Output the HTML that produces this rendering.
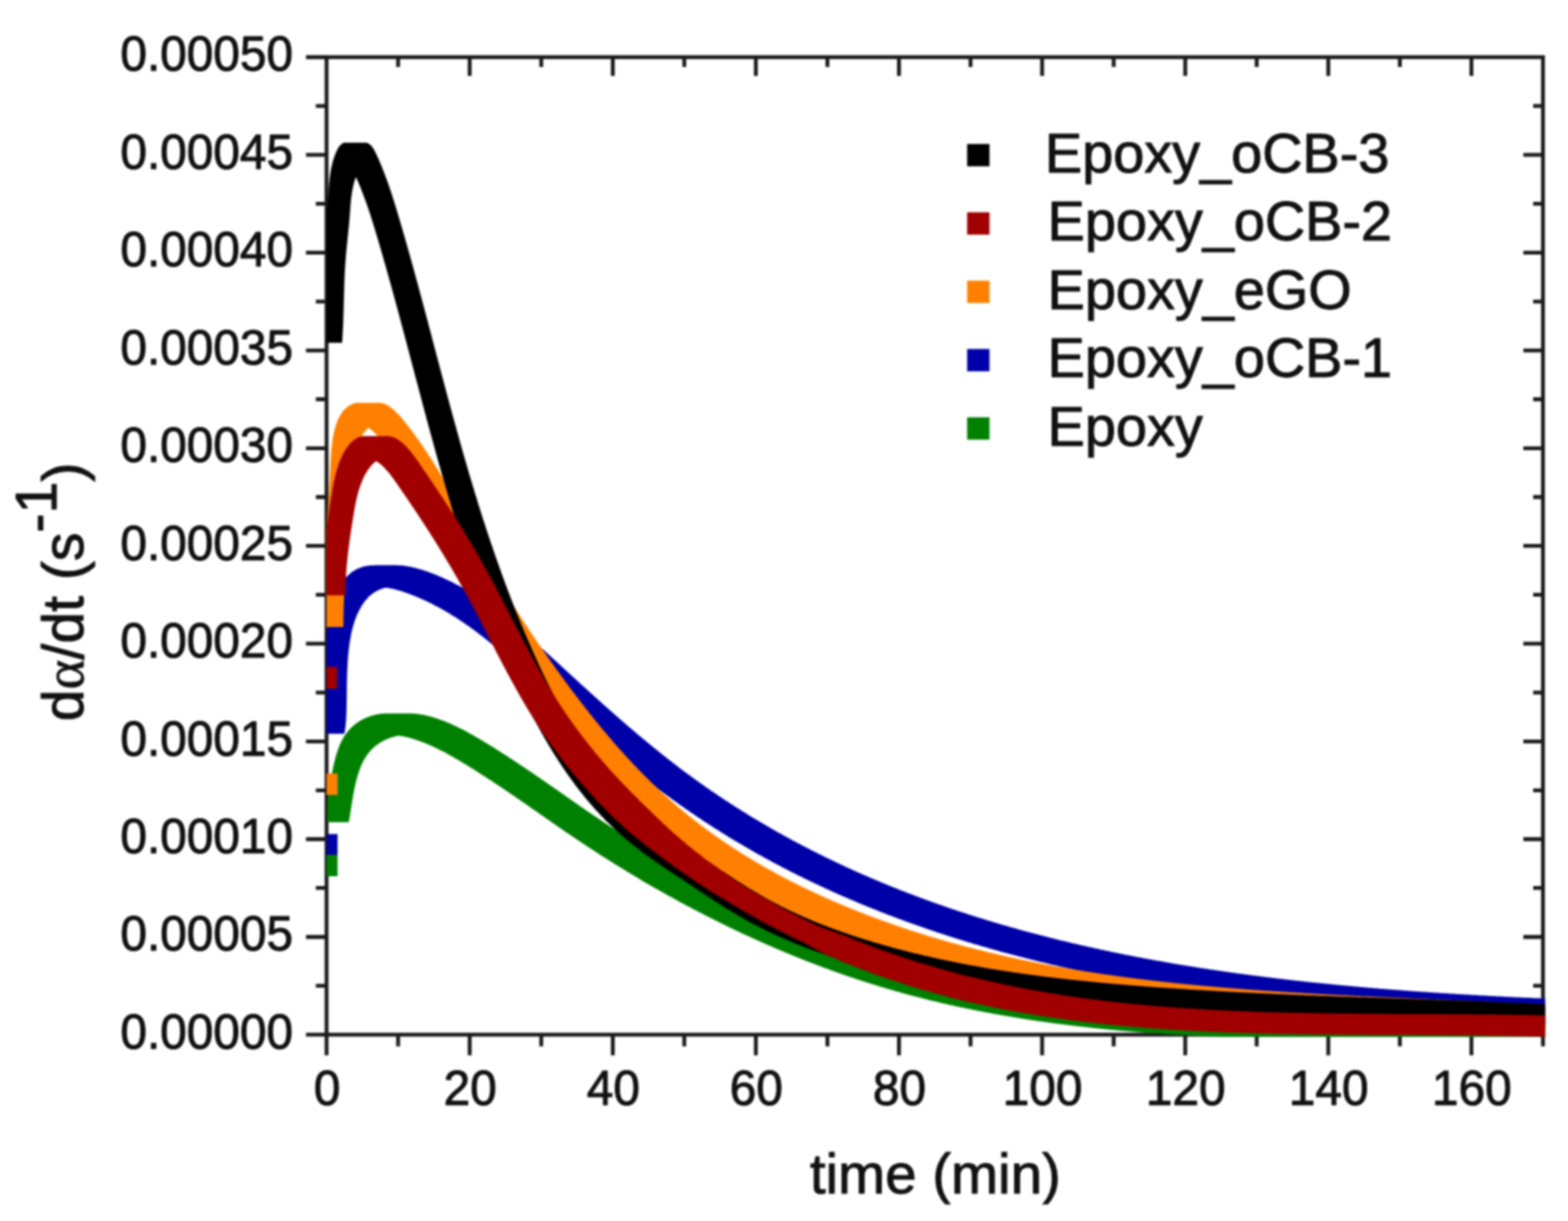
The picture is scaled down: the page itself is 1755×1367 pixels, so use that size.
<!DOCTYPE html>
<html><head><meta charset="utf-8"><style>
html,body{margin:0;padding:0;background:#fff;}
svg{display:block;}
text{font-family:"Liberation Sans",Arial,Helvetica,sans-serif;fill:#111;stroke:#111;stroke-width:1.1px;stroke-linejoin:round;paint-order:stroke fill;}
svg{filter:blur(1px);}
</style></head><body>
<svg width="1755" height="1367" viewBox="0 0 1755 1367">
<defs><clipPath id="pc"><rect x="365.5" y="64.0" width="1363.9" height="1096.8"/></clipPath></defs>
<rect width="1755" height="1367" fill="#fff"/>
<g stroke="#1a1a1a" stroke-width="4.3" fill="none">
<rect x="365.5" y="64.0" width="1361.5" height="1094.4"/>
<path d="M365.5 1158.4v23M445.6 1158.4v13M445.6 64.0v11M525.7 1158.4v23M525.7 64.0v21M605.8 1158.4v13M605.8 64.0v11M685.9 1158.4v23M685.9 64.0v21M765.9 1158.4v13M765.9 64.0v11M846.0 1158.4v23M846.0 64.0v21M926.1 1158.4v13M926.1 64.0v11M1006.2 1158.4v23M1006.2 64.0v21M1086.3 1158.4v13M1086.3 64.0v11M1166.4 1158.4v23M1166.4 64.0v21M1246.5 1158.4v13M1246.5 64.0v11M1326.6 1158.4v23M1326.6 64.0v21M1406.6 1158.4v13M1406.6 64.0v11M1486.7 1158.4v23M1486.7 64.0v21M1566.8 1158.4v13M1566.8 64.0v11M1646.9 1158.4v23M1646.9 64.0v21M1727.0 1158.4v13M365.5 1158.4h-23M365.5 1103.7h-12M1727.0 1103.7h-11M365.5 1049.0h-23M1727.0 1049.0h-22M365.5 994.2h-12M1727.0 994.2h-11M365.5 939.5h-23M1727.0 939.5h-22M365.5 884.8h-12M1727.0 884.8h-11M365.5 830.1h-23M1727.0 830.1h-22M365.5 775.4h-12M1727.0 775.4h-11M365.5 720.6h-23M1727.0 720.6h-22M365.5 665.9h-12M1727.0 665.9h-11M365.5 611.2h-23M1727.0 611.2h-22M365.5 556.5h-12M1727.0 556.5h-11M365.5 501.8h-23M1727.0 501.8h-22M365.5 447.0h-12M1727.0 447.0h-11M365.5 392.3h-23M1727.0 392.3h-22M365.5 337.6h-12M1727.0 337.6h-11M365.5 282.9h-23M1727.0 282.9h-22M365.5 228.2h-12M1727.0 228.2h-11M365.5 173.4h-23M1727.0 173.4h-22M365.5 118.7h-12M1727.0 118.7h-11M365.5 64.0h-23"/>
</g>
<g clip-path="url(#pc)" fill="none" stroke-width="24" stroke-linecap="square">
<path d="M365.8 945.7h0M373.4 809.4h0M373.6 808.8h0M373.7 808.1h0M373.8 807.4h0M374 806.8h0M374.1 806.1h0M374.2 805.4h0M374.3 804.6h0M374.4 803.9h0M374.5 803.2h0M374.6 802.4h0M374.7 801.7h0M374.8 800.9h0M374.9 800.1h0M375 799.3h0M375 798.5h0M375.1 797.7h0M375.2 796.9h0M375.2 796h0M375.3 795.2h0M375.4 794.3h0M375.4 793.5h0M375.5 792.6h0M375.5 791.7h0M375.6 790.8h0M375.6 789.9h0M375.6 789h0M375.7 788.1h0M375.7 787.2h0M375.8 786.3h0M375.8 785.3h0M375.8 784.4h0M375.8 783.4h0M375.9 782.5h0M375.9 781.5h0M375.9 780.5h0M375.9 779.5h0M376 778.5h0M376 777.5h0M376 776.5h0M376 775.5h0M376 774.5h0M376 773.5h0M376.1 772.5h0M376.1 771.4h0M376.1 770.4h0M376.1 769.3h0M376.1 768.3h0M376.1 767.2h0M376.1 766.2h0M376.1 765.1h0M376.1 764h0M376.2 763h0M376.2 761.9h0M376.2 760.8h0M376.2 759.7h0M376.2 758.6h0M376.2 757.5h0M376.2 756.4h0M376.3 755.3h0M376.3 754.2h0M376.3 753.1h0M376.3 752h0M376.3 750.9h0M376.4 749.8h0M376.4 748.7h0M376.4 747.5h0M376.4 746.4h0M376.5 745.3h0M376.5 744.2h0M376.5 743h0M376.6 741.9h0M376.6 740.8h0M376.7 739.7h0M376.7 738.5h0M376.8 737.4h0M376.8 736.3h0M376.9 735.1h0M376.9 734h0M377 732.8h0M377 731.7h0M377.1 730.6h0M377.2 729.4h0M377.3 728.3h0M377.3 727.2h0M377.4 726h0M377.5 724.9h0M377.6 723.8h0M377.7 722.6h0M377.8 721.5h0M377.9 720.4h0M378 719.3h0M378.1 718.1h0M378.2 717h0M378.4 715.9h0M378.5 714.8h0M378.6 713.7h0M378.8 712.5h0M378.9 711.4h0M379.1 710.3h0M379.2 709.2h0M379.4 708.1h0M379.5 707h0M379.7 705.9h0M379.9 704.8h0M380.1 703.8h0M380.3 702.7h0M380.5 701.6h0M380.7 700.5h0M380.9 699.4h0M381.1 698.4h0M381.3 697.3h0M381.6 696.3h0M381.8 695.2h0M382 694.2h0M382.3 693.1h0M382.6 692.1h0M382.8 691.1h0M383.1 690h0M383.4 689h0M383.7 688h0M384 687h0M384.3 686h0M384.6 685h0M384.9 684h0M385.2 683.1h0M385.6 682.1h0M385.9 681.1h0M386.3 680.2h0M386.7 679.2h0M387 678.3h0M387.4 677.4h0M387.8 676.4h0M388.2 675.5h0M388.6 674.6h0M389.1 673.7h0M389.5 672.8h0M389.9 672h0M390.4 671.1h0M390.8 670.2h0M391.3 669.4h0M391.8 668.5h0M392.3 667.7h0M392.7 666.9h0M393.2 666.1h0M393.8 665.3h0M394.3 664.5h0M394.8 663.7h0M395.3 663h0M395.9 662.2h0M396.4 661.5h0M397 660.8h0M397.6 660.1h0M398.2 659.4h0M398.8 658.7h0M399.3 658.1h0M400 657.4h0M400.6 656.8h0M401.8 655.6h0M402.5 655h0M403.1 654.4h0M403.8 653.8h0M404.5 653.3h0M405.1 652.8h0M405.8 652.3h0M406.5 651.8h0M407.2 651.3h0M407.9 650.9h0M408.7 650.4h0M409.4 650h0M410.1 649.6h0M410.9 649.2h0M411.6 648.9h0M412.4 648.5h0M413.2 648.2h0M413.9 647.9h0M414.7 647.6h0M415.5 647.3h0M416.3 647h0M417.1 646.8h0M417.9 646.6h0M418.7 646.3h0M419.6 646.1h0M420.4 645.9h0M421.2 645.8h0M422.1 645.6h0M422.9 645.5h0M423.8 645.4h0M424.7 645.2h0M425.5 645.1h0M426.4 645.1h0M427.3 645h0M428.2 644.9h0M429.1 644.9h0M430 644.9h0M430.9 644.8h0M431.8 644.8h0M432.7 644.8h0M433.6 644.9h0M434.5 644.9h0M435.4 644.9h0M436.4 645h0M437.3 645.1h0M438.2 645.1h0M439.2 645.2h0M440.1 645.3h0M441 645.5h0M442 645.6h0M442.9 645.7h0M443.9 645.9h0M444.9 646h0M445.8 646.2h0M446.8 646.4h0M447.7 646.6h0M448.7 646.8h0M449.7 647h0M450.6 647.2h0M451.6 647.4h0M452.6 647.6h0M453.6 647.9h0M454.5 648.1h0M455.5 648.4h0M456.5 648.7h0M457.5 648.9h0M458.4 649.2h0M459.4 649.5h0M460.4 649.8h0M461.4 650.1h0M462.4 650.4h0M463.3 650.7h0M464.3 651.1h0M465.3 651.4h0M466.3 651.7h0M467.3 652.1h0M468.2 652.4h0M469.2 652.8h0M470.2 653.2h0M471.2 653.5h0M472.2 653.9h0M473.1 654.3h0M474.1 654.7h0M475.1 655.1h0M476 655.5h0M477 655.8h0M478 656.3h0M478.9 656.7h0M479.9 657.1h0M480.9 657.5h0M481.8 657.9h0M482.8 658.3h0M483.7 658.7h0M484.7 659.2h0M485.6 659.6h0M486.5 660h0M487.5 660.5h0M488.4 660.9h0M489.3 661.3h0M490.3 661.8h0M491.2 662.2h0M492.1 662.7h0M493 663.1h0M494 663.6h0M494.9 664.1h0M495.8 664.5h0M496.7 665h0M497.6 665.4h0M498.5 665.9h0M499.4 666.4h0M500.3 666.9h0M501.2 667.3h0M502.1 667.8h0M503 668.3h0M503.9 668.8h0M504.8 669.3h0M505.7 669.8h0M506.6 670.3h0M507.4 670.8h0M508.3 671.3h0M509.2 671.8h0M510.1 672.3h0M510.9 672.8h0M511.8 673.3h0M512.7 673.8h0M513.5 674.3h0M514.4 674.8h0M515.3 675.3h0M516.1 675.9h0M517 676.4h0M517.8 676.9h0M518.7 677.4h0M519.5 678h0M520.4 678.5h0M521.2 679.1h0M522.1 679.6h0M522.9 680.1h0M523.7 680.7h0M524.6 681.2h0M525.4 681.8h0M526.2 682.3h0M527.1 682.9h0M527.9 683.4h0M528.7 684h0M529.5 684.5h0M530.4 685.1h0M531.2 685.7h0M532 686.2h0M532.8 686.8h0M533.6 687.4h0M534.5 687.9h0M535.3 688.5h0M536.1 689.1h0M536.9 689.6h0M537.7 690.2h0M538.5 690.8h0M539.3 691.4h0M540.1 692h0M540.9 692.6h0M541.7 693.1h0M542.5 693.7h0M543.3 694.3h0M544.1 694.9h0M544.9 695.5h0M545.7 696.1h0M546.5 696.7h0M547.2 697.3h0M548 697.9h0M548.8 698.5h0M549.6 699.1h0M550.4 699.7h0M551.2 700.3h0M551.9 700.9h0M552.7 701.5h0M553.5 702.2h0M554.3 702.8h0M555.1 703.4h0M555.8 704h0M556.6 704.6h0M557.4 705.2h0M558.1 705.9h0M558.9 706.5h0M559.7 707.1h0M560.4 707.7h0M561.2 708.4h0M562 709h0M562.7 709.6h0M563.5 710.3h0M564.3 710.9h0M565 711.5h0M565.8 712.2h0M566.5 712.8h0M567.3 713.4h0M568 714.1h0M568.8 714.7h0M569.5 715.4h0M570.3 716h0M571.1 716.6h0M571.8 717.3h0M572.6 717.9h0M573.3 718.6h0M574.1 719.2h0M574.8 719.9h0M575.6 720.5h0M576.3 721.2h0M577 721.8h0M577.8 722.5h0M578.5 723.1h0M579.3 723.8h0M580 724.4h0M580.8 725.1h0M581.5 725.8h0M582.2 726.4h0M583 727.1h0M583.7 727.7h0M584.5 728.4h0M585.2 729.1h0M586 729.7h0M586.7 730.4h0M587.4 731.1h0M588.2 731.7h0M588.9 732.4h0M589.6 733h0M590.4 733.7h0M591.1 734.4h0M591.9 735.1h0M592.6 735.7h0M593.3 736.4h0M594.1 737.1h0M594.8 737.7h0M595.5 738.4h0M596.3 739.1h0M597 739.7h0M597.7 740.4h0M598.5 741.1h0M599.2 741.8h0M599.9 742.4h0M600.7 743.1h0M601.4 743.8h0M602.1 744.5h0M602.9 745.1h0M603.6 745.8h0M604.3 746.5h0M605.1 747.2h0M605.8 747.8h0M606.5 748.5h0M607.3 749.2h0M608 749.9h0M608.8 750.5h0M609.5 751.2h0M610.2 751.9h0M611 752.6h0M611.7 753.3h0M612.4 753.9h0M613.2 754.6h0M613.9 755.3h0M614.6 756h0M615.4 756.6h0M616.1 757.3h0M616.8 758h0M617.6 758.7h0M618.3 759.4h0M619.1 760h0M619.8 760.7h0M620.5 761.4h0M621.3 762.1h0M622 762.8h0M622.8 763.4h0M623.5 764.1h0M624.2 764.8h0M625 765.5h0M625.7 766.2h0M626.5 766.8h0M627.2 767.5h0M627.9 768.2h0M628.7 768.9h0M629.4 769.5h0M630.2 770.2h0M630.9 770.9h0M631.6 771.6h0M632.4 772.3h0M633.1 772.9h0M633.9 773.6h0M634.6 774.3h0M635.3 775h0M636.1 775.7h0M636.8 776.3h0M637.6 777h0M638.3 777.7h0M639.1 778.4h0M639.8 779.1h0M640.6 779.7h0M641.3 780.4h0M642 781.1h0M642.8 781.8h0M643.5 782.5h0M644.3 783.1h0M645 783.8h0M645.8 784.5h0M646.5 785.2h0M647.3 785.8h0M648 786.5h0M648.8 787.2h0M649.5 787.9h0M650.3 788.5h0M651 789.2h0M651.8 789.9h0M652.5 790.6h0M653.3 791.3h0M654 791.9h0M654.8 792.6h0M655.5 793.3h0M656.3 794h0M657 794.6h0M657.8 795.3h0M658.5 796h0M659.3 796.7h0M660 797.3h0M660.8 798h0M661.5 798.7h0M662.3 799.4h0M663 800h0M663.8 800.7h0M664.5 801.4h0M665.3 802h0M666 802.7h0M666.8 803.4h0M667.5 804.1h0M668.3 804.7h0M669.1 805.4h0M669.8 806.1h0M670.6 806.7h0M671.3 807.4h0M672.1 808.1h0M672.8 808.8h0M673.6 809.4h0M674.4 810.1h0M675.1 810.8h0M675.9 811.4h0M676.6 812.1h0M677.4 812.8h0M678.1 813.4h0M678.9 814.1h0M679.7 814.8h0M680.4 815.4h0M681.2 816.1h0M682 816.8h0M682.7 817.4h0M683.5 818.1h0M684.2 818.7h0M685 819.4h0M685.8 820.1h0M686.5 820.7h0M687.3 821.4h0M688.1 822.1h0M688.8 822.7h0M689.6 823.4h0M690.3 824h0M691.1 824.7h0M691.9 825.4h0M692.6 826h0M693.4 826.7h0M694.2 827.3h0M694.9 828h0M695.7 828.6h0M696.5 829.3h0M697.3 830h0M698 830.6h0M698.8 831.3h0M699.6 831.9h0M700.3 832.6h0M701.1 833.2h0M701.9 833.9h0M702.6 834.5h0M703.4 835.2h0M704.2 835.8h0M705 836.5h0M705.7 837.1h0M706.5 837.8h0M707.3 838.4h0M708.1 839.1h0M708.8 839.7h0M709.6 840.3h0M710.4 841h0M711.2 841.6h0M711.9 842.3h0M712.7 842.9h0M713.5 843.6h0M714.3 844.2h0M715 844.8h0M715.8 845.5h0M716.6 846.1h0M717.4 846.8h0M718.2 847.4h0M718.9 848h0M719.7 848.7h0M720.5 849.3h0M721.3 849.9h0M722.1 850.6h0M722.9 851.2h0M723.6 851.8h0M724.4 852.5h0M725.2 853.1h0M726 853.7h0M726.8 854.4h0M727.6 855h0M728.3 855.6h0M729.1 856.3h0M729.9 856.9h0M730.7 857.5h0M731.5 858.1h0M732.3 858.8h0M733.1 859.4h0M733.9 860h0M734.6 860.6h0M735.4 861.2h0M736.2 861.9h0M737 862.5h0M737.8 863.1h0M738.6 863.7h0M739.4 864.3h0M740.2 865h0M741 865.6h0M741.8 866.2h0M742.6 866.8h0M743.4 867.4h0M744.2 868h0M745 868.6h0M745.8 869.2h0M746.5 869.8h0M747.3 870.5h0M748.1 871.1h0M748.9 871.7h0M749.7 872.3h0M750.5 872.9h0M751.3 873.5h0M752.1 874.1h0M752.9 874.7h0M753.7 875.3h0M754.5 875.9h0M755.3 876.5h0M756.1 877.1h0M757 877.7h0M757.8 878.3h0M758.6 878.9h0M759.4 879.4h0M760.2 880h0M761 880.6h0M761.8 881.2h0M762.6 881.8h0M763.4 882.4h0M764.2 883h0M765 883.6h0M765.8 884.2h0M766.6 884.7h0M767.4 885.3h0M768.3 885.9h0M769.1 886.5h0M769.9 887.1h0M770.7 887.7h0M771.5 888.2h0M772.3 888.8h0M773.1 889.4h0M773.9 890h0M774.8 890.5h0M775.6 891.1h0M776.4 891.7h0M777.2 892.3h0M778 892.8h0M778.8 893.4h0M779.6 894h0M780.5 894.5h0M781.3 895.1h0M782.1 895.7h0M782.9 896.2h0M783.7 896.8h0M784.6 897.4h0M785.4 897.9h0M786.2 898.5h0M787 899h0M787.8 899.6h0M788.7 900.2h0M789.5 900.7h0M790.3 901.3h0M791.1 901.8h0M792 902.4h0M792.8 902.9h0M793.6 903.5h0M794.4 904.1h0M795.3 904.6h0M796.1 905.2h0M796.9 905.7h0M797.7 906.3h0M798.6 906.8h0M799.4 907.4h0M800.2 907.9h0M801.1 908.4h0M801.9 909h0M802.7 909.5h0M803.6 910.1h0M804.4 910.6h0M805.2 911.2h0M806.1 911.7h0M806.9 912.2h0M807.7 912.8h0M808.6 913.3h0M809.4 913.8h0M810.2 914.4h0M811.1 914.9h0M811.9 915.4h0M812.7 916h0M813.6 916.5h0M814.4 917h0M815.2 917.6h0M816.1 918.1h0M816.9 918.6h0M817.8 919.2h0M818.6 919.7h0M819.4 920.2h0M820.3 920.7h0M821.1 921.3h0M822 921.8h0M822.8 922.3h0M823.6 922.8h0M824.5 923.3h0M825.3 923.9h0M826.2 924.4h0M827 924.9h0M827.9 925.4h0M828.7 925.9h0M829.5 926.4h0M830.4 927h0M831.2 927.5h0M832.1 928h0M832.9 928.5h0M833.8 929h0M834.6 929.5h0M835.5 930h0M836.3 930.5h0M837.2 931h0M838 931.5h0M838.9 932h0M839.7 932.5h0M840.6 933.1h0M841.4 933.6h0M842.3 934.1h0M843.1 934.6h0M844 935.1h0M844.8 935.6h0M845.7 936.1h0M846.5 936.5h0M847.4 937h0M848.3 937.5h0M849.1 938h0M850 938.5h0M850.8 939h0M851.7 939.5h0M852.5 940h0M853.4 940.5h0M854.3 941h0M855.1 941.5h0M856 942h0M856.8 942.4h0M857.7 942.9h0M858.5 943.4h0M859.4 943.9h0M860.3 944.4h0M861.1 944.9h0M862 945.3h0M862.9 945.8h0M863.7 946.3h0M864.6 946.8h0M865.4 947.3h0M866.3 947.7h0M867.2 948.2h0M868 948.7h0M868.9 949.2h0M869.8 949.6h0M870.6 950.1h0M871.5 950.6h0M872.4 951.1h0M873.2 951.5h0M874.1 952h0M875 952.5h0M875.8 952.9h0M876.7 953.4h0M877.6 953.9h0M878.4 954.3h0M879.3 954.8h0M880.2 955.3h0M881.1 955.7h0M881.9 956.2h0M882.8 956.6h0M883.7 957.1h0M884.5 957.6h0M885.4 958h0M886.3 958.5h0M887.2 958.9h0M888 959.4h0M888.9 959.8h0M889.8 960.3h0M890.7 960.8h0M891.5 961.2h0M892.4 961.7h0M893.3 962.1h0M894.2 962.6h0M895 963h0M895.9 963.5h0M896.8 963.9h0M897.7 964.4h0M898.6 964.8h0M899.4 965.2h0M900.3 965.7h0M901.2 966.1h0M902.1 966.6h0M903 967h0M903.8 967.5h0M904.7 967.9h0M905.6 968.3h0M906.5 968.8h0M907.4 969.2h0M908.3 969.6h0M909.1 970.1h0M910 970.5h0M910.9 971h0M911.8 971.4h0M912.7 971.8h0M913.6 972.3h0M914.4 972.7h0M915.3 973.1h0M916.2 973.5h0M917.1 974h0M918 974.4h0M918.9 974.8h0M919.8 975.3h0M920.7 975.7h0M921.5 976.1h0M922.4 976.5h0M923.3 977h0M924.2 977.4h0M925.1 977.8h0M926 978.2h0M926.9 978.6h0M927.8 979.1h0M928.7 979.5h0M929.6 979.9h0M930.5 980.3h0M931.4 980.7h0M932.2 981.1h0M933.1 981.6h0M934 982h0M934.9 982.4h0M935.8 982.8h0M936.7 983.2h0M937.6 983.6h0M938.5 984h0M939.4 984.4h0M940.3 984.8h0M941.2 985.3h0M942.1 985.7h0M943 986.1h0M943.9 986.5h0M944.8 986.9h0M945.7 987.3h0M946.6 987.7h0M947.5 988.1h0M948.4 988.5h0M949.3 988.9h0M950.2 989.3h0M951.1 989.7h0M952 990.1h0M952.9 990.5h0M953.8 990.9h0M954.7 991.3h0M955.6 991.7h0M956.5 992.1h0M957.4 992.5h0M958.3 992.8h0M959.2 993.2h0M960.1 993.6h0M961 994h0M961.9 994.4h0M962.8 994.8h0M963.8 995.2h0M964.7 995.6h0M965.6 996h0M966.5 996.3h0M967.4 996.7h0M968.3 997.1h0M969.2 997.5h0M970.1 997.9h0M971 998.3h0M971.9 998.6h0M972.8 999h0M973.7 999.4h0M974.7 999.8h0M975.6 1000.2h0M976.5 1000.5h0M977.4 1000.9h0M978.3 1001.3h0M979.2 1001.7h0M980.1 1002h0M981 1002.4h0M981.9 1002.8h0M982.9 1003.2h0M983.8 1003.5h0M984.7 1003.9h0M985.6 1004.3h0M986.5 1004.6h0M987.4 1005h0M988.3 1005.4h0M989.3 1005.8h0M990.2 1006.1h0M991.1 1006.5h0M992 1006.8h0M992.9 1007.2h0M993.8 1007.6h0M994.8 1007.9h0M995.7 1008.3h0M996.6 1008.7h0M997.5 1009h0M998.4 1009.4h0M999.4 1009.7h0M1000.3 1010.1h0M1001.2 1010.5h0M1002.1 1010.8h0M1003 1011.2h0M1004 1011.5h0M1004.9 1011.9h0M1005.8 1012.2h0M1006.7 1012.6h0M1007.6 1012.9h0M1008.6 1013.3h0M1009.5 1013.6h0M1010.4 1014h0M1011.3 1014.3h0M1012.3 1014.7h0M1013.2 1015h0M1014.1 1015.4h0M1015 1015.7h0M1016 1016.1h0M1016.9 1016.4h0M1017.8 1016.8h0M1018.7 1017.1h0M1019.7 1017.5h0M1020.6 1017.8h0M1021.5 1018.1h0M1022.4 1018.5h0M1023.4 1018.8h0M1024.3 1019.2h0M1025.2 1019.5h0M1026.2 1019.8h0M1027.1 1020.2h0M1028 1020.5h0M1028.9 1020.8h0M1029.9 1021.2h0M1030.8 1021.5h0M1031.7 1021.8h0M1032.7 1022.2h0M1033.6 1022.5h0M1034.5 1022.8h0M1035.5 1023.2h0M1036.4 1023.5h0M1037.3 1023.8h0M1038.3 1024.2h0M1039.2 1024.5h0M1040.1 1024.8h0M1041.1 1025.1h0M1042 1025.5h0M1042.9 1025.8h0M1043.9 1026.1h0M1044.8 1026.5h0M1045.7 1026.8h0M1046.7 1027.1h0M1047.6 1027.4h0M1048.5 1027.7h0M1049.5 1028.1h0M1050.4 1028.4h0M1051.3 1028.7h0M1052.3 1029h0M1053.2 1029.3h0M1054.1 1029.7h0M1055.1 1030h0M1056 1030.3h0M1057 1030.6h0M1057.9 1030.9h0M1058.8 1031.2h0M1059.8 1031.5h0M1060.7 1031.9h0M1061.7 1032.2h0M1062.6 1032.5h0M1063.5 1032.8h0M1064.5 1033.1h0M1065.4 1033.4h0M1066.4 1033.7h0M1067.3 1034h0M1068.2 1034.3h0M1069.2 1034.6h0M1070.1 1034.9h0M1071.1 1035.2h0M1072 1035.6h0M1073 1035.9h0M1073.9 1036.2h0M1074.8 1036.5h0M1075.8 1036.8h0M1076.7 1037.1h0M1077.7 1037.4h0M1078.6 1037.7h0M1079.6 1038h0M1080.5 1038.3h0M1081.5 1038.6h0M1082.4 1038.9h0M1083.3 1039.2h0M1084.3 1039.4h0M1085.2 1039.7h0M1086.2 1040h0M1087.1 1040.3h0M1088.1 1040.6h0M1089 1040.9h0M1090 1041.2h0M1090.9 1041.5h0M1091.9 1041.8h0M1092.8 1042.1h0M1093.8 1042.4h0M1094.7 1042.7h0M1095.7 1042.9h0M1096.6 1043.2h0M1097.6 1043.5h0M1098.5 1043.8h0M1099.5 1044.1h0M1100.4 1044.4h0M1101.4 1044.7h0M1102.3 1044.9h0M1103.3 1045.2h0M1104.2 1045.5h0M1105.2 1045.8h0M1106.1 1046.1h0M1107.1 1046.4h0M1108 1046.6h0M1109 1046.9h0M1109.9 1047.2h0M1110.9 1047.5h0M1111.8 1047.7h0M1112.8 1048h0M1113.7 1048.3h0M1114.7 1048.6h0M1115.7 1048.8h0M1116.6 1049.1h0M1117.6 1049.4h0M1118.5 1049.7h0M1119.5 1049.9h0M1120.4 1050.2h0M1121.4 1050.5h0M1122.3 1050.8h0M1123.3 1051h0M1124.3 1051.3h0M1125.2 1051.6h0M1126.2 1051.8h0M1127.1 1052.1h0M1128.1 1052.4h0M1129 1052.6h0M1130 1052.9h0M1131 1053.2h0M1131.9 1053.4h0M1132.9 1053.7h0M1133.8 1053.9h0M1134.8 1054.2h0M1135.8 1054.5h0M1136.7 1054.7h0M1137.7 1055h0M1138.6 1055.2h0M1139.6 1055.5h0M1140.6 1055.8h0M1141.5 1056h0M1142.5 1056.3h0M1143.4 1056.5h0M1144.4 1056.8h0M1145.4 1057h0M1146.3 1057.3h0M1147.3 1057.6h0M1148.2 1057.8h0M1149.2 1058.1h0M1150.2 1058.3h0M1151.1 1058.6h0M1152.1 1058.8h0M1153.1 1059.1h0M1154 1059.3h0M1155 1059.6h0M1156 1059.8h0M1156.9 1060.1h0M1157.9 1060.3h0M1158.9 1060.6h0M1159.8 1060.8h0M1160.8 1061.1h0M1161.7 1061.3h0M1162.7 1061.5h0M1163.7 1061.8h0M1164.6 1062h0M1165.6 1062.3h0M1166.6 1062.5h0M1167.5 1062.8h0M1168.5 1063h0M1169.5 1063.2h0M1170.4 1063.5h0M1171.4 1063.7h0M1172.4 1064h0M1173.3 1064.2h0M1174.3 1064.4h0M1175.3 1064.7h0M1176.3 1064.9h0M1177.2 1065.1h0M1178.2 1065.4h0M1179.2 1065.6h0M1180.1 1065.8h0M1181.1 1066.1h0M1182.1 1066.3h0M1183 1066.5h0M1184 1066.8h0M1185 1067h0M1185.9 1067.2h0M1186.9 1067.5h0M1187.9 1067.7h0M1188.9 1067.9h0M1189.8 1068.2h0M1190.8 1068.4h0M1191.8 1068.6h0M1192.7 1068.8h0M1193.7 1069.1h0M1194.7 1069.3h0M1195.7 1069.5h0M1196.6 1069.7h0M1197.6 1070h0M1198.6 1070.2h0M1199.6 1070.4h0M1200.5 1070.6h0M1201.5 1070.9h0M1202.5 1071.1h0M1203.5 1071.3h0M1204.4 1071.5h0M1205.4 1071.7h0M1206.4 1072h0M1207.4 1072.2h0M1208.3 1072.4h0M1209.3 1072.6h0M1210.3 1072.8h0M1211.3 1073h0M1212.2 1073.3h0M1213.2 1073.5h0M1214.2 1073.7h0M1215.2 1073.9h0M1216.1 1074.1h0M1217.1 1074.3h0M1218.1 1074.5h0M1219.1 1074.8h0M1220 1075h0M1221 1075.2h0M1222 1075.4h0M1223 1075.6h0M1223.9 1075.8h0M1224.9 1076h0M1225.9 1076.2h0M1226.9 1076.4h0M1227.9 1076.6h0M1228.8 1076.8h0M1229.8 1077h0M1230.8 1077.3h0M1231.8 1077.5h0M1232.8 1077.7h0M1233.7 1077.9h0M1234.7 1078.1h0M1235.7 1078.3h0M1236.7 1078.5h0M1237.7 1078.7h0M1238.6 1078.9h0M1239.6 1079.1h0M1240.6 1079.3h0M1241.6 1079.5h0M1242.6 1079.7h0M1243.5 1079.9h0M1244.5 1080.1h0M1245.5 1080.3h0M1246.5 1080.5h0M1247.5 1080.7h0M1248.4 1080.9h0M1249.4 1081.1h0M1250.4 1081.3h0M1251.4 1081.4h0M1252.4 1081.6h0M1253.4 1081.8h0M1254.3 1082h0M1255.3 1082.2h0M1256.3 1082.4h0M1257.3 1082.6h0M1258.3 1082.8h0M1259.3 1083h0M1260.2 1083.2h0M1261.2 1083.4h0M1262.2 1083.5h0M1263.2 1083.7h0M1264.2 1083.9h0M1265.2 1084.1h0M1266.1 1084.3h0M1267.1 1084.5h0M1268.1 1084.7h0M1269.1 1084.9h0M1270.1 1085h0M1271.1 1085.2h0M1272.1 1085.4h0M1273 1085.6h0M1274 1085.8h0M1275 1086h0M1276 1086.1h0M1277 1086.3h0M1278 1086.5h0M1279 1086.7h0M1279.9 1086.9h0M1280.9 1087h0M1281.9 1087.2h0M1282.9 1087.4h0M1283.9 1087.6h0M1284.9 1087.8h0M1285.9 1087.9h0M1286.9 1088.1h0M1287.8 1088.3h0M1288.8 1088.5h0M1289.8 1088.6h0M1290.8 1088.8h0M1291.8 1089h0M1292.8 1089.2h0M1293.8 1089.3h0M1294.8 1089.5h0M1295.7 1089.7h0M1296.7 1089.8h0M1297.7 1090h0M1298.7 1090.2h0M1299.7 1090.4h0M1300.7 1090.5h0M1301.7 1090.7h0M1302.7 1090.9h0M1303.7 1091h0M1304.7 1091.2h0M1305.6 1091.4h0M1306.6 1091.5h0M1307.6 1091.7h0M1308.6 1091.9h0M1309.6 1092h0M1310.6 1092.2h0M1311.6 1092.4h0M1312.6 1092.5h0M1313.6 1092.7h0M1314.6 1092.8h0M1315.5 1093h0M1316.5 1093.2h0M1317.5 1093.3h0M1318.5 1093.5h0M1319.5 1093.7h0M1320.5 1093.8h0M1321.5 1094h0M1322.5 1094.1h0M1323.5 1094.3h0M1324.5 1094.5h0M1325.5 1094.6h0M1326.5 1094.8h0M1327.4 1094.9h0M1328.4 1095.1h0M1329.4 1095.2h0M1330.4 1095.4h0M1331.4 1095.6h0M1332.4 1095.7h0M1333.4 1095.9h0M1334.4 1096h0M1335.4 1096.2h0M1336.4 1096.3h0M1337.4 1096.5h0M1338.4 1096.6h0M1339.4 1096.8h0M1340.4 1096.9h0M1341.3 1097.1h0M1342.3 1097.2h0M1343.3 1097.4h0M1344.3 1097.5h0M1345.3 1097.7h0M1346.3 1097.8h0M1347.3 1098h0M1348.3 1098.1h0M1349.3 1098.3h0M1350.3 1098.4h0M1351.3 1098.6h0M1352.3 1098.7h0M1353.3 1098.9h0M1354.3 1099h0M1355.3 1099.1h0M1356.3 1099.3h0M1357.3 1099.4h0M1358.3 1099.6h0M1359.2 1099.7h0M1360.2 1099.9h0M1361.2 1100h0M1362.2 1100.1h0M1363.2 1100.3h0M1364.2 1100.4h0M1365.2 1100.6h0M1366.2 1100.7h0M1367.2 1100.9h0M1368.2 1101h0M1369.2 1101.1h0M1370.2 1101.3h0M1371.2 1101.4h0M1372.2 1101.5h0M1373.2 1101.7h0M1374.2 1101.8h0M1375.2 1102h0M1376.2 1102.1h0M1377.2 1102.2h0M1378.2 1102.4h0M1379.2 1102.5h0M1380.2 1102.6h0M1381.2 1102.8h0M1382.2 1102.9h0M1383.2 1103h0M1384.2 1103.2h0M1385.2 1103.3h0M1386.1 1103.4h0M1387.1 1103.6h0M1388.1 1103.7h0M1389.1 1103.8h0M1390.1 1103.9h0M1391.1 1104.1h0M1392.1 1104.2h0M1393.1 1104.3h0M1394.1 1104.5h0M1395.1 1104.6h0M1396.1 1104.7h0M1397.1 1104.8h0M1398.1 1105h0M1399.1 1105.1h0M1400.1 1105.2h0M1401.1 1105.4h0M1402.1 1105.5h0M1403.1 1105.6h0M1404.1 1105.7h0M1405.1 1105.9h0M1406.1 1106h0M1407.1 1106.1h0M1408.1 1106.2h0M1409.1 1106.3h0M1410.1 1106.5h0M1411.1 1106.6h0M1412.1 1106.7h0M1413.1 1106.8h0M1414.1 1107h0M1415.1 1107.1h0M1416.1 1107.2h0M1417.1 1107.3h0M1418.1 1107.4h0M1419.1 1107.6h0M1420.1 1107.7h0M1421.1 1107.8h0M1422.1 1107.9h0M1423.1 1108h0M1424.1 1108.1h0M1425.1 1108.3h0M1426.1 1108.4h0M1427.1 1108.5h0M1428.1 1108.6h0M1429.1 1108.7h0M1430.1 1108.8h0M1431.1 1109h0M1432.1 1109.1h0M1433.1 1109.2h0M1434.1 1109.3h0M1435.1 1109.4h0M1436.1 1109.5h0M1437.1 1109.6h0M1438.1 1109.7h0M1439.1 1109.9h0M1440.1 1110h0M1441.1 1110.1h0M1442.1 1110.2h0M1443.1 1110.3h0M1444.1 1110.4h0M1445.1 1110.5h0M1446.1 1110.6h0M1447.1 1110.7h0M1448.1 1110.8h0M1449.1 1111h0M1450.1 1111.1h0M1451.1 1111.2h0M1452.1 1111.3h0M1453.1 1111.4h0M1454.1 1111.5h0M1455.1 1111.6h0M1456.1 1111.7h0M1457.1 1111.8h0M1458.1 1111.9h0M1459.1 1112h0M1460.1 1112.1h0M1461.1 1112.2h0M1462.1 1112.3h0M1463.1 1112.4h0M1464.1 1112.5h0M1465.1 1112.6h0M1466.1 1112.7h0M1467.1 1112.8h0M1468.1 1112.9h0M1469.1 1113h0M1470.1 1113.1h0M1471.1 1113.2h0M1472.1 1113.3h0M1473.1 1113.4h0M1474.1 1113.5h0M1475.1 1113.6h0M1476.1 1113.7h0M1477.1 1113.8h0M1478.1 1113.9h0M1479.1 1114h0M1480.1 1114.1h0M1481.1 1114.2h0M1482.1 1114.3h0M1483.1 1114.4h0M1484.1 1114.5h0M1485.1 1114.6h0M1486.1 1114.7h0M1487.1 1114.8h0M1488.1 1114.9h0M1489.1 1115h0M1490.1 1115.1h0M1491.1 1115.2h0M1492.1 1115.3h0M1493.1 1115.4h0M1494.1 1115.5h0M1495.1 1115.6h0M1496.1 1115.6h0M1497.1 1115.7h0M1498.1 1115.8h0M1499.1 1115.9h0M1500.1 1116h0M1501.1 1116.1h0M1502.1 1116.2h0M1503.1 1116.3h0M1504.1 1116.4h0M1505.1 1116.5h0M1506.1 1116.6h0M1507.1 1116.6h0M1508.1 1116.7h0M1509.1 1116.8h0M1510.1 1116.9h0M1511.1 1117h0M1512.1 1117.1h0M1513.1 1117.2h0M1514.1 1117.3h0M1515.1 1117.3h0M1516.1 1117.4h0M1517.1 1117.5h0M1518.1 1117.6h0M1519.1 1117.7h0M1520.1 1117.8h0M1521.1 1117.9h0M1522.1 1117.9h0M1523.1 1118h0M1524.1 1118.1h0M1525.1 1118.2h0M1526.1 1118.3h0M1527.1 1118.4h0M1528.1 1118.4h0M1529.1 1118.5h0M1530.1 1118.6h0M1531.1 1118.7h0M1532.1 1118.8h0M1533.1 1118.9h0M1534.1 1118.9h0M1535.1 1119h0M1536.1 1119.1h0M1537.1 1119.2h0M1538.1 1119.3h0M1539.1 1119.3h0M1540.1 1119.4h0M1541.1 1119.5h0M1542.1 1119.6h0M1543.1 1119.7h0M1544.1 1119.7h0M1545.1 1119.8h0M1546.1 1119.9h0M1547.1 1120h0M1548.1 1120h0M1549.1 1120.1h0M1550.1 1120.2h0M1551.1 1120.3h0M1552.1 1120.3h0M1553.1 1120.4h0M1554.1 1120.5h0M1555.1 1120.6h0M1556.1 1120.6h0M1557.1 1120.7h0M1558.1 1120.8h0M1559.1 1120.9h0M1560.1 1120.9h0M1561.1 1121h0M1562.1 1121.1h0M1563.1 1121.2h0M1564.1 1121.2h0M1565.1 1121.3h0M1566.1 1121.4h0M1567.1 1121.5h0M1568.1 1121.5h0M1569.1 1121.6h0M1570.1 1121.7h0M1571.1 1121.7h0M1572.1 1121.8h0M1573.1 1121.9h0M1574.1 1122h0M1575.1 1122h0M1576.1 1122.1h0M1577.1 1122.2h0M1578.1 1122.2h0M1579.1 1122.3h0M1580.1 1122.4h0M1581.1 1122.4h0M1582.1 1122.5h0M1583.1 1122.6h0M1584.1 1122.6h0M1585.1 1122.7h0M1586.1 1122.8h0M1587.1 1122.8h0M1588.1 1122.9h0M1589.1 1123h0M1590 1123h0M1591 1123.1h0M1592 1123.2h0M1593 1123.2h0M1594 1123.3h0M1595 1123.4h0M1596 1123.4h0M1597 1123.5h0M1598 1123.6h0M1599 1123.6h0M1600 1123.7h0M1601 1123.8h0M1602 1123.8h0M1603 1123.9h0M1604 1124h0M1605 1124h0M1606 1124.1h0M1607 1124.1h0M1608 1124.2h0M1609 1124.3h0M1610 1124.3h0M1611 1124.4h0M1612 1124.4h0M1613 1124.5h0M1614 1124.6h0M1615 1124.6h0M1616 1124.7h0M1616.9 1124.8h0M1617.9 1124.8h0M1618.9 1124.9h0M1619.9 1124.9h0M1620.9 1125h0M1621.9 1125.1h0M1622.9 1125.1h0M1623.9 1125.2h0M1624.9 1125.2h0M1625.9 1125.3h0M1626.9 1125.3h0M1627.9 1125.4h0M1628.9 1125.5h0M1629.9 1125.5h0M1630.9 1125.6h0M1631.9 1125.6h0M1632.9 1125.7h0M1633.9 1125.7h0M1634.8 1125.8h0M1635.8 1125.9h0M1636.8 1125.9h0M1637.8 1126h0M1638.8 1126h0M1639.8 1126.1h0M1640.8 1126.1h0M1641.8 1126.2h0M1642.8 1126.3h0M1643.8 1126.3h0M1644.8 1126.4h0M1645.8 1126.4h0M1646.8 1126.5h0M1647.8 1126.5h0M1648.7 1126.6h0M1649.7 1126.6h0M1650.7 1126.7h0M1651.7 1126.7h0M1652.7 1126.8h0M1653.7 1126.8h0M1654.7 1126.9h0M1655.7 1126.9h0M1656.7 1127h0M1657.7 1127.1h0M1658.7 1127.1h0M1659.7 1127.2h0M1660.6 1127.2h0M1661.6 1127.3h0M1662.6 1127.3h0M1663.6 1127.4h0M1664.6 1127.4h0M1665.6 1127.5h0M1666.6 1127.5h0M1667.6 1127.6h0M1668.6 1127.6h0M1669.6 1127.7h0M1670.6 1127.7h0M1671.5 1127.8h0M1672.5 1127.8h0M1673.5 1127.9h0M1674.5 1127.9h0M1675.5 1128h0M1676.5 1128h0M1677.5 1128.1h0M1678.5 1128.1h0M1679.5 1128.2h0M1680.4 1128.2h0M1681.4 1128.3h0M1682.4 1128.3h0M1683.4 1128.4h0M1684.4 1128.4h0M1685.4 1128.4h0M1686.4 1128.5h0M1687.4 1128.5h0M1688.3 1128.6h0M1689.3 1128.6h0M1690.3 1128.7h0M1691.3 1128.7h0M1692.3 1128.8h0M1693.3 1128.8h0M1694.3 1128.9h0M1695.3 1128.9h0M1696.2 1129h0M1697.2 1129h0M1698.2 1129.1h0M1699.2 1129.1h0M1700.2 1129.1h0M1701.2 1129.2h0M1702.2 1129.2h0M1703.1 1129.3h0M1704.1 1129.3h0M1705.1 1129.4h0M1706.1 1129.4h0M1707.1 1129.5h0M1708.1 1129.5h0M1709.1 1129.5h0M1710 1129.6h0M1711 1129.6h0M1712 1129.7h0M1713 1129.7h0M1714 1129.8h0M1715 1129.8h0M1715.9 1129.8h0M1716.9 1129.9h0M1717.9 1129.9h0M1718.9 1130h0M1719.9 1130h0M1720.9 1130.1h0M1721.8 1130.1h0M1722.8 1130.1h0M1723.8 1130.2h0M1724.8 1130.2h0M1725.8 1130.3h0M1726.8 1130.3h0M1727.7 1130.4h0M1728.7 1130.4h0M1729.7 1130.4h0M1730.7 1130.5h0M1731.7 1130.5h0M1732.6 1130.6h0M1733.6 1130.6h0M1734.6 1130.6h0M1735.6 1130.7h0M1736.6 1130.7h0M1737.6 1130.8h0M1738.5 1130.8h0M1739.5 1130.8h0M1740.5 1130.9h0M1741.5 1130.9h0M1742.5 1131h0M1743.4 1131h0M1744.4 1131h0" stroke="#0000a8"/>
<path d="M365.8 968.9h0M378.4 908.6h0M378.6 907.7h0M378.7 906.9h0M378.9 906h0M379 905.1h0M379.2 904.2h0M379.4 903.3h0M379.5 902.4h0M379.7 901.5h0M379.8 900.6h0M380 899.6h0M380.1 898.7h0M380.3 897.7h0M380.4 896.8h0M380.6 895.8h0M380.7 894.8h0M380.9 893.8h0M381.1 892.8h0M381.2 891.8h0M381.4 890.8h0M381.5 889.8h0M381.7 888.8h0M381.8 887.8h0M382 886.7h0M382.2 885.7h0M382.3 884.7h0M382.5 883.6h0M382.7 882.6h0M382.9 881.5h0M383 880.5h0M383.2 879.5h0M383.4 878.4h0M383.6 877.3h0M383.8 876.3h0M384 875.2h0M384.2 874.2h0M384.4 873.1h0M384.6 872.1h0M384.8 871h0M385 869.9h0M385.3 868.9h0M385.5 867.8h0M385.7 866.8h0M386 865.7h0M386.2 864.7h0M386.5 863.6h0M386.7 862.6h0M387 861.5h0M387.3 860.5h0M387.6 859.5h0M387.8 858.4h0M388.1 857.4h0M388.4 856.4h0M388.7 855.4h0M389.1 854.4h0M389.4 853.4h0M389.7 852.4h0M390.1 851.4h0M390.4 850.4h0M390.8 849.4h0M391.1 848.4h0M391.5 847.5h0M391.9 846.5h0M392.3 845.6h0M392.7 844.7h0M393.1 843.7h0M393.6 842.8h0M394 841.9h0M394.4 841h0M394.9 840.1h0M395.4 839.2h0M395.9 838.4h0M396.3 837.5h0M396.8 836.7h0M397.4 835.9h0M397.9 835h0M398.4 834.2h0M399 833.4h0M399.5 832.7h0M400.1 831.9h0M400.7 831.2h0M401.3 830.4h0M401.9 829.7h0M402.6 829h0M403.2 828.3h0M403.8 827.6h0M404.5 827h0M405.2 826.3h0M405.8 825.7h0M406.5 825h0M407.2 824.4h0M407.9 823.8h0M408.6 823.2h0M409.4 822.7h0M410.1 822.1h0M410.8 821.6h0M411.6 821h0M412.3 820.5h0M413.1 820h0M413.9 819.5h0M414.7 819h0M415.4 818.6h0M416.2 818.1h0M417 817.7h0M417.8 817.3h0M418.7 816.8h0M419.5 816.4h0M420.3 816.1h0M421.1 815.7h0M422 815.3h0M422.8 815h0M423.6 814.7h0M424.5 814.4h0M425.3 814.1h0M426.2 813.8h0M427 813.5h0M427.9 813.2h0M428.8 813h0M429.6 812.7h0M430.5 812.5h0M431.4 812.3h0M432.2 812.1h0M433.1 811.9h0M434 811.8h0M434.9 811.6h0M435.8 811.5h0M436.6 811.3h0M437.5 811.2h0M438.4 811.1h0M439.3 811h0M440.2 810.9h0M441.1 810.9h0M442 810.8h0M442.9 810.8h0M443.8 810.7h0M444.7 810.7h0M445.6 810.7h0M446.5 810.7h0M447.4 810.7h0M448.3 810.7h0M449.3 810.8h0M450.2 810.8h0M451.1 810.9h0M452 810.9h0M452.9 811h0M453.9 811.1h0M454.8 811.2h0M455.7 811.3h0M456.6 811.4h0M457.6 811.6h0M458.5 811.7h0M459.4 811.8h0M460.3 812h0M461.3 812.2h0M462.2 812.3h0M463.1 812.5h0M464.1 812.7h0M465 812.9h0M466 813.1h0M466.9 813.4h0M467.8 813.6h0M468.8 813.8h0M469.7 814.1h0M470.7 814.3h0M471.6 814.6h0M472.6 814.9h0M473.5 815.1h0M474.5 815.4h0M475.4 815.7h0M476.4 816h0M477.3 816.3h0M478.2 816.7h0M479.2 817h0M480.1 817.3h0M481.1 817.7h0M482.1 818h0M483 818.4h0M484 818.7h0M484.9 819.1h0M485.9 819.5h0M486.8 819.8h0M487.8 820.2h0M488.7 820.6h0M489.7 821h0M490.6 821.4h0M491.6 821.8h0M492.5 822.3h0M493.5 822.7h0M494.4 823.1h0M495.4 823.5h0M496.3 824h0M497.3 824.4h0M498.3 824.9h0M499.2 825.3h0M500.2 825.8h0M501.1 826.3h0M502.1 826.7h0M503 827.2h0M504 827.7h0M504.9 828.2h0M505.9 828.6h0M506.8 829.1h0M507.8 829.6h0M508.7 830.1h0M509.7 830.6h0M510.6 831.1h0M511.6 831.6h0M512.5 832.2h0M513.4 832.7h0M514.4 833.2h0M515.3 833.7h0M516.3 834.2h0M517.2 834.8h0M518.1 835.3h0M519.1 835.8h0M520 836.4h0M521 836.9h0M521.9 837.4h0M522.8 838h0M523.8 838.5h0M524.7 839.1h0M525.6 839.6h0M526.5 840.2h0M527.5 840.7h0M528.4 841.3h0M529.3 841.8h0M530.2 842.4h0M531.2 843h0M532.1 843.5h0M533 844.1h0M533.9 844.6h0M534.8 845.2h0M535.7 845.8h0M536.7 846.3h0M537.6 846.9h0M538.5 847.5h0M539.4 848h0M540.3 848.6h0M541.2 849.1h0M542.1 849.7h0M543 850.3h0M543.9 850.8h0M544.8 851.4h0M545.7 852h0M546.6 852.5h0M547.4 853.1h0M548.3 853.7h0M549.2 854.2h0M550.1 854.8h0M551 855.4h0M551.9 855.9h0M552.7 856.5h0M553.6 857h0M554.5 857.6h0M555.4 858.2h0M556.2 858.7h0M557.1 859.3h0M558 859.9h0M558.8 860.4h0M559.7 861h0M560.6 861.6h0M561.4 862.1h0M562.3 862.7h0M563.2 863.3h0M564 863.8h0M564.9 864.4h0M565.7 865h0M566.6 865.5h0M567.4 866.1h0M568.3 866.7h0M569.1 867.2h0M570 867.8h0M570.8 868.4h0M571.7 868.9h0M572.5 869.5h0M573.4 870.1h0M574.2 870.6h0M575.1 871.2h0M575.9 871.8h0M576.7 872.3h0M577.6 872.9h0M578.4 873.5h0M579.2 874h0M580.1 874.6h0M580.9 875.2h0M581.8 875.7h0M582.6 876.3h0M583.4 876.8h0M584.2 877.4h0M585.1 878h0M585.9 878.5h0M586.7 879.1h0M587.6 879.7h0M588.4 880.2h0M589.2 880.8h0M590 881.4h0M590.8 881.9h0M591.7 882.5h0M592.5 883.1h0M593.3 883.6h0M594.1 884.2h0M594.9 884.8h0M595.8 885.3h0M596.6 885.9h0M597.4 886.5h0M598.2 887h0M599 887.6h0M599.8 888.1h0M600.6 888.7h0M601.5 889.3h0M602.3 889.8h0M603.1 890.4h0M603.9 891h0M604.7 891.5h0M605.5 892.1h0M606.3 892.7h0M607.1 893.2h0M607.9 893.8h0M608.7 894.3h0M609.5 894.9h0M610.4 895.5h0M611.2 896h0M612 896.6h0M612.8 897.1h0M613.6 897.7h0M614.4 898.3h0M615.2 898.8h0M616 899.4h0M616.8 900h0M617.6 900.5h0M618.4 901.1h0M619.2 901.6h0M620 902.2h0M620.8 902.8h0M621.6 903.3h0M622.4 903.9h0M623.2 904.4h0M624 905h0M624.8 905.5h0M625.6 906.1h0M626.4 906.7h0M627.2 907.2h0M628 907.8h0M628.8 908.3h0M629.6 908.9h0M630.4 909.4h0M631.2 910h0M632 910.6h0M632.8 911.1h0M633.6 911.7h0M634.4 912.2h0M635.2 912.8h0M636 913.3h0M636.8 913.9h0M637.6 914.4h0M638.4 915h0M639.2 915.5h0M640 916.1h0M640.8 916.7h0M641.6 917.2h0M642.4 917.8h0M643.2 918.3h0M644 918.9h0M644.8 919.4h0M645.6 920h0M646.4 920.5h0M647.2 921.1h0M648 921.6h0M648.9 922.2h0M649.7 922.7h0M650.5 923.3h0M651.3 923.8h0M652.1 924.3h0M652.9 924.9h0M653.7 925.4h0M654.5 926h0M655.3 926.5h0M656.1 927.1h0M656.9 927.6h0M657.7 928.2h0M658.5 928.7h0M659.4 929.3h0M660.2 929.8h0M661 930.3h0M661.8 930.9h0M662.6 931.4h0M663.4 932h0M664.2 932.5h0M665 933.1h0M665.9 933.6h0M666.7 934.1h0M667.5 934.7h0M668.3 935.2h0M669.1 935.8h0M670 936.3h0M670.8 936.8h0M671.6 937.4h0M672.4 937.9h0M673.2 938.4h0M674.1 939h0M674.9 939.5h0M675.7 940.1h0M676.5 940.6h0M677.3 941.1h0M678.2 941.7h0M679 942.2h0M679.8 942.7h0M680.6 943.3h0M681.5 943.8h0M682.3 944.3h0M683.1 944.9h0M683.9 945.4h0M684.8 945.9h0M685.6 946.4h0M686.4 947h0M687.3 947.5h0M688.1 948h0M688.9 948.6h0M689.8 949.1h0M690.6 949.6h0M691.4 950.1h0M692.3 950.7h0M693.1 951.2h0M693.9 951.7h0M694.8 952.2h0M695.6 952.8h0M696.4 953.3h0M697.3 953.8h0M698.1 954.3h0M698.9 954.9h0M699.8 955.4h0M700.6 955.9h0M701.5 956.4h0M702.3 957h0M703.1 957.5h0M704 958h0M704.8 958.5h0M705.7 959h0M706.5 959.6h0M707.3 960.1h0M708.2 960.6h0M709 961.1h0M709.9 961.6h0M710.7 962.1h0M711.6 962.7h0M712.4 963.2h0M713.3 963.7h0M714.1 964.2h0M714.9 964.7h0M715.8 965.2h0M716.6 965.7h0M717.5 966.2h0M718.3 966.8h0M719.2 967.3h0M720 967.8h0M720.9 968.3h0M721.7 968.8h0M722.6 969.3h0M723.4 969.8h0M724.3 970.3h0M725.1 970.8h0M726 971.3h0M726.9 971.8h0M727.7 972.4h0M728.6 972.9h0M729.4 973.4h0M730.3 973.9h0M731.1 974.4h0M732 974.9h0M732.8 975.4h0M733.7 975.9h0M734.6 976.4h0M735.4 976.9h0M736.3 977.4h0M737.1 977.9h0M738 978.4h0M738.9 978.9h0M739.7 979.4h0M740.6 979.9h0M741.4 980.4h0M742.3 980.9h0M743.2 981.4h0M744 981.9h0M744.9 982.4h0M745.8 982.9h0M746.6 983.3h0M747.5 983.8h0M748.4 984.3h0M749.2 984.8h0M750.1 985.3h0M751 985.8h0M751.8 986.3h0M752.7 986.8h0M753.6 987.3h0M754.4 987.8h0M755.3 988.3h0M756.2 988.7h0M757.1 989.2h0M757.9 989.7h0M758.8 990.2h0M759.7 990.7h0M760.5 991.2h0M761.4 991.7h0M762.3 992.1h0M763.2 992.6h0M764 993.1h0M764.9 993.6h0M765.8 994.1h0M766.7 994.6h0M767.5 995h0M768.4 995.5h0M769.3 996h0M770.2 996.5h0M771 997h0M771.9 997.4h0M772.8 997.9h0M773.7 998.4h0M774.6 998.9h0M775.4 999.3h0M776.3 999.8h0M777.2 1000.3h0M778.1 1000.8h0M779 1001.2h0M779.8 1001.7h0M780.7 1002.2h0M781.6 1002.6h0M782.5 1003.1h0M783.4 1003.6h0M784.3 1004.1h0M785.1 1004.5h0M786 1005h0M786.9 1005.5h0M787.8 1005.9h0M788.7 1006.4h0M789.6 1006.9h0M790.5 1007.3h0M791.4 1007.8h0M792.2 1008.2h0M793.1 1008.7h0M794 1009.2h0M794.9 1009.6h0M795.8 1010.1h0M796.7 1010.6h0M797.6 1011h0M798.5 1011.5h0M799.4 1011.9h0M800.3 1012.4h0M801.1 1012.8h0M802 1013.3h0M802.9 1013.8h0M803.8 1014.2h0M804.7 1014.7h0M805.6 1015.1h0M806.5 1015.6h0M807.4 1016h0M808.3 1016.5h0M809.2 1016.9h0M810.1 1017.4h0M811 1017.8h0M811.9 1018.3h0M812.8 1018.7h0M813.7 1019.2h0M814.6 1019.6h0M815.5 1020.1h0M816.4 1020.5h0M817.3 1021h0M818.2 1021.4h0M819.1 1021.8h0M820 1022.3h0M820.9 1022.7h0M821.8 1023.2h0M822.7 1023.6h0M823.6 1024.1h0M824.5 1024.5h0M825.4 1024.9h0M826.3 1025.4h0M827.2 1025.8h0M828.1 1026.3h0M829 1026.7h0M829.9 1027.1h0M830.8 1027.6h0M831.7 1028h0M832.6 1028.4h0M833.5 1028.9h0M834.4 1029.3h0M835.3 1029.7h0M836.3 1030.2h0M837.2 1030.6h0M838.1 1031h0M839 1031.4h0M839.9 1031.9h0M840.8 1032.3h0M841.7 1032.7h0M842.6 1033.2h0M843.5 1033.6h0M844.4 1034h0M845.3 1034.4h0M846.3 1034.8h0M847.2 1035.3h0M848.1 1035.7h0M849 1036.1h0M849.9 1036.5h0M850.8 1037h0M851.7 1037.4h0M852.7 1037.8h0M853.6 1038.2h0M854.5 1038.6h0M855.4 1039h0M856.3 1039.5h0M857.2 1039.9h0M858.1 1040.3h0M859.1 1040.7h0M860 1041.1h0M860.9 1041.5h0M861.8 1041.9h0M862.7 1042.3h0M863.6 1042.8h0M864.6 1043.2h0M865.5 1043.6h0M866.4 1044h0M867.3 1044.4h0M868.2 1044.8h0M869.2 1045.2h0M870.1 1045.6h0M871 1046h0M871.9 1046.4h0M872.8 1046.8h0M873.8 1047.2h0M874.7 1047.6h0M875.6 1048h0M876.5 1048.4h0M877.5 1048.8h0M878.4 1049.2h0M879.3 1049.6h0M880.2 1050h0M881.2 1050.4h0M882.1 1050.8h0M883 1051.2h0M883.9 1051.6h0M884.9 1052h0M885.8 1052.4h0M886.7 1052.7h0M887.6 1053.1h0M888.6 1053.5h0M889.5 1053.9h0M890.4 1054.3h0M891.3 1054.7h0M892.3 1055.1h0M893.2 1055.5h0M894.1 1055.8h0M895.1 1056.2h0M896 1056.6h0M896.9 1057h0M897.8 1057.4h0M898.8 1057.7h0M899.7 1058.1h0M900.6 1058.5h0M901.6 1058.9h0M902.5 1059.3h0M903.4 1059.6h0M904.4 1060h0M905.3 1060.4h0M906.2 1060.8h0M907.2 1061.1h0M908.1 1061.5h0M909 1061.9h0M910 1062.2h0M910.9 1062.6h0M911.8 1063h0M912.8 1063.4h0M913.7 1063.7h0M914.6 1064.1h0M915.6 1064.5h0M916.5 1064.8h0M917.4 1065.2h0M918.4 1065.5h0M919.3 1065.9h0M920.3 1066.3h0M921.2 1066.6h0M922.1 1067h0M923.1 1067.3h0M924 1067.7h0M924.9 1068.1h0M925.9 1068.4h0M926.8 1068.8h0M927.8 1069.1h0M928.7 1069.5h0M929.6 1069.8h0M930.6 1070.2h0M931.5 1070.5h0M932.5 1070.9h0M933.4 1071.2h0M934.3 1071.6h0M935.3 1071.9h0M936.2 1072.3h0M937.2 1072.6h0M938.1 1073h0M939.1 1073.3h0M940 1073.7h0M940.9 1074h0M941.9 1074.4h0M942.8 1074.7h0M943.8 1075h0M944.7 1075.4h0M945.7 1075.7h0M946.6 1076.1h0M947.5 1076.4h0M948.5 1076.7h0M949.4 1077.1h0M950.4 1077.4h0M951.3 1077.7h0M952.3 1078.1h0M953.2 1078.4h0M954.2 1078.7h0M955.1 1079.1h0M956.1 1079.4h0M957 1079.7h0M958 1080h0M958.9 1080.4h0M959.8 1080.7h0M960.8 1081h0M961.7 1081.3h0M962.7 1081.7h0M963.6 1082h0M964.6 1082.3h0M965.5 1082.6h0M966.5 1082.9h0M967.4 1083.3h0M968.4 1083.6h0M969.3 1083.9h0M970.3 1084.2h0M971.2 1084.5h0M972.2 1084.8h0M973.1 1085.2h0M974.1 1085.5h0M975 1085.8h0M976 1086.1h0M977 1086.4h0M977.9 1086.7h0M978.9 1087h0M979.8 1087.3h0M980.8 1087.6h0M981.7 1087.9h0M982.7 1088.2h0M983.6 1088.5h0M984.6 1088.8h0M985.5 1089.1h0M986.5 1089.4h0M987.4 1089.7h0M988.4 1090h0M989.3 1090.3h0M990.3 1090.6h0M991.3 1090.9h0M992.2 1091.2h0M993.2 1091.5h0M994.1 1091.8h0M995.1 1092.1h0M996 1092.4h0M997 1092.7h0M997.9 1093h0M998.9 1093.3h0M999.9 1093.5h0M1000.8 1093.8h0M1001.8 1094.1h0M1002.7 1094.4h0M1003.7 1094.7h0M1004.7 1095h0M1005.6 1095.3h0M1006.6 1095.5h0M1007.5 1095.8h0M1008.5 1096.1h0M1009.4 1096.4h0M1010.4 1096.6h0M1011.4 1096.9h0M1012.3 1097.2h0M1013.3 1097.5h0M1014.2 1097.7h0M1015.2 1098h0M1016.2 1098.3h0M1017.1 1098.6h0M1018.1 1098.8h0M1019 1099.1h0M1020 1099.4h0M1021 1099.6h0M1021.9 1099.9h0M1022.9 1100.2h0M1023.9 1100.4h0M1024.8 1100.7h0M1025.8 1100.9h0M1026.7 1101.2h0M1027.7 1101.5h0M1028.7 1101.7h0M1029.6 1102h0M1030.6 1102.2h0M1031.6 1102.5h0M1032.5 1102.8h0M1033.5 1103h0M1034.4 1103.3h0M1035.4 1103.5h0M1036.4 1103.8h0M1037.3 1104h0M1038.3 1104.3h0M1039.3 1104.5h0M1040.2 1104.8h0M1041.2 1105h0M1042.2 1105.3h0M1043.1 1105.5h0M1044.1 1105.8h0M1045.1 1106h0M1046 1106.2h0M1047 1106.5h0M1048 1106.7h0M1048.9 1107h0M1049.9 1107.2h0M1050.9 1107.5h0M1051.8 1107.7h0M1052.8 1107.9h0M1053.8 1108.2h0M1054.7 1108.4h0M1055.7 1108.6h0M1056.7 1108.9h0M1057.6 1109.1h0M1058.6 1109.3h0M1059.6 1109.6h0M1060.5 1109.8h0M1061.5 1110h0M1062.5 1110.3h0M1063.4 1110.5h0M1064.4 1110.7h0M1065.4 1110.9h0M1066.4 1111.2h0M1067.3 1111.4h0M1068.3 1111.6h0M1069.3 1111.8h0M1070.2 1112.1h0M1071.2 1112.3h0M1072.2 1112.5h0M1073.1 1112.7h0M1074.1 1112.9h0M1075.1 1113.2h0M1076.1 1113.4h0M1077 1113.6h0M1078 1113.8h0M1079 1114h0M1079.9 1114.2h0M1080.9 1114.4h0M1081.9 1114.7h0M1082.9 1114.9h0M1083.8 1115.1h0M1084.8 1115.3h0M1085.8 1115.5h0M1086.8 1115.7h0M1087.7 1115.9h0M1088.7 1116.1h0M1089.7 1116.3h0M1090.6 1116.5h0M1091.6 1116.7h0M1092.6 1116.9h0M1093.6 1117.1h0M1094.5 1117.3h0M1095.5 1117.5h0M1096.5 1117.7h0M1097.5 1117.9h0M1098.4 1118.1h0M1099.4 1118.3h0M1100.4 1118.5h0M1101.4 1118.7h0M1102.3 1118.9h0M1103.3 1119.1h0M1104.3 1119.3h0M1105.3 1119.5h0M1106.3 1119.7h0M1107.2 1119.9h0M1108.2 1120.1h0M1109.2 1120.3h0M1110.2 1120.5h0M1111.1 1120.7h0M1112.1 1120.8h0M1113.1 1121h0M1114.1 1121.2h0M1115 1121.4h0M1116 1121.6h0M1117 1121.8h0M1118 1122h0M1119 1122.1h0M1119.9 1122.3h0M1120.9 1122.5h0M1121.9 1122.7h0M1122.9 1122.9h0M1123.8 1123h0M1124.8 1123.2h0M1125.8 1123.4h0M1126.8 1123.6h0M1127.8 1123.8h0M1128.7 1123.9h0M1129.7 1124.1h0M1130.7 1124.3h0M1131.7 1124.4h0M1132.7 1124.6h0M1133.6 1124.8h0M1134.6 1125h0M1135.6 1125.1h0M1136.6 1125.3h0M1137.6 1125.5h0M1138.5 1125.6h0M1139.5 1125.8h0M1140.5 1126h0M1141.5 1126.1h0M1142.5 1126.3h0M1143.5 1126.5h0M1144.4 1126.6h0M1145.4 1126.8h0M1146.4 1127h0M1147.4 1127.1h0M1148.4 1127.3h0M1149.3 1127.4h0M1150.3 1127.6h0M1151.3 1127.8h0M1152.3 1127.9h0M1153.3 1128.1h0M1154.3 1128.2h0M1155.2 1128.4h0M1156.2 1128.5h0M1157.2 1128.7h0M1158.2 1128.8h0M1159.2 1129h0M1160.2 1129.2h0M1161.1 1129.3h0M1162.1 1129.5h0M1163.1 1129.6h0M1164.1 1129.8h0M1165.1 1129.9h0M1166.1 1130.1h0M1167.1 1130.2h0M1168 1130.4h0M1169 1130.5h0M1170 1130.6h0M1171 1130.8h0M1172 1130.9h0M1173 1131.1h0M1174 1131.2h0M1174.9 1131.4h0M1175.9 1131.5h0M1176.9 1131.6h0M1177.9 1131.8h0M1178.9 1131.9h0M1179.9 1132.1h0M1180.9 1132.2h0M1181.8 1132.3h0M1182.8 1132.5h0M1183.8 1132.6h0M1184.8 1132.7h0M1185.8 1132.9h0M1186.8 1133h0M1187.8 1133.2h0M1188.8 1133.3h0M1189.7 1133.4h0M1190.7 1133.6h0M1191.7 1133.7h0M1192.7 1133.8h0M1193.7 1133.9h0M1194.7 1134.1h0M1195.7 1134.2h0M1196.7 1134.3h0M1197.6 1134.5h0M1198.6 1134.6h0M1199.6 1134.7h0M1200.6 1134.8h0M1201.6 1135h0M1202.6 1135.1h0M1203.6 1135.2h0M1204.6 1135.3h0M1205.6 1135.5h0M1206.5 1135.6h0M1207.5 1135.7h0M1208.5 1135.8h0M1209.5 1135.9h0M1210.5 1136.1h0M1211.5 1136.2h0M1212.5 1136.3h0M1213.5 1136.4h0M1214.5 1136.5h0M1215.5 1136.7h0M1216.4 1136.8h0M1217.4 1136.9h0M1218.4 1137h0M1219.4 1137.1h0M1220.4 1137.2h0M1221.4 1137.3h0M1222.4 1137.5h0M1223.4 1137.6h0M1224.4 1137.7h0M1225.4 1137.8h0M1226.4 1137.9h0M1227.4 1138h0M1228.3 1138.1h0M1229.3 1138.2h0M1230.3 1138.3h0M1231.3 1138.4h0M1232.3 1138.5h0M1233.3 1138.7h0M1234.3 1138.8h0M1235.3 1138.9h0M1236.3 1139h0M1237.3 1139.1h0M1238.3 1139.2h0M1239.3 1139.3h0M1240.3 1139.4h0M1241.2 1139.5h0M1242.2 1139.6h0M1243.2 1139.7h0M1244.2 1139.8h0M1245.2 1139.9h0M1246.2 1140h0M1247.2 1140.1h0M1248.2 1140.2h0M1249.2 1140.3h0M1250.2 1140.4h0M1251.2 1140.5h0M1252.2 1140.6h0M1253.2 1140.7h0M1254.2 1140.8h0M1255.2 1140.9h0M1256.2 1140.9h0M1257.1 1141h0M1258.1 1141.1h0M1259.1 1141.2h0M1260.1 1141.3h0M1261.1 1141.4h0M1262.1 1141.5h0M1263.1 1141.6h0M1264.1 1141.7h0M1265.1 1141.8h0M1266.1 1141.9h0M1267.1 1141.9h0M1268.1 1142h0M1269.1 1142.1h0M1270.1 1142.2h0M1271.1 1142.3h0M1272.1 1142.4h0M1273.1 1142.5h0M1274.1 1142.5h0M1275.1 1142.6h0M1276.1 1142.7h0M1277.1 1142.8h0M1278 1142.9h0M1279 1143h0M1280 1143h0M1281 1143.1h0M1282 1143.2h0M1283 1143.3h0M1284 1143.4h0M1285 1143.4h0M1286 1143.5h0M1287 1143.6h0M1288 1143.7h0M1289 1143.8h0M1290 1143.8h0M1291 1143.9h0M1292 1144h0M1293 1144.1h0M1294 1144.1h0M1295 1144.2h0M1296 1144.3h0M1297 1144.4h0M1298 1144.4h0M1299 1144.5h0M1300 1144.6h0M1301 1144.6h0M1302 1144.7h0M1303 1144.8h0M1304 1144.9h0M1305 1144.9h0M1306 1145h0M1307 1145.1h0M1308 1145.1h0M1309 1145.2h0M1310 1145.3h0M1311 1145.3h0M1312 1145.4h0M1313 1145.5h0M1314 1145.5h0M1315 1145.6h0M1316 1145.7h0M1317 1145.7h0M1318 1145.8h0M1319 1145.9h0M1320 1145.9h0M1321 1146h0M1322 1146h0M1323 1146.1h0M1324 1146.2h0M1325 1146.2h0M1326 1146.3h0M1327 1146.3h0M1328 1146.4h0M1329 1146.5h0M1330 1146.5h0M1331 1146.6h0M1332 1146.6h0M1333 1146.7h0M1334 1146.8h0M1335 1146.8h0M1336 1146.9h0M1337 1146.9h0M1338 1147h0M1339 1147h0M1340 1147.1h0M1341 1147.1h0M1342 1147.2h0M1343 1147.3h0M1344 1147.3h0M1345 1147.4h0M1346 1147.4h0M1347 1147.5h0M1348 1147.5h0M1349 1147.6h0M1350 1147.6h0M1351 1147.7h0M1352 1147.7h0M1353 1147.8h0M1354 1147.8h0M1355 1147.9h0M1356 1147.9h0M1357 1148h0M1358 1148h0M1359 1148.1h0M1360 1148.1h0M1361 1148.2h0M1362 1148.2h0M1363 1148.2h0M1364 1148.3h0M1365 1148.3h0M1366 1148.4h0M1367 1148.4h0M1368 1148.5h0M1369 1148.5h0M1370 1148.6h0M1371 1148.6h0M1372 1148.6h0M1373 1148.7h0M1374 1148.7h0M1375 1148.8h0M1376 1148.8h0M1377 1148.9h0M1378 1148.9h0M1379 1148.9h0M1380 1149h0M1381 1149h0M1382 1149.1h0M1383 1149.1h0M1384 1149.1h0M1385 1149.2h0M1386 1149.2h0M1387 1149.3h0M1388 1149.3h0M1389 1149.3h0M1390 1149.4h0M1391 1149.4h0M1392 1149.4h0M1393 1149.5h0M1394 1149.5h0M1395 1149.5h0M1396 1149.6h0M1397 1149.6h0M1398 1149.7h0M1399.1 1149.7h0M1400.1 1149.7h0M1401.1 1149.8h0M1402.1 1149.8h0M1403.1 1149.8h0M1404.1 1149.9h0M1405.1 1149.9h0M1406.1 1149.9h0M1407.1 1150h0M1408.1 1150h0M1409.1 1150h0M1410.1 1150h0M1411.1 1150.1h0M1412.1 1150.1h0M1413.1 1150.1h0M1414.1 1150.2h0M1415.1 1150.2h0M1416.1 1150.2h0M1417.1 1150.3h0M1418.1 1150.3h0M1419.1 1150.3h0M1420.1 1150.3h0M1421.1 1150.4h0M1422.1 1150.4h0M1423.1 1150.4h0M1424.1 1150.5h0M1425.1 1150.5h0M1426.1 1150.5h0M1427.1 1150.5h0M1428.1 1150.6h0M1429.1 1150.6h0M1430.1 1150.6h0M1431.2 1150.6h0M1432.2 1150.7h0M1433.2 1150.7h0M1434.2 1150.7h0M1435.2 1150.7h0M1436.2 1150.8h0M1437.2 1150.8h0M1438.2 1150.8h0M1439.2 1150.8h0M1440.2 1150.9h0M1441.2 1150.9h0M1442.2 1150.9h0M1443.2 1150.9h0M1444.2 1151h0M1445.2 1151h0M1446.2 1151h0M1447.2 1151h0M1448.2 1151h0M1449.2 1151.1h0M1450.2 1151.1h0M1451.2 1151.1h0M1452.2 1151.1h0M1453.2 1151.1h0M1454.2 1151.2h0M1455.2 1151.2h0M1456.2 1151.2h0M1457.2 1151.2h0M1458.2 1151.2h0M1459.3 1151.3h0M1460.3 1151.3h0M1461.3 1151.3h0M1462.3 1151.3h0M1463.3 1151.3h0M1464.3 1151.4h0M1465.3 1151.4h0M1466.3 1151.4h0M1467.3 1151.4h0M1468.3 1151.4h0M1469.3 1151.4h0M1470.3 1151.5h0M1471.3 1151.5h0M1472.3 1151.5h0M1473.3 1151.5h0M1474.3 1151.5h0M1475.3 1151.6h0M1476.3 1151.6h0M1477.3 1151.6h0M1478.3 1151.6h0M1479.3 1151.6h0M1480.3 1151.6h0M1481.3 1151.6h0M1482.3 1151.7h0M1483.3 1151.7h0M1484.3 1151.7h0M1485.3 1151.7h0M1486.4 1151.7h0M1487.4 1151.7h0M1488.4 1151.7h0M1489.4 1151.8h0M1490.4 1151.8h0M1491.4 1151.8h0M1492.4 1151.8h0M1493.4 1151.8h0M1494.4 1151.8h0M1495.4 1151.8h0M1496.4 1151.9h0M1497.4 1151.9h0M1498.4 1151.9h0M1499.4 1151.9h0M1500.4 1151.9h0M1501.4 1151.9h0M1502.4 1151.9h0M1503.4 1151.9h0M1504.4 1152h0M1505.4 1152h0M1506.4 1152h0M1507.4 1152h0M1508.4 1152h0M1509.4 1152h0M1510.4 1152h0M1511.4 1152h0M1512.4 1152h0M1513.4 1152.1h0M1514.4 1152.1h0M1515.5 1152.1h0M1516.5 1152.1h0M1517.5 1152.1h0M1518.5 1152.1h0M1519.5 1152.1h0M1520.5 1152.1h0M1521.5 1152.1h0M1522.5 1152.1h0M1523.5 1152.2h0M1524.5 1152.2h0M1525.5 1152.2h0M1526.5 1152.2h0M1527.5 1152.2h0M1528.5 1152.2h0M1529.5 1152.2h0M1530.5 1152.2h0M1531.5 1152.2h0M1532.5 1152.2h0M1533.5 1152.2h0M1534.5 1152.3h0M1535.5 1152.3h0M1536.5 1152.3h0M1537.5 1152.3h0M1538.5 1152.3h0M1539.5 1152.3h0M1540.5 1152.3h0M1541.5 1152.3h0M1542.5 1152.3h0M1543.5 1152.3h0M1544.5 1152.3h0M1545.5 1152.3h0M1546.5 1152.3h0M1547.5 1152.4h0M1548.5 1152.4h0M1549.5 1152.4h0M1550.5 1152.4h0M1551.6 1152.4h0M1552.6 1152.4h0M1553.6 1152.4h0M1554.6 1152.4h0M1555.6 1152.4h0M1556.6 1152.4h0M1557.6 1152.4h0M1558.6 1152.4h0M1559.6 1152.4h0M1560.6 1152.5h0M1561.6 1152.5h0M1562.6 1152.5h0M1563.6 1152.5h0M1564.6 1152.5h0M1565.6 1152.5h0M1566.6 1152.5h0M1567.6 1152.5h0M1568.6 1152.5h0M1569.6 1152.5h0M1570.6 1152.5h0M1571.6 1152.5h0M1572.6 1152.5h0M1573.6 1152.5h0M1574.6 1152.5h0M1575.6 1152.6h0M1576.6 1152.6h0M1577.6 1152.6h0M1578.6 1152.6h0M1579.6 1152.6h0M1580.6 1152.6h0M1581.6 1152.6h0M1582.6 1152.6h0M1583.6 1152.6h0M1584.6 1152.6h0M1585.6 1152.6h0M1586.6 1152.6h0M1587.6 1152.6h0M1588.6 1152.6h0M1589.6 1152.6h0M1590.6 1152.6h0M1591.6 1152.7h0M1592.6 1152.7h0M1593.6 1152.7h0M1594.6 1152.7h0M1595.6 1152.7h0M1596.6 1152.7h0M1597.6 1152.7h0M1598.6 1152.7h0M1599.6 1152.7h0M1600.6 1152.7h0M1601.6 1152.7h0M1602.6 1152.7h0M1603.6 1152.7h0M1604.6 1152.7h0M1605.6 1152.7h0M1606.6 1152.8h0M1607.6 1152.8h0M1608.6 1152.8h0M1609.6 1152.8h0M1610.6 1152.8h0M1611.6 1152.8h0M1612.6 1152.8h0M1613.6 1152.8h0M1614.6 1152.8h0M1615.6 1152.8h0M1616.6 1152.8h0M1617.6 1152.8h0M1618.6 1152.8h0M1619.6 1152.8h0M1620.6 1152.8h0M1621.6 1152.9h0M1622.6 1152.9h0M1623.6 1152.9h0M1624.6 1152.9h0M1625.6 1152.9h0M1626.6 1152.9h0M1627.6 1152.9h0M1628.6 1152.9h0M1629.6 1152.9h0M1630.6 1152.9h0M1631.6 1152.9h0M1632.6 1152.9h0M1633.6 1152.9h0M1634.6 1153h0M1635.6 1153h0M1636.6 1153h0M1637.6 1153h0M1638.6 1153h0M1639.6 1153h0M1640.6 1153h0M1641.6 1153h0M1642.6 1153h0M1643.6 1153h0M1644.5 1153h0M1645.5 1153.1h0M1646.5 1153.1h0M1647.5 1153.1h0M1648.5 1153.1h0M1649.5 1153.1h0M1650.5 1153.1h0M1651.5 1153.1h0M1652.5 1153.1h0M1653.5 1153.1h0M1654.5 1153.1h0M1655.5 1153.1h0M1656.5 1153.2h0M1657.5 1153.2h0M1658.5 1153.2h0M1659.5 1153.2h0M1660.5 1153.2h0M1661.5 1153.2h0M1662.5 1153.2h0M1663.5 1153.2h0M1664.5 1153.2h0M1665.5 1153.3h0M1666.5 1153.3h0M1667.5 1153.3h0M1668.5 1153.3h0M1669.5 1153.3h0M1670.4 1153.3h0M1671.4 1153.3h0M1672.4 1153.3h0M1673.4 1153.4h0M1674.4 1153.4h0M1675.4 1153.4h0M1676.4 1153.4h0M1677.4 1153.4h0M1678.4 1153.4h0M1679.4 1153.4h0M1680.4 1153.4h0M1681.4 1153.5h0M1682.4 1153.5h0M1683.4 1153.5h0M1684.4 1153.5h0M1685.4 1153.5h0M1686.4 1153.5h0M1687.4 1153.5h0M1688.3 1153.6h0M1689.3 1153.6h0M1690.3 1153.6h0M1691.3 1153.6h0M1692.3 1153.6h0M1693.3 1153.6h0M1694.3 1153.6h0M1695.3 1153.7h0M1696.3 1153.7h0M1697.3 1153.7h0M1698.3 1153.7h0M1699.3 1153.7h0M1700.3 1153.7h0M1701.3 1153.8h0M1702.2 1153.8h0M1703.2 1153.8h0M1704.2 1153.8h0M1705.2 1153.8h0M1706.2 1153.8h0M1707.2 1153.9h0M1708.2 1153.9h0M1709.2 1153.9h0M1710.2 1153.9h0M1711.2 1153.9h0M1712.2 1154h0M1713.2 1154h0M1714.1 1154h0M1715.1 1154h0M1716.1 1154h0M1717.1 1154.1h0M1718.1 1154.1h0M1719.1 1154.1h0M1720.1 1154.1h0M1721.1 1154.1h0M1722.1 1154.2h0M1723.1 1154.2h0M1724 1154.2h0M1725 1154.2h0M1726 1154.2h0M1727 1154.3h0M1728 1154.3h0M1729 1154.3h0M1730 1154.3h0M1731 1154.4h0M1732 1154.4h0M1733 1154.4h0M1733.9 1154.4h0M1734.9 1154.5h0M1735.9 1154.5h0M1736.9 1154.5h0M1737.9 1154.5h0M1738.9 1154.6h0M1739.9 1154.6h0M1740.9 1154.6h0M1741.8 1154.6h0M1742.8 1154.7h0M1743.8 1154.7h0M1744.8 1154.7h0" stroke="#008000"/>
<path d="M365.8 878h0M372.3 690h0M372.3 688.9h0M372.3 687.7h0M372.3 686.5h0M372.4 685.4h0M372.4 684.3h0M372.4 683.1h0M372.4 682h0M372.4 680.9h0M372.4 679.7h0M372.4 678.6h0M372.5 677.5h0M372.5 676.4h0M372.5 675.3h0M372.5 674.2h0M372.6 673.1h0M372.6 672.1h0M372.6 671h0M372.6 669.9h0M372.7 668.8h0M372.7 667.8h0M372.7 666.7h0M372.8 665.7h0M372.8 664.6h0M372.9 663.6h0M372.9 662.5h0M372.9 661.5h0M373 660.5h0M373 659.5h0M373.1 658.4h0M373.1 657.4h0M373.2 656.4h0M373.2 655.4h0M373.3 654.4h0M373.3 653.4h0M373.4 652.4h0M373.4 651.4h0M373.5 650.4h0M373.5 649.4h0M373.6 648.4h0M373.6 647.5h0M373.7 646.5h0M373.8 645.5h0M373.8 644.5h0M373.9 643.6h0M373.9 642.6h0M374 641.6h0M374.1 640.7h0M374.1 639.7h0M374.2 638.8h0M374.3 637.8h0M374.3 636.9h0M374.4 635.9h0M374.5 635h0M374.5 634h0M374.6 633.1h0M374.7 632.1h0M374.7 631.2h0M374.8 630.3h0M374.9 629.3h0M375 628.4h0M375 627.5h0M375.1 626.5h0M375.2 625.6h0M375.3 624.7h0M375.3 623.7h0M375.4 622.8h0M375.5 621.9h0M375.6 621h0M375.6 620h0M375.7 619.1h0M375.8 618.2h0M375.9 617.3h0M376 616.4h0M376 615.4h0M376.1 614.5h0M376.2 613.6h0M376.3 612.7h0M376.4 611.8h0M376.4 610.8h0M376.5 609.9h0M376.6 609h0M376.7 608.1h0M376.8 607.1h0M376.8 606.2h0M376.9 605.3h0M377 604.4h0M377.1 603.5h0M377.2 602.5h0M377.3 601.6h0M377.3 600.7h0M377.4 599.8h0M377.5 598.8h0M377.6 597.9h0M377.7 597h0M377.7 596h0M377.8 595.1h0M377.9 594.2h0M378 593.2h0M378.1 592.3h0M378.1 591.3h0M378.2 590.4h0M378.3 589.5h0M378.4 588.5h0M378.5 587.6h0M378.5 586.6h0M378.6 585.7h0M378.7 584.7h0M378.8 583.7h0M378.9 582.8h0M378.9 581.8h0M379 580.8h0M379.1 579.9h0M379.2 578.9h0M379.2 577.9h0M379.3 576.9h0M379.4 576h0M379.5 575h0M379.5 574h0M379.6 573h0M379.7 572h0M379.8 571h0M379.8 570h0M379.9 569h0M380 568h0M380 567h0M380.1 565.9h0M380.2 564.9h0M380.2 563.9h0M380.3 562.9h0M380.4 561.8h0M380.4 560.8h0M380.5 559.7h0M380.6 558.7h0M380.6 557.6h0M380.7 556.6h0M380.7 555.5h0M380.8 554.5h0M380.8 553.4h0M380.9 552.3h0M381 551.2h0M381 550.1h0M381.1 549h0M381.1 547.9h0M381.2 546.8h0M381.2 545.7h0M381.3 544.6h0M381.3 543.5h0M381.4 542.3h0M381.4 541.2h0M381.5 540.1h0M381.5 538.9h0M381.6 537.8h0M381.6 536.6h0M381.6 535.5h0M381.7 534.3h0M381.8 533.2h0M381.8 532h0M381.9 530.9h0M381.9 529.7h0M382 528.6h0M382 527.4h0M382.1 526.2h0M382.2 525.1h0M382.2 523.9h0M382.3 522.8h0M382.4 521.6h0M382.5 520.4h0M382.5 519.3h0M382.6 518.1h0M382.7 517h0M382.8 515.8h0M382.9 514.7h0M383 513.6h0M383.1 512.4h0M383.3 511.3h0M383.4 510.2h0M383.5 509h0M383.7 507.9h0M383.8 506.8h0M384 505.7h0M384.1 504.6h0M384.3 503.5h0M384.4 502.4h0M384.6 501.3h0M384.8 500.2h0M385 499.2h0M385.2 498.1h0M385.4 497.1h0M385.6 496h0M385.9 495h0M386.1 494h0M386.4 492.9h0M386.6 491.9h0M386.9 490.9h0M387.2 490h0M387.5 489h0M387.8 488h0M388.1 487.1h0M388.4 486.1h0M388.7 485.2h0M389.1 484.3h0M389.4 483.4h0M389.8 482.5h0M390.2 481.6h0M390.6 480.8h0M391 479.9h0M391.4 479.1h0M391.8 478.3h0M392.3 477.5h0M392.7 476.7h0M393.2 475.9h0M393.7 475.2h0M394.2 474.4h0M394.7 473.7h0M395.2 473h0M395.7 472.3h0M396.3 471.6h0M396.8 471h0M397.4 470.4h0M398 469.8h0M398.6 469.2h0M399.8 468.1h0M401 467.1h0M401.6 466.6h0M402.3 466.2h0M403.6 465.4h0M404.9 464.7h0M405.6 464.4h0M406.3 464.1h0M407.6 463.6h0M408.3 463.4h0M409 463.2h0M409.7 463.1h0M410.4 463h0M411.1 462.9h0M411.9 462.9h0M412.6 462.9h0M413.3 462.9h0M414 462.9h0M414.7 463h0M415.5 463.2h0M416.2 463.3h0M416.9 463.5h0M417.6 463.7h0M418.4 464h0M419.1 464.3h0M419.8 464.6h0M420.6 465h0M421.3 465.3h0M422 465.8h0M422.8 466.2h0M423.5 466.6h0M424.2 467.1h0M424.9 467.6h0M425.7 468.2h0M426.4 468.7h0M427.1 469.3h0M427.9 469.9h0M428.6 470.5h0M429.3 471.2h0M430 471.8h0M430.8 472.5h0M431.5 473.2h0M432.2 473.9h0M432.9 474.7h0M433.7 475.4h0M434.4 476.2h0M435.1 477h0M435.8 477.7h0M436.5 478.5h0M437.2 479.3h0M438 480.2h0M438.7 481h0M439.4 481.8h0M440.1 482.7h0M440.8 483.5h0M441.5 484.4h0M442.2 485.3h0M442.9 486.1h0M443.5 487h0M444.2 487.9h0M444.9 488.8h0M445.6 489.6h0M446.3 490.5h0M446.9 491.4h0M447.6 492.3h0M448.3 493.2h0M448.9 494h0M449.6 494.9h0M450.3 495.8h0M450.9 496.7h0M451.6 497.6h0M452.2 498.5h0M452.9 499.3h0M453.5 500.2h0M454.1 501.1h0M454.8 502h0M455.4 502.9h0M456 503.7h0M456.7 504.6h0M457.3 505.5h0M457.9 506.4h0M458.5 507.3h0M459.1 508.1h0M459.7 509h0M460.3 509.9h0M460.9 510.8h0M461.5 511.7h0M462.1 512.6h0M462.7 513.4h0M463.3 514.3h0M463.9 515.2h0M464.5 516.1h0M465.1 517h0M465.7 517.8h0M466.3 518.7h0M466.8 519.6h0M467.4 520.5h0M468 521.4h0M468.5 522.2h0M469.1 523.1h0M469.7 524h0M470.2 524.9h0M470.8 525.8h0M471.4 526.6h0M471.9 527.5h0M472.5 528.4h0M473 529.3h0M473.6 530.2h0M474.1 531h0M474.6 531.9h0M475.2 532.8h0M475.7 533.7h0M476.3 534.5h0M476.8 535.4h0M477.3 536.3h0M477.9 537.2h0M478.4 538.1h0M478.9 538.9h0M479.4 539.8h0M480 540.7h0M480.5 541.6h0M481 542.5h0M481.5 543.3h0M482 544.2h0M482.5 545.1h0M483 546h0M483.6 546.8h0M484.1 547.7h0M484.6 548.6h0M485.1 549.5h0M485.6 550.3h0M486.1 551.2h0M486.6 552.1h0M487.1 553h0M487.6 553.9h0M488.1 554.7h0M488.6 555.6h0M489 556.5h0M489.5 557.4h0M490 558.2h0M490.5 559.1h0M491 560h0M491.5 560.9h0M492 561.7h0M492.4 562.6h0M492.9 563.5h0M493.4 564.4h0M493.9 565.2h0M494.4 566.1h0M494.8 567h0M495.3 567.9h0M495.8 568.7h0M496.3 569.6h0M496.7 570.5h0M497.2 571.4h0M497.7 572.2h0M498.1 573.1h0M498.6 574h0M499.1 574.9h0M499.5 575.7h0M500 576.6h0M500.5 577.5h0M500.9 578.4h0M501.4 579.2h0M501.9 580.1h0M502.3 581h0M502.8 581.9h0M503.2 582.7h0M503.7 583.6h0M504.1 584.5h0M504.6 585.3h0M505.1 586.2h0M505.5 587.1h0M506 588h0M506.4 588.8h0M506.9 589.7h0M507.3 590.6h0M507.8 591.4h0M508.2 592.3h0M508.7 593.2h0M509.2 594.1h0M509.6 594.9h0M510.1 595.8h0M510.5 596.7h0M511 597.5h0M511.4 598.4h0M511.9 599.3h0M512.3 600.1h0M512.8 601h0M513.2 601.9h0M513.7 602.8h0M514.1 603.6h0M514.6 604.5h0M515 605.4h0M515.5 606.2h0M515.9 607.1h0M516.4 608h0M516.8 608.8h0M517.3 609.7h0M517.7 610.6h0M518.2 611.4h0M518.6 612.3h0M519.1 613.2h0M519.5 614h0M520 614.9h0M520.4 615.8h0M520.9 616.6h0M521.4 617.5h0M521.8 618.4h0M522.3 619.2h0M522.7 620.1h0M523.2 621h0M523.6 621.8h0M524.1 622.7h0M524.6 623.6h0M525 624.4h0M525.5 625.3h0M525.9 626.2h0M526.4 627h0M526.9 627.9h0M527.3 628.7h0M527.8 629.6h0M528.2 630.5h0M528.7 631.3h0M529.2 632.2h0M529.6 633.1h0M530.1 633.9h0M530.6 634.8h0M531 635.6h0M531.5 636.5h0M532 637.4h0M532.5 638.2h0M532.9 639.1h0M533.4 640h0M533.9 640.8h0M534.3 641.7h0M534.8 642.5h0M535.3 643.4h0M535.8 644.3h0M536.3 645.1h0M536.7 646h0M537.2 646.8h0M537.7 647.7h0M538.2 648.6h0M538.7 649.4h0M539.2 650.3h0M539.7 651.1h0M540.1 652h0M540.6 652.8h0M541.1 653.7h0M541.6 654.6h0M542.1 655.4h0M542.6 656.3h0M543.1 657.1h0M543.6 658h0M544.1 658.8h0M544.6 659.7h0M545.1 660.6h0M545.6 661.4h0M546.1 662.3h0M546.6 663.1h0M547.1 664h0M547.6 664.8h0M548.1 665.7h0M548.6 666.5h0M549.1 667.4h0M549.6 668.2h0M550.1 669.1h0M550.7 669.9h0M551.2 670.8h0M551.7 671.7h0M552.2 672.5h0M552.7 673.4h0M553.2 674.2h0M553.7 675.1h0M554.2 675.9h0M554.8 676.8h0M555.3 677.6h0M555.8 678.5h0M556.3 679.3h0M556.8 680.2h0M557.4 681h0M557.9 681.9h0M558.4 682.7h0M558.9 683.6h0M559.5 684.4h0M560 685.3h0M560.5 686.1h0M561 686.9h0M561.6 687.8h0M562.1 688.6h0M562.6 689.5h0M563.2 690.3h0M563.7 691.2h0M564.2 692h0M564.8 692.9h0M565.3 693.7h0M565.8 694.6h0M566.4 695.4h0M566.9 696.2h0M567.4 697.1h0M568 697.9h0M568.5 698.8h0M569.1 699.6h0M569.6 700.5h0M570.1 701.3h0M570.7 702.1h0M571.2 703h0M571.8 703.8h0M572.3 704.7h0M572.9 705.5h0M573.4 706.4h0M574 707.2h0M574.5 708h0M575 708.9h0M575.6 709.7h0M576.1 710.6h0M576.7 711.4h0M577.3 712.2h0M577.8 713.1h0M578.4 713.9h0M578.9 714.7h0M579.5 715.6h0M580 716.4h0M580.6 717.2h0M581.1 718.1h0M581.7 718.9h0M582.2 719.8h0M582.8 720.6h0M583.4 721.4h0M583.9 722.3h0M584.5 723.1h0M585 723.9h0M585.6 724.8h0M586.2 725.6h0M586.7 726.4h0M587.3 727.3h0M587.9 728.1h0M588.4 728.9h0M589 729.7h0M589.6 730.6h0M590.1 731.4h0M590.7 732.2h0M591.3 733.1h0M591.8 733.9h0M592.4 734.7h0M593 735.6h0M593.5 736.4h0M594.1 737.2h0M594.7 738h0M595.3 738.9h0M595.8 739.7h0M596.4 740.5h0M597 741.3h0M597.5 742.2h0M598.1 743h0M598.7 743.8h0M599.3 744.6h0M599.8 745.5h0M600.4 746.3h0M601 747.1h0M601.6 747.9h0M602.2 748.8h0M602.7 749.6h0M603.3 750.4h0M603.9 751.2h0M604.5 752h0M605.1 752.9h0M605.6 753.7h0M606.2 754.5h0M606.8 755.3h0M607.4 756.1h0M608 757h0M608.6 757.8h0M609.1 758.6h0M609.7 759.4h0M610.3 760.2h0M610.9 761h0M611.5 761.9h0M612.1 762.7h0M612.7 763.5h0M613.3 764.3h0M613.8 765.1h0M614.4 765.9h0M615 766.7h0M615.6 767.6h0M616.2 768.4h0M616.8 769.2h0M617.4 770h0M618 770.8h0M618.6 771.6h0M619.2 772.4h0M619.8 773.2h0M620.3 774h0M620.9 774.9h0M621.5 775.7h0M622.1 776.5h0M622.7 777.3h0M623.3 778.1h0M623.9 778.9h0M624.5 779.7h0M625.1 780.5h0M625.7 781.3h0M626.3 782.1h0M626.9 782.9h0M627.5 783.7h0M628.1 784.5h0M628.7 785.3h0M629.3 786.1h0M629.9 786.9h0M630.5 787.7h0M631.1 788.5h0M631.7 789.3h0M632.3 790.1h0M632.9 790.9h0M633.5 791.7h0M634.1 792.5h0M634.8 793.3h0M635.4 794.1h0M636 794.9h0M636.6 795.7h0M637.2 796.5h0M637.8 797.3h0M638.4 798.1h0M639 798.9h0M639.6 799.7h0M640.2 800.4h0M640.9 801.2h0M641.5 802h0M642.1 802.8h0M642.7 803.6h0M643.3 804.4h0M643.9 805.2h0M644.6 806h0M645.2 806.8h0M645.8 807.5h0M646.4 808.3h0M647 809.1h0M647.6 809.9h0M648.3 810.7h0M648.9 811.5h0M649.5 812.2h0M650.1 813h0M650.8 813.8h0M651.4 814.6h0M652 815.4h0M652.6 816.1h0M653.3 816.9h0M653.9 817.7h0M654.5 818.5h0M655.1 819.2h0M655.8 820h0M656.4 820.8h0M657 821.6h0M657.7 822.3h0M658.3 823.1h0M658.9 823.9h0M659.6 824.7h0M660.2 825.4h0M660.8 826.2h0M661.5 827h0M662.1 827.7h0M662.7 828.5h0M663.4 829.3h0M664 830h0M664.6 830.8h0M665.3 831.5h0M665.9 832.3h0M666.6 833.1h0M667.2 833.8h0M667.9 834.6h0M668.5 835.4h0M669.1 836.1h0M669.8 836.9h0M670.4 837.6h0M671.1 838.4h0M671.7 839.1h0M672.4 839.9h0M673 840.6h0M673.7 841.4h0M674.3 842.2h0M675 842.9h0M675.6 843.7h0M676.3 844.4h0M676.9 845.2h0M677.6 845.9h0M678.2 846.7h0M678.9 847.4h0M679.6 848.1h0M680.2 848.9h0M680.9 849.6h0M681.5 850.4h0M682.2 851.1h0M682.9 851.9h0M683.5 852.6h0M684.2 853.3h0M684.8 854.1h0M685.5 854.8h0M686.2 855.6h0M686.8 856.3h0M687.5 857h0M688.2 857.8h0M688.9 858.5h0M689.5 859.2h0M690.2 860h0M690.9 860.7h0M691.5 861.4h0M692.2 862.1h0M692.9 862.9h0M693.6 863.6h0M694.2 864.3h0M694.9 865h0M695.6 865.8h0M696.3 866.5h0M697 867.2h0M697.6 867.9h0M698.3 868.7h0M699 869.4h0M699.7 870.1h0M700.4 870.8h0M701.1 871.5h0M701.7 872.2h0M702.4 873h0M703.1 873.7h0M703.8 874.4h0M704.5 875.1h0M705.2 875.8h0M705.9 876.5h0M706.6 877.2h0M707.3 877.9h0M708 878.6h0M708.7 879.3h0M709.4 880h0M710.1 880.7h0M710.7 881.4h0M711.4 882.1h0M712.2 882.8h0M712.9 883.5h0M713.6 884.2h0M714.3 884.9h0M715 885.6h0M715.7 886.3h0M716.4 887h0M717.1 887.7h0M717.8 888.4h0M718.5 889.1h0M719.2 889.8h0M719.9 890.5h0M720.6 891.1h0M721.4 891.8h0M722.1 892.5h0M722.8 893.2h0M723.5 893.9h0M724.2 894.6h0M724.9 895.2h0M725.7 895.9h0M726.4 896.6h0M727.1 897.3h0M727.8 898h0M728.6 898.6h0M729.3 899.3h0M730 900h0M730.7 900.6h0M731.5 901.3h0M732.2 902h0M732.9 902.6h0M733.7 903.3h0M734.4 904h0M735.1 904.6h0M735.9 905.3h0M736.6 906h0M737.3 906.6h0M738.1 907.3h0M738.8 907.9h0M739.6 908.6h0M740.3 909.3h0M741 909.9h0M741.8 910.6h0M742.5 911.2h0M743.3 911.9h0M744 912.5h0M744.8 913.2h0M745.5 913.8h0M746.3 914.5h0M747 915.1h0M747.8 915.7h0M748.5 916.4h0M749.3 917h0M750.1 917.7h0M750.8 918.3h0M751.6 918.9h0M752.3 919.6h0M753.1 920.2h0M753.9 920.8h0M754.6 921.5h0M755.4 922.1h0M756.2 922.7h0M756.9 923.4h0M757.7 924h0M758.5 924.6h0M759.2 925.2h0M760 925.9h0M760.8 926.5h0M761.6 927.1h0M762.3 927.7h0M763.1 928.3h0M763.9 928.9h0M764.7 929.6h0M765.4 930.2h0M766.2 930.8h0M767 931.4h0M767.8 932h0M768.6 932.6h0M769.4 933.2h0M770.2 933.8h0M770.9 934.4h0M771.7 935h0M772.5 935.6h0M773.3 936.2h0M774.1 936.8h0M774.9 937.4h0M775.7 938h0M776.5 938.6h0M777.3 939.2h0M778.1 939.8h0M778.9 940.4h0M779.7 941h0M780.5 941.6h0M781.3 942.2h0M782.1 942.8h0M782.9 943.3h0M783.7 943.9h0M784.5 944.5h0M785.3 945.1h0M786.1 945.7h0M787 946.2h0M787.8 946.8h0M788.6 947.4h0M789.4 948h0M790.2 948.6h0M791 949.1h0M791.8 949.7h0M792.7 950.3h0M793.5 950.8h0M794.3 951.4h0M795.1 952h0M795.9 952.5h0M796.8 953.1h0M797.6 953.7h0M798.4 954.2h0M799.2 954.8h0M800.1 955.3h0M800.9 955.9h0M801.7 956.5h0M802.6 957h0M803.4 957.6h0M804.2 958.1h0M805 958.7h0M805.9 959.2h0M806.7 959.8h0M807.6 960.3h0M808.4 960.9h0M809.2 961.4h0M810.1 961.9h0M810.9 962.5h0M811.7 963h0M812.6 963.6h0M813.4 964.1h0M814.3 964.6h0M815.1 965.2h0M816 965.7h0M816.8 966.3h0M817.7 966.8h0M818.5 967.3h0M819.4 967.9h0M820.2 968.4h0M821.1 968.9h0M821.9 969.4h0M822.8 970h0M823.6 970.5h0M824.5 971h0M825.3 971.5h0M826.2 972.1h0M827 972.6h0M827.9 973.1h0M828.7 973.6h0M829.6 974.1h0M830.5 974.6h0M831.3 975.2h0M832.2 975.7h0M833 976.2h0M833.9 976.7h0M834.8 977.2h0M835.6 977.7h0M836.5 978.2h0M837.4 978.7h0M838.2 979.2h0M839.1 979.7h0M840 980.2h0M840.8 980.7h0M841.7 981.2h0M842.6 981.7h0M843.5 982.2h0M844.3 982.7h0M845.2 983.2h0M846.1 983.7h0M847 984.2h0M847.8 984.7h0M848.7 985.2h0M849.6 985.7h0M850.5 986.2h0M851.3 986.6h0M852.2 987.1h0M853.1 987.6h0M854 988.1h0M854.9 988.6h0M855.7 989.1h0M856.6 989.5h0M857.5 990h0M858.4 990.5h0M859.3 991h0M860.2 991.4h0M861 991.9h0M861.9 992.4h0M862.8 992.9h0M863.7 993.3h0M864.6 993.8h0M865.5 994.3h0M866.4 994.7h0M867.3 995.2h0M868.2 995.7h0M869.1 996.1h0M869.9 996.6h0M870.8 997.1h0M871.7 997.5h0M872.6 998h0M873.5 998.4h0M874.4 998.9h0M875.3 999.4h0M876.2 999.8h0M877.1 1000.3h0M878 1000.7h0M878.9 1001.2h0M879.8 1001.6h0M880.7 1002.1h0M881.6 1002.5h0M882.5 1003h0M883.4 1003.4h0M884.3 1003.9h0M885.2 1004.3h0M886.1 1004.7h0M887 1005.2h0M887.9 1005.6h0M888.8 1006.1h0M889.7 1006.5h0M890.7 1006.9h0M891.6 1007.4h0M892.5 1007.8h0M893.4 1008.2h0M894.3 1008.7h0M895.2 1009.1h0M896.1 1009.5h0M897 1010h0M897.9 1010.4h0M898.8 1010.8h0M899.8 1011.2h0M900.7 1011.7h0M901.6 1012.1h0M902.5 1012.5h0M903.4 1012.9h0M904.3 1013.4h0M905.2 1013.8h0M906.1 1014.2h0M907.1 1014.6h0M908 1015h0M908.9 1015.4h0M909.8 1015.9h0M910.7 1016.3h0M911.7 1016.7h0M912.6 1017.1h0M913.5 1017.5h0M914.4 1017.9h0M915.3 1018.3h0M916.2 1018.7h0M917.2 1019.1h0M918.1 1019.5h0M919 1019.9h0M919.9 1020.4h0M920.9 1020.8h0M921.8 1021.2h0M922.7 1021.6h0M923.6 1021.9h0M924.5 1022.3h0M925.5 1022.7h0M926.4 1023.1h0M927.3 1023.5h0M928.2 1023.9h0M929.2 1024.3h0M930.1 1024.7h0M931 1025.1h0M932 1025.5h0M932.9 1025.9h0M933.8 1026.3h0M934.7 1026.6h0M935.7 1027h0M936.6 1027.4h0M937.5 1027.8h0M938.5 1028.2h0M939.4 1028.6h0M940.3 1028.9h0M941.2 1029.3h0M942.2 1029.7h0M943.1 1030.1h0M944 1030.4h0M945 1030.8h0M945.9 1031.2h0M946.8 1031.6h0M947.8 1031.9h0M948.7 1032.3h0M949.6 1032.7h0M950.6 1033h0M951.5 1033.4h0M952.4 1033.8h0M953.4 1034.1h0M954.3 1034.5h0M955.2 1034.9h0M956.2 1035.2h0M957.1 1035.6h0M958 1036h0M959 1036.3h0M959.9 1036.7h0M960.8 1037h0M961.8 1037.4h0M962.7 1037.7h0M963.7 1038.1h0M964.6 1038.5h0M965.5 1038.8h0M966.5 1039.2h0M967.4 1039.5h0M968.3 1039.9h0M969.3 1040.2h0M970.2 1040.6h0M971.2 1040.9h0M972.1 1041.2h0M973 1041.6h0M974 1041.9h0M974.9 1042.3h0M975.9 1042.6h0M976.8 1043h0M977.7 1043.3h0M978.7 1043.6h0M979.6 1044h0M980.6 1044.3h0M981.5 1044.6h0M982.4 1045h0M983.4 1045.3h0M984.3 1045.6h0M985.3 1046h0M986.2 1046.3h0M987.2 1046.6h0M988.1 1047h0M989 1047.3h0M990 1047.6h0M990.9 1048h0M991.9 1048.3h0M992.8 1048.6h0M993.8 1048.9h0M994.7 1049.2h0M995.7 1049.6h0M996.6 1049.9h0M997.5 1050.2h0M998.5 1050.5h0M999.4 1050.8h0M1000.4 1051.2h0M1001.3 1051.5h0M1002.3 1051.8h0M1003.2 1052.1h0M1004.2 1052.4h0M1005.1 1052.7h0M1006.1 1053h0M1007 1053.4h0M1008 1053.7h0M1008.9 1054h0M1009.9 1054.3h0M1010.8 1054.6h0M1011.8 1054.9h0M1012.7 1055.2h0M1013.7 1055.5h0M1014.6 1055.8h0M1015.6 1056.1h0M1016.5 1056.4h0M1017.5 1056.7h0M1018.4 1057h0M1019.4 1057.3h0M1020.3 1057.6h0M1021.3 1057.9h0M1022.2 1058.2h0M1023.2 1058.5h0M1024.1 1058.8h0M1025.1 1059.1h0M1026 1059.4h0M1027 1059.7h0M1027.9 1060h0M1028.9 1060.2h0M1029.8 1060.5h0M1030.8 1060.8h0M1031.7 1061.1h0M1032.7 1061.4h0M1033.7 1061.7h0M1034.6 1062h0M1035.6 1062.2h0M1036.5 1062.5h0M1037.5 1062.8h0M1038.4 1063.1h0M1039.4 1063.4h0M1040.3 1063.7h0M1041.3 1063.9h0M1042.3 1064.2h0M1043.2 1064.5h0M1044.2 1064.8h0M1045.1 1065h0M1046.1 1065.3h0M1047 1065.6h0M1048 1065.9h0M1049 1066.1h0M1049.9 1066.4h0M1050.9 1066.7h0M1051.8 1066.9h0M1052.8 1067.2h0M1053.7 1067.5h0M1054.7 1067.7h0M1055.7 1068h0M1056.6 1068.3h0M1057.6 1068.5h0M1058.5 1068.8h0M1059.5 1069.1h0M1060.5 1069.3h0M1061.4 1069.6h0M1062.4 1069.8h0M1063.3 1070.1h0M1064.3 1070.4h0M1065.3 1070.6h0M1066.2 1070.9h0M1067.2 1071.1h0M1068.2 1071.4h0M1069.1 1071.6h0M1070.1 1071.9h0M1071 1072.1h0M1072 1072.4h0M1073 1072.6h0M1073.9 1072.9h0M1074.9 1073.1h0M1075.9 1073.4h0M1076.8 1073.6h0M1077.8 1073.9h0M1078.7 1074.1h0M1079.7 1074.4h0M1080.7 1074.6h0M1081.6 1074.9h0M1082.6 1075.1h0M1083.6 1075.3h0M1084.5 1075.6h0M1085.5 1075.8h0M1086.5 1076.1h0M1087.4 1076.3h0M1088.4 1076.5h0M1089.4 1076.8h0M1090.3 1077h0M1091.3 1077.3h0M1092.3 1077.5h0M1093.2 1077.7h0M1094.2 1078h0M1095.2 1078.2h0M1096.1 1078.4h0M1097.1 1078.7h0M1098.1 1078.9h0M1099 1079.1h0M1100 1079.3h0M1101 1079.6h0M1101.9 1079.8h0M1102.9 1080h0M1103.9 1080.2h0M1104.8 1080.5h0M1105.8 1080.7h0M1106.8 1080.9h0M1107.8 1081.1h0M1108.7 1081.4h0M1109.7 1081.6h0M1110.7 1081.8h0M1111.6 1082h0M1112.6 1082.2h0M1113.6 1082.5h0M1114.6 1082.7h0M1115.5 1082.9h0M1116.5 1083.1h0M1117.5 1083.3h0M1118.4 1083.5h0M1119.4 1083.8h0M1120.4 1084h0M1121.4 1084.2h0M1122.3 1084.4h0M1123.3 1084.6h0M1124.3 1084.8h0M1125.2 1085h0M1126.2 1085.2h0M1127.2 1085.4h0M1128.2 1085.6h0M1129.1 1085.9h0M1130.1 1086.1h0M1131.1 1086.3h0M1132.1 1086.5h0M1133 1086.7h0M1134 1086.9h0M1135 1087.1h0M1136 1087.3h0M1136.9 1087.5h0M1137.9 1087.7h0M1138.9 1087.9h0M1139.9 1088.1h0M1140.8 1088.3h0M1141.8 1088.5h0M1142.8 1088.7h0M1143.8 1088.9h0M1144.7 1089.1h0M1145.7 1089.3h0M1146.7 1089.4h0M1147.7 1089.6h0M1148.6 1089.8h0M1149.6 1090h0M1150.6 1090.2h0M1151.6 1090.4h0M1152.5 1090.6h0M1153.5 1090.8h0M1154.5 1091h0M1155.5 1091.2h0M1156.5 1091.3h0M1157.4 1091.5h0M1158.4 1091.7h0M1159.4 1091.9h0M1160.4 1092.1h0M1161.4 1092.3h0M1162.3 1092.5h0M1163.3 1092.6h0M1164.3 1092.8h0M1165.3 1093h0M1166.2 1093.2h0M1167.2 1093.4h0M1168.2 1093.5h0M1169.2 1093.7h0M1170.2 1093.9h0M1171.1 1094.1h0M1172.1 1094.2h0M1173.1 1094.4h0M1174.1 1094.6h0M1175.1 1094.8h0M1176.1 1094.9h0M1177 1095.1h0M1178 1095.3h0M1179 1095.5h0M1180 1095.6h0M1181 1095.8h0M1181.9 1096h0M1182.9 1096.1h0M1183.9 1096.3h0M1184.9 1096.5h0M1185.9 1096.7h0M1186.9 1096.8h0M1187.8 1097h0M1188.8 1097.2h0M1189.8 1097.3h0M1190.8 1097.5h0M1191.8 1097.6h0M1192.8 1097.8h0M1193.7 1098h0M1194.7 1098.1h0M1195.7 1098.3h0M1196.7 1098.5h0M1197.7 1098.6h0M1198.7 1098.8h0M1199.6 1098.9h0M1200.6 1099.1h0M1201.6 1099.2h0M1202.6 1099.4h0M1203.6 1099.6h0M1204.6 1099.7h0M1205.5 1099.9h0M1206.5 1100h0M1207.5 1100.2h0M1208.5 1100.3h0M1209.5 1100.5h0M1210.5 1100.6h0M1211.5 1100.8h0M1212.4 1100.9h0M1213.4 1101.1h0M1214.4 1101.2h0M1215.4 1101.4h0M1216.4 1101.5h0M1217.4 1101.7h0M1218.4 1101.8h0M1219.4 1102h0M1220.3 1102.1h0M1221.3 1102.3h0M1222.3 1102.4h0M1223.3 1102.6h0M1224.3 1102.7h0M1225.3 1102.9h0M1226.3 1103h0M1227.3 1103.1h0M1228.2 1103.3h0M1229.2 1103.4h0M1230.2 1103.6h0M1231.2 1103.7h0M1232.2 1103.8h0M1233.2 1104h0M1234.2 1104.1h0M1235.2 1104.3h0M1236.2 1104.4h0M1237.1 1104.5h0M1238.1 1104.7h0M1239.1 1104.8h0M1240.1 1104.9h0M1241.1 1105.1h0M1242.1 1105.2h0M1243.1 1105.4h0M1244.1 1105.5h0M1245.1 1105.6h0M1246 1105.8h0M1247 1105.9h0M1248 1106h0M1249 1106.1h0M1250 1106.3h0M1251 1106.4h0M1252 1106.5h0M1253 1106.7h0M1254 1106.8h0M1255 1106.9h0M1256 1107h0M1256.9 1107.2h0M1257.9 1107.3h0M1258.9 1107.4h0M1259.9 1107.5h0M1260.9 1107.7h0M1261.9 1107.8h0M1262.9 1107.9h0M1263.9 1108h0M1264.9 1108.2h0M1265.9 1108.3h0M1266.9 1108.4h0M1267.9 1108.5h0M1268.8 1108.7h0M1269.8 1108.8h0M1270.8 1108.9h0M1271.8 1109h0M1272.8 1109.1h0M1273.8 1109.2h0M1274.8 1109.4h0M1275.8 1109.5h0M1276.8 1109.6h0M1277.8 1109.7h0M1278.8 1109.8h0M1279.8 1109.9h0M1280.8 1110.1h0M1281.8 1110.2h0M1282.8 1110.3h0M1283.7 1110.4h0M1284.7 1110.5h0M1285.7 1110.6h0M1286.7 1110.7h0M1287.7 1110.9h0M1288.7 1111h0M1289.7 1111.1h0M1290.7 1111.2h0M1291.7 1111.3h0M1292.7 1111.4h0M1293.7 1111.5h0M1294.7 1111.6h0M1295.7 1111.7h0M1296.7 1111.8h0M1297.7 1111.9h0M1298.7 1112.1h0M1299.7 1112.2h0M1300.7 1112.3h0M1301.7 1112.4h0M1302.7 1112.5h0M1303.6 1112.6h0M1304.6 1112.7h0M1305.6 1112.8h0M1306.6 1112.9h0M1307.6 1113h0M1308.6 1113.1h0M1309.6 1113.2h0M1310.6 1113.3h0M1311.6 1113.4h0M1312.6 1113.5h0M1313.6 1113.6h0M1314.6 1113.7h0M1315.6 1113.8h0M1316.6 1113.9h0M1317.6 1114h0M1318.6 1114.1h0M1319.6 1114.2h0M1320.6 1114.3h0M1321.6 1114.4h0M1322.6 1114.5h0M1323.6 1114.6h0M1324.6 1114.7h0M1325.6 1114.8h0M1326.6 1114.9h0M1327.6 1115h0M1328.6 1115h0M1329.6 1115.1h0M1330.6 1115.2h0M1331.6 1115.3h0M1332.6 1115.4h0M1333.6 1115.5h0M1334.6 1115.6h0M1335.5 1115.7h0M1336.5 1115.8h0M1337.5 1115.9h0M1338.5 1116h0M1339.5 1116.1h0M1340.5 1116.1h0M1341.5 1116.2h0M1342.5 1116.3h0M1343.5 1116.4h0M1344.5 1116.5h0M1345.5 1116.6h0M1346.5 1116.7h0M1347.5 1116.8h0M1348.5 1116.8h0M1349.5 1116.9h0M1350.5 1117h0M1351.5 1117.1h0M1352.5 1117.2h0M1353.5 1117.3h0M1354.5 1117.4h0M1355.5 1117.4h0M1356.5 1117.5h0M1357.5 1117.6h0M1358.5 1117.7h0M1359.5 1117.8h0M1360.5 1117.9h0M1361.5 1117.9h0M1362.5 1118h0M1363.5 1118.1h0M1364.5 1118.2h0M1365.5 1118.3h0M1366.5 1118.3h0M1367.5 1118.4h0M1368.5 1118.5h0M1369.5 1118.6h0M1370.5 1118.7h0M1371.5 1118.7h0M1372.5 1118.8h0M1373.5 1118.9h0M1374.5 1119h0M1375.5 1119h0M1376.5 1119.1h0M1377.5 1119.2h0M1378.5 1119.3h0M1379.5 1119.4h0M1380.5 1119.4h0M1381.5 1119.5h0M1382.5 1119.6h0M1383.5 1119.7h0M1384.5 1119.7h0M1385.5 1119.8h0M1386.5 1119.9h0M1387.5 1119.9h0M1388.5 1120h0M1389.5 1120.1h0M1390.5 1120.2h0M1391.5 1120.2h0M1392.5 1120.3h0M1393.5 1120.4h0M1394.5 1120.5h0M1395.5 1120.5h0M1396.5 1120.6h0M1397.5 1120.7h0M1398.5 1120.7h0M1399.5 1120.8h0M1400.5 1120.9h0M1401.5 1120.9h0M1402.5 1121h0M1403.5 1121.1h0M1404.5 1121.2h0M1405.5 1121.2h0M1406.5 1121.3h0M1407.5 1121.4h0M1408.6 1121.4h0M1409.6 1121.5h0M1410.6 1121.6h0M1411.6 1121.6h0M1412.6 1121.7h0M1413.6 1121.8h0M1414.6 1121.8h0M1415.6 1121.9h0M1416.6 1122h0M1417.6 1122h0M1418.6 1122.1h0M1419.6 1122.1h0M1420.6 1122.2h0M1421.6 1122.3h0M1422.6 1122.3h0M1423.6 1122.4h0M1424.6 1122.5h0M1425.6 1122.5h0M1426.6 1122.6h0M1427.6 1122.7h0M1428.6 1122.7h0M1429.6 1122.8h0M1430.6 1122.8h0M1431.6 1122.9h0M1432.6 1123h0M1433.6 1123h0M1434.6 1123.1h0M1435.6 1123.1h0M1436.6 1123.2h0M1437.6 1123.3h0M1438.6 1123.3h0M1439.6 1123.4h0M1440.6 1123.4h0M1441.6 1123.5h0M1442.6 1123.6h0M1443.6 1123.6h0M1444.6 1123.7h0M1445.6 1123.7h0M1446.6 1123.8h0M1447.6 1123.9h0M1448.6 1123.9h0M1449.6 1124h0M1450.6 1124h0M1451.6 1124.1h0M1452.6 1124.1h0M1453.6 1124.2h0M1454.6 1124.3h0M1455.6 1124.3h0M1456.7 1124.4h0M1457.7 1124.4h0M1458.7 1124.5h0M1459.7 1124.5h0M1460.7 1124.6h0M1461.7 1124.6h0M1462.7 1124.7h0M1463.7 1124.8h0M1464.7 1124.8h0M1465.7 1124.9h0M1466.7 1124.9h0M1467.7 1125h0M1468.7 1125h0M1469.7 1125.1h0M1470.7 1125.1h0M1471.7 1125.2h0M1472.7 1125.2h0M1473.7 1125.3h0M1474.7 1125.4h0M1475.7 1125.4h0M1476.7 1125.5h0M1477.7 1125.5h0M1478.7 1125.6h0M1479.7 1125.6h0M1480.7 1125.7h0M1481.7 1125.7h0M1482.7 1125.8h0M1483.7 1125.8h0M1484.7 1125.9h0M1485.7 1125.9h0M1486.7 1126h0M1487.7 1126h0M1488.7 1126.1h0M1489.7 1126.1h0M1490.7 1126.2h0M1491.7 1126.2h0M1492.7 1126.3h0M1493.7 1126.3h0M1494.7 1126.4h0M1495.7 1126.4h0M1496.7 1126.5h0M1497.7 1126.5h0M1498.8 1126.6h0M1499.8 1126.6h0M1500.8 1126.7h0M1501.8 1126.7h0M1502.8 1126.8h0M1503.8 1126.8h0M1504.8 1126.9h0M1505.8 1126.9h0M1506.8 1127h0M1507.8 1127h0M1508.8 1127.1h0M1509.8 1127.1h0M1510.8 1127.2h0M1511.8 1127.2h0M1512.8 1127.3h0M1513.8 1127.3h0M1514.8 1127.4h0M1515.8 1127.4h0M1516.8 1127.5h0M1517.8 1127.5h0M1518.8 1127.5h0M1519.8 1127.6h0M1520.8 1127.6h0M1521.8 1127.7h0M1522.8 1127.7h0M1523.8 1127.8h0M1524.8 1127.8h0M1525.8 1127.9h0M1526.8 1127.9h0M1527.8 1128h0M1528.8 1128h0M1529.8 1128.1h0M1530.8 1128.1h0M1531.8 1128.2h0M1532.8 1128.2h0M1533.8 1128.2h0M1534.8 1128.3h0M1535.8 1128.3h0M1536.8 1128.4h0M1537.8 1128.4h0M1538.8 1128.5h0M1539.8 1128.5h0M1540.8 1128.6h0M1541.8 1128.6h0M1542.8 1128.7h0M1543.8 1128.7h0M1544.8 1128.7h0M1545.8 1128.8h0M1546.8 1128.8h0M1547.8 1128.9h0M1548.8 1128.9h0M1549.8 1129h0M1550.8 1129h0M1551.8 1129.1h0M1552.8 1129.1h0M1553.8 1129.2h0M1554.8 1129.2h0M1555.8 1129.2h0M1556.8 1129.3h0M1557.8 1129.3h0M1558.8 1129.4h0M1559.8 1129.4h0M1560.8 1129.5h0M1561.8 1129.5h0M1562.8 1129.6h0M1563.8 1129.6h0M1564.8 1129.6h0M1565.8 1129.7h0M1566.8 1129.7h0M1567.8 1129.8h0M1568.8 1129.8h0M1569.8 1129.9h0M1570.8 1129.9h0M1571.8 1130h0M1572.8 1130h0M1573.8 1130.1h0M1574.8 1130.1h0M1575.8 1130.1h0M1576.8 1130.2h0M1577.8 1130.2h0M1578.8 1130.3h0M1579.8 1130.3h0M1580.8 1130.4h0M1581.8 1130.4h0M1582.8 1130.5h0M1583.8 1130.5h0M1584.8 1130.5h0M1585.8 1130.6h0M1586.8 1130.6h0M1587.8 1130.7h0M1588.8 1130.7h0M1589.8 1130.8h0M1590.8 1130.8h0M1591.8 1130.9h0M1592.8 1130.9h0M1593.8 1130.9h0M1594.8 1131h0M1595.8 1131h0M1596.8 1131.1h0M1597.8 1131.1h0M1598.8 1131.2h0M1599.8 1131.2h0M1600.8 1131.3h0M1601.8 1131.3h0M1602.8 1131.3h0M1603.8 1131.4h0M1604.8 1131.4h0M1605.8 1131.5h0M1606.8 1131.5h0M1607.8 1131.6h0M1608.8 1131.6h0M1609.8 1131.7h0M1610.8 1131.7h0M1611.8 1131.8h0M1612.8 1131.8h0M1613.8 1131.8h0M1614.8 1131.9h0M1615.8 1131.9h0M1616.8 1132h0M1617.8 1132h0M1618.8 1132.1h0M1619.8 1132.1h0M1620.8 1132.2h0M1621.8 1132.2h0M1622.8 1132.3h0M1623.8 1132.3h0M1624.8 1132.4h0M1625.7 1132.4h0M1626.7 1132.4h0M1627.7 1132.5h0M1628.7 1132.5h0M1629.7 1132.6h0M1630.7 1132.6h0M1631.7 1132.7h0M1632.7 1132.7h0M1633.7 1132.8h0M1634.7 1132.8h0M1635.7 1132.9h0M1636.7 1132.9h0M1637.7 1133h0M1638.7 1133h0M1639.7 1133.1h0M1640.7 1133.1h0M1641.7 1133.2h0M1642.7 1133.2h0M1643.7 1133.2h0M1644.7 1133.3h0M1645.7 1133.3h0M1646.7 1133.4h0M1647.7 1133.4h0M1648.6 1133.5h0M1649.6 1133.5h0M1650.6 1133.6h0M1651.6 1133.6h0M1652.6 1133.7h0M1653.6 1133.7h0M1654.6 1133.8h0M1655.6 1133.8h0M1656.6 1133.9h0M1657.6 1133.9h0M1658.6 1134h0M1659.6 1134h0M1660.6 1134.1h0M1661.6 1134.1h0M1662.6 1134.2h0M1663.6 1134.2h0M1664.5 1134.3h0M1665.5 1134.3h0M1666.5 1134.4h0M1667.5 1134.4h0M1668.5 1134.5h0M1669.5 1134.5h0M1670.5 1134.6h0M1671.5 1134.6h0M1672.5 1134.7h0M1673.5 1134.7h0M1674.5 1134.8h0M1675.5 1134.8h0M1676.5 1134.9h0M1677.4 1135h0M1678.4 1135h0M1679.4 1135.1h0M1680.4 1135.1h0M1681.4 1135.2h0M1682.4 1135.2h0M1683.4 1135.3h0M1684.4 1135.3h0M1685.4 1135.4h0M1686.4 1135.4h0M1687.4 1135.5h0M1688.3 1135.5h0M1689.3 1135.6h0M1690.3 1135.6h0M1691.3 1135.7h0M1692.3 1135.8h0M1693.3 1135.8h0M1694.3 1135.9h0M1695.3 1135.9h0M1696.3 1136h0M1697.3 1136h0M1698.2 1136.1h0M1699.2 1136.1h0M1700.2 1136.2h0M1701.2 1136.3h0M1702.2 1136.3h0M1703.2 1136.4h0M1704.2 1136.4h0M1705.2 1136.5h0M1706.2 1136.5h0M1707.1 1136.6h0M1708.1 1136.7h0M1709.1 1136.7h0M1710.1 1136.8h0M1711.1 1136.8h0M1712.1 1136.9h0M1713.1 1137h0M1714.1 1137h0M1715.1 1137.1h0M1716 1137.1h0M1717 1137.2h0M1718 1137.3h0M1719 1137.3h0M1720 1137.4h0M1721 1137.4h0M1722 1137.5h0M1722.9 1137.6h0M1723.9 1137.6h0M1724.9 1137.7h0M1725.9 1137.7h0M1726.9 1137.8h0M1727.9 1137.9h0M1728.9 1137.9h0M1729.9 1138h0M1730.8 1138.1h0M1731.8 1138.1h0M1732.8 1138.2h0M1733.8 1138.3h0M1734.8 1138.3h0M1735.8 1138.4h0M1736.7 1138.4h0M1737.7 1138.5h0M1738.7 1138.6h0M1739.7 1138.6h0M1740.7 1138.7h0M1741.7 1138.8h0M1742.7 1138.8h0M1743.6 1138.9h0M1744.6 1139h0" stroke="#ff8000"/>
<path d="M370.9 371.7h0M371 370.7h0M371.1 369.7h0M371.1 368.7h0M371.2 367.7h0M371.3 366.7h0M371.3 365.8h0M371.4 364.8h0M371.4 363.8h0M371.5 362.8h0M371.6 361.8h0M371.6 360.8h0M371.7 359.8h0M371.7 358.8h0M371.8 357.8h0M371.8 356.8h0M371.9 355.8h0M371.9 354.8h0M372 353.9h0M372 352.9h0M372 351.9h0M372.1 350.9h0M372.1 349.9h0M372.2 348.9h0M372.2 347.9h0M372.2 346.9h0M372.3 345.9h0M372.3 344.9h0M372.3 343.9h0M372.4 342.9h0M372.4 341.9h0M372.4 340.8h0M372.5 339.8h0M372.5 338.8h0M372.5 337.8h0M372.6 336.8h0M372.6 335.8h0M372.6 334.8h0M372.6 333.8h0M372.7 332.8h0M372.7 331.8h0M372.7 330.8h0M372.7 329.8h0M372.8 328.8h0M372.8 327.8h0M372.8 326.8h0M372.9 325.8h0M372.9 324.8h0M372.9 323.7h0M372.9 322.7h0M373 321.7h0M373 320.7h0M373 319.7h0M373 318.7h0M373.1 317.7h0M373.1 316.7h0M373.1 315.7h0M373.2 314.7h0M373.2 313.7h0M373.2 312.7h0M373.2 311.7h0M373.3 310.7h0M373.3 309.7h0M373.3 308.6h0M373.4 307.6h0M373.4 306.6h0M373.4 305.6h0M373.5 304.6h0M373.5 303.6h0M373.5 302.6h0M373.6 301.6h0M373.6 300.6h0M373.7 299.6h0M373.7 298.6h0M373.8 297.6h0M373.8 296.6h0M373.8 295.6h0M373.9 294.6h0M373.9 293.6h0M374 292.6h0M374 291.6h0M374.1 290.6h0M374.2 289.6h0M374.2 288.6h0M374.3 287.6h0M374.3 286.6h0M374.4 285.6h0M374.5 284.6h0M374.5 283.6h0M374.6 282.6h0M374.7 281.7h0M374.7 280.7h0M374.8 279.7h0M374.9 278.7h0M375 277.7h0M375 276.7h0M375.1 275.7h0M375.2 274.7h0M375.3 273.7h0M375.4 272.8h0M375.5 271.8h0M375.5 270.8h0M375.6 269.8h0M375.7 268.8h0M375.8 267.8h0M375.9 266.9h0M376 265.9h0M376.1 264.9h0M376.2 263.9h0M376.3 262.9h0M376.4 261.9h0M376.5 261h0M376.6 260h0M376.7 259h0M376.8 258h0M376.9 257h0M377 256.1h0M377.1 255.1h0M377.2 254.1h0M377.3 253.1h0M377.4 252.1h0M377.5 251.1h0M377.6 250.2h0M377.7 249.2h0M377.8 248.2h0M377.9 247.2h0M378 246.2h0M378.1 245.2h0M378.2 244.3h0M378.3 243.3h0M378.4 242.3h0M378.5 241.3h0M378.6 240.3h0M378.7 239.3h0M378.8 238.3h0M378.9 237.3h0M379 236.3h0M379 235.3h0M379.1 234.3h0M379.2 233.3h0M379.3 232.4h0M379.4 231.4h0M379.4 230.4h0M379.5 229.4h0M379.6 228.4h0M379.7 227.4h0M379.7 226.3h0M379.8 225.3h0M379.9 224.3h0M380 223.3h0M380 222.3h0M380.1 221.3h0M380.2 220.3h0M380.3 219.3h0M380.3 218.3h0M380.4 217.3h0M380.5 216.2h0M380.6 215.2h0M380.7 214.2h0M380.8 213.2h0M380.9 212.2h0M381 211.2h0M381.1 210.1h0M381.3 209.1h0M381.4 208.1h0M381.5 207.1h0M381.7 206h0M381.8 205h0M382 204h0M382.2 203h0M382.3 201.9h0M382.5 200.9h0M382.7 199.9h0M382.9 198.8h0M383.2 197.8h0M383.4 196.8h0M383.6 195.7h0M383.9 194.7h0M384.1 193.7h0M384.4 192.6h0M384.7 191.6h0M385 190.5h0M385.4 189.5h0M385.7 188.5h0M386 187.4h0M386.4 186.4h0M386.8 185.3h0M387.2 184.3h0M387.6 183.3h0M388 182.2h0M388.5 181.2h0M388.9 180.2h0M389.4 179.3h0M389.9 178.3h0M390.4 177.5h0M391 176.6h0M391.5 175.8h0M392 175.1h0M392.6 174.4h0M393.8 173.2h0M395 172.4h0M395.7 172.1h0M396.3 171.9h0M397 171.7h0M397.7 171.7h0M398.4 171.8h0M399 171.9h0M399.7 172.1h0M400.4 172.4h0M401.1 172.8h0M402.4 173.7h0M403 174.3h0M403.6 174.9h0M404.2 175.6h0M404.8 176.4h0M405.4 177.2h0M405.9 178h0M406.5 178.9h0M407 179.8h0M407.5 180.7h0M408 181.7h0M408.5 182.7h0M409 183.7h0M409.5 184.8h0M410 185.8h0M410.5 186.9h0M411 187.9h0M411.4 189h0M411.9 190h0M412.3 191.1h0M412.8 192.1h0M413.2 193.2h0M413.7 194.2h0M414.1 195.2h0M414.5 196.3h0M415 197.3h0M415.4 198.3h0M415.8 199.3h0M416.2 200.4h0M416.6 201.4h0M417 202.4h0M417.4 203.4h0M417.8 204.4h0M418.2 205.4h0M418.6 206.4h0M418.9 207.4h0M419.3 208.4h0M419.7 209.4h0M420 210.4h0M420.4 211.4h0M420.8 212.3h0M421.1 213.3h0M421.5 214.3h0M421.8 215.3h0M422.2 216.2h0M422.5 217.2h0M422.9 218.2h0M423.2 219.2h0M423.5 220.1h0M423.9 221.1h0M424.2 222h0M424.5 223h0M424.8 224h0M425.2 224.9h0M425.5 225.9h0M425.8 226.8h0M426.1 227.8h0M426.4 228.7h0M426.7 229.7h0M427 230.6h0M427.3 231.6h0M427.6 232.5h0M427.9 233.4h0M428.2 234.4h0M428.5 235.3h0M428.8 236.3h0M429.1 237.2h0M429.4 238.2h0M429.7 239.1h0M430 240h0M430.3 241h0M430.6 241.9h0M430.8 242.8h0M431.1 243.8h0M431.4 244.7h0M431.7 245.7h0M432 246.6h0M432.3 247.5h0M432.5 248.5h0M432.8 249.4h0M433.1 250.3h0M433.4 251.3h0M433.7 252.2h0M433.9 253.2h0M434.2 254.1h0M434.5 255h0M434.8 256h0M435.1 256.9h0M435.3 257.9h0M435.6 258.8h0M435.9 259.7h0M436.2 260.7h0M436.4 261.6h0M436.7 262.6h0M437 263.5h0M437.3 264.4h0M437.5 265.4h0M437.8 266.3h0M438.1 267.3h0M438.4 268.2h0M438.6 269.2h0M438.9 270.1h0M439.2 271.1h0M439.5 272h0M439.7 272.9h0M440 273.9h0M440.3 274.8h0M440.6 275.8h0M440.8 276.7h0M441.1 277.7h0M441.4 278.6h0M441.6 279.6h0M441.9 280.5h0M442.2 281.5h0M442.4 282.4h0M442.7 283.4h0M443 284.3h0M443.3 285.3h0M443.5 286.2h0M443.8 287.2h0M444.1 288.1h0M444.3 289.1h0M444.6 290h0M444.9 291h0M445.1 291.9h0M445.4 292.9h0M445.7 293.8h0M445.9 294.8h0M446.2 295.7h0M446.5 296.7h0M446.7 297.6h0M447 298.6h0M447.3 299.5h0M447.5 300.5h0M447.8 301.4h0M448.1 302.4h0M448.3 303.3h0M448.6 304.3h0M448.9 305.3h0M449.1 306.2h0M449.4 307.2h0M449.7 308.1h0M449.9 309.1h0M450.2 310h0M450.4 311h0M450.7 311.9h0M451 312.9h0M451.2 313.9h0M451.5 314.8h0M451.8 315.8h0M452 316.7h0M452.3 317.7h0M452.5 318.6h0M452.8 319.6h0M453.1 320.6h0M453.3 321.5h0M453.6 322.5h0M453.9 323.4h0M454.1 324.4h0M454.4 325.4h0M454.6 326.3h0M454.9 327.3h0M455.2 328.2h0M455.4 329.2h0M455.7 330.2h0M455.9 331.1h0M456.2 332.1h0M456.5 333h0M456.7 334h0M457 335h0M457.2 335.9h0M457.5 336.9h0M457.8 337.8h0M458 338.8h0M458.3 339.8h0M458.5 340.7h0M458.8 341.7h0M459.1 342.7h0M459.3 343.6h0M459.6 344.6h0M459.8 345.5h0M460.1 346.5h0M460.3 347.5h0M460.6 348.4h0M460.9 349.4h0M461.1 350.4h0M461.4 351.3h0M461.6 352.3h0M461.9 353.3h0M462.1 354.2h0M462.4 355.2h0M462.7 356.2h0M462.9 357.1h0M463.2 358.1h0M463.4 359h0M463.7 360h0M463.9 361h0M464.2 361.9h0M464.5 362.9h0M464.7 363.9h0M465 364.8h0M465.2 365.8h0M465.5 366.8h0M465.7 367.7h0M466 368.7h0M466.3 369.7h0M466.5 370.6h0M466.8 371.6h0M467 372.6h0M467.3 373.5h0M467.5 374.5h0M467.8 375.5h0M468 376.4h0M468.3 377.4h0M468.6 378.4h0M468.8 379.4h0M469.1 380.3h0M469.3 381.3h0M469.6 382.3h0M469.8 383.2h0M470.1 384.2h0M470.3 385.2h0M470.6 386.1h0M470.9 387.1h0M471.1 388.1h0M471.4 389h0M471.6 390h0M471.9 391h0M472.1 391.9h0M472.4 392.9h0M472.6 393.9h0M472.9 394.9h0M473.2 395.8h0M473.4 396.8h0M473.7 397.8h0M473.9 398.7h0M474.2 399.7h0M474.4 400.7h0M474.7 401.6h0M474.9 402.6h0M475.2 403.6h0M475.5 404.5h0M475.7 405.5h0M476 406.5h0M476.2 407.5h0M476.5 408.4h0M476.7 409.4h0M477 410.4h0M477.2 411.3h0M477.5 412.3h0M477.8 413.3h0M478 414.2h0M478.3 415.2h0M478.5 416.2h0M478.8 417.2h0M479 418.1h0M479.3 419.1h0M479.6 420.1h0M479.8 421h0M480.1 422h0M480.3 423h0M480.6 424h0M480.8 424.9h0M481.1 425.9h0M481.4 426.9h0M481.6 427.8h0M481.9 428.8h0M482.1 429.8h0M482.4 430.7h0M482.6 431.7h0M482.9 432.7h0M483.2 433.7h0M483.4 434.6h0M483.7 435.6h0M483.9 436.6h0M484.2 437.5h0M484.4 438.5h0M484.7 439.5h0M485 440.5h0M485.2 441.4h0M485.5 442.4h0M485.7 443.4h0M486 444.3h0M486.3 445.3h0M486.5 446.3h0M486.8 447.2h0M487 448.2h0M487.3 449.2h0M487.5 450.2h0M487.8 451.1h0M488.1 452.1h0M488.3 453.1h0M488.6 454h0M488.8 455h0M489.1 456h0M489.4 456.9h0M489.6 457.9h0M489.9 458.9h0M490.2 459.9h0M490.4 460.8h0M490.7 461.8h0M490.9 462.8h0M491.2 463.7h0M491.5 464.7h0M491.7 465.7h0M492 466.6h0M492.2 467.6h0M492.5 468.6h0M492.8 469.5h0M493 470.5h0M493.3 471.5h0M493.6 472.5h0M493.8 473.4h0M494.1 474.4h0M494.3 475.4h0M494.6 476.3h0M494.9 477.3h0M495.1 478.3h0M495.4 479.2h0M495.7 480.2h0M495.9 481.2h0M496.2 482.1h0M496.5 483.1h0M496.7 484.1h0M497 485h0M497.3 486h0M497.5 487h0M497.8 487.9h0M498.1 488.9h0M498.3 489.9h0M498.6 490.8h0M498.9 491.8h0M499.1 492.8h0M499.4 493.7h0M499.7 494.7h0M499.9 495.7h0M500.2 496.6h0M500.5 497.6h0M500.7 498.6h0M501 499.5h0M501.3 500.5h0M501.5 501.5h0M501.8 502.4h0M502.1 503.4h0M502.4 504.4h0M502.6 505.3h0M502.9 506.3h0M503.2 507.3h0M503.4 508.2h0M503.7 509.2h0M504 510.2h0M504.3 511.1h0M504.5 512.1h0M504.8 513.1h0M505.1 514h0M505.4 515h0M505.6 515.9h0M505.9 516.9h0M506.2 517.9h0M506.4 518.8h0M506.7 519.8h0M507 520.8h0M507.3 521.7h0M507.5 522.7h0M507.8 523.6h0M508.1 524.6h0M508.4 525.6h0M508.7 526.5h0M508.9 527.5h0M509.2 528.5h0M509.5 529.4h0M509.8 530.4h0M510 531.3h0M510.3 532.3h0M510.6 533.3h0M510.9 534.2h0M511.2 535.2h0M511.4 536.1h0M511.7 537.1h0M512 538.1h0M512.3 539h0M512.6 540h0M512.8 540.9h0M513.1 541.9h0M513.4 542.8h0M513.7 543.8h0M514 544.8h0M514.3 545.7h0M514.5 546.7h0M514.8 547.6h0M515.1 548.6h0M515.4 549.5h0M515.7 550.5h0M516 551.5h0M516.3 552.4h0M516.5 553.4h0M516.8 554.3h0M517.1 555.3h0M517.4 556.2h0M517.7 557.2h0M518 558.1h0M518.3 559.1h0M518.6 560.1h0M518.8 561h0M519.1 562h0M519.4 562.9h0M519.7 563.9h0M520 564.8h0M520.3 565.8h0M520.6 566.7h0M520.9 567.7h0M521.2 568.6h0M521.5 569.6h0M521.8 570.5h0M522.1 571.5h0M522.4 572.5h0M522.6 573.4h0M522.9 574.4h0M523.2 575.3h0M523.5 576.3h0M523.8 577.2h0M524.1 578.2h0M524.4 579.1h0M524.7 580.1h0M525 581h0M525.3 582h0M525.6 582.9h0M525.9 583.9h0M526.2 584.8h0M526.5 585.8h0M526.8 586.7h0M527.1 587.7h0M527.4 588.6h0M527.7 589.6h0M528 590.5h0M528.3 591.5h0M528.6 592.4h0M528.9 593.4h0M529.2 594.3h0M529.5 595.2h0M529.9 596.2h0M530.2 597.1h0M530.5 598.1h0M530.8 599h0M531.1 600h0M531.4 600.9h0M531.7 601.9h0M532 602.8h0M532.3 603.8h0M532.6 604.7h0M532.9 605.7h0M533.2 606.6h0M533.6 607.5h0M533.9 608.5h0M534.2 609.4h0M534.5 610.4h0M534.8 611.3h0M535.1 612.3h0M535.4 613.2h0M535.8 614.2h0M536.1 615.1h0M536.4 616h0M536.7 617h0M537 617.9h0M537.3 618.9h0M537.7 619.8h0M538 620.8h0M538.3 621.7h0M538.6 622.6h0M538.9 623.6h0M539.3 624.5h0M539.6 625.5h0M539.9 626.4h0M540.2 627.4h0M540.5 628.3h0M540.9 629.2h0M541.2 630.2h0M541.5 631.1h0M541.8 632.1h0M542.2 633h0M542.5 633.9h0M542.8 634.9h0M543.1 635.8h0M543.5 636.8h0M543.8 637.7h0M544.1 638.6h0M544.5 639.6h0M544.8 640.5h0M545.1 641.5h0M545.5 642.4h0M545.8 643.3h0M546.1 644.3h0M546.5 645.2h0M546.8 646.1h0M547.1 647.1h0M547.5 648h0M547.8 649h0M548.1 649.9h0M548.5 650.8h0M548.8 651.8h0M549.1 652.7h0M549.5 653.6h0M549.8 654.6h0M550.2 655.5h0M550.5 656.4h0M550.8 657.4h0M551.2 658.3h0M551.5 659.2h0M551.9 660.2h0M552.2 661.1h0M552.6 662.1h0M552.9 663h0M553.2 663.9h0M553.6 664.9h0M553.9 665.8h0M554.3 666.7h0M554.6 667.7h0M555 668.6h0M555.3 669.5h0M555.7 670.5h0M556 671.4h0M556.4 672.3h0M556.7 673.2h0M557.1 674.2h0M557.4 675.1h0M557.8 676h0M558.2 677h0M558.5 677.9h0M558.9 678.8h0M559.2 679.8h0M559.6 680.7h0M559.9 681.6h0M560.3 682.6h0M560.7 683.5h0M561 684.4h0M561.4 685.4h0M561.7 686.3h0M562.1 687.2h0M562.5 688.1h0M562.8 689.1h0M563.2 690h0M563.6 690.9h0M563.9 691.9h0M564.3 692.8h0M564.7 693.7h0M565 694.6h0M565.4 695.6h0M565.8 696.5h0M566.1 697.4h0M566.5 698.4h0M566.9 699.3h0M567.3 700.2h0M567.6 701.1h0M568 702.1h0M568.4 703h0M568.7 703.9h0M569.1 704.8h0M569.5 705.8h0M569.9 706.7h0M570.3 707.6h0M570.6 708.5h0M571 709.5h0M571.4 710.4h0M571.8 711.3h0M572.2 712.2h0M572.5 713.2h0M572.9 714.1h0M573.3 715h0M573.7 715.9h0M574.1 716.9h0M574.5 717.8h0M574.9 718.7h0M575.2 719.6h0M575.6 720.6h0M576 721.5h0M576.4 722.4h0M576.8 723.3h0M577.2 724.2h0M577.6 725.2h0M578 726.1h0M578.4 727h0M578.8 727.9h0M579.2 728.9h0M579.6 729.8h0M580 730.7h0M580.4 731.6h0M580.8 732.5h0M581.2 733.5h0M581.6 734.4h0M582 735.3h0M582.4 736.2h0M582.8 737.1h0M583.2 738.1h0M583.6 739h0M584 739.9h0M584.4 740.8h0M584.8 741.7h0M585.2 742.6h0M585.6 743.6h0M586 744.5h0M586.4 745.4h0M586.9 746.3h0M587.3 747.2h0M587.7 748.1h0M588.1 749.1h0M588.5 750h0M588.9 750.9h0M589.3 751.8h0M589.8 752.7h0M590.2 753.6h0M590.6 754.6h0M591 755.5h0M591.4 756.4h0M591.9 757.3h0M592.3 758.2h0M592.7 759.1h0M593.1 760h0M593.6 760.9h0M594 761.8h0M594.4 762.8h0M594.9 763.7h0M595.3 764.6h0M595.7 765.5h0M596.2 766.4h0M596.6 767.3h0M597 768.2h0M597.5 769.1h0M597.9 770h0M598.3 770.9h0M598.8 771.8h0M599.2 772.7h0M599.7 773.6h0M600.1 774.5h0M600.6 775.4h0M601 776.3h0M601.4 777.2h0M601.9 778.1h0M602.3 779h0M602.8 779.9h0M603.2 780.8h0M603.7 781.7h0M604.2 782.6h0M604.6 783.5h0M605.1 784.4h0M605.5 785.3h0M606 786.2h0M606.4 787.1h0M606.9 788h0M607.4 788.9h0M607.8 789.8h0M608.3 790.7h0M608.7 791.6h0M609.2 792.4h0M609.7 793.3h0M610.2 794.2h0M610.6 795.1h0M611.1 796h0M611.6 796.9h0M612 797.8h0M612.5 798.7h0M613 799.5h0M613.5 800.4h0M613.9 801.3h0M614.4 802.2h0M614.9 803.1h0M615.4 803.9h0M615.9 804.8h0M616.4 805.7h0M616.8 806.6h0M617.3 807.4h0M617.8 808.3h0M618.3 809.2h0M618.8 810.1h0M619.3 810.9h0M619.8 811.8h0M620.3 812.7h0M620.8 813.6h0M621.3 814.4h0M621.8 815.3h0M622.3 816.2h0M622.8 817h0M623.3 817.9h0M623.8 818.8h0M624.3 819.6h0M624.8 820.5h0M625.3 821.3h0M625.8 822.2h0M626.3 823.1h0M626.8 823.9h0M627.4 824.8h0M627.9 825.6h0M628.4 826.5h0M628.9 827.3h0M629.4 828.2h0M630 829h0M630.5 829.9h0M631 830.7h0M631.5 831.6h0M632.1 832.4h0M632.6 833.3h0M633.1 834.1h0M633.6 835h0M634.2 835.8h0M634.7 836.6h0M635.3 837.5h0M635.8 838.3h0M636.3 839.2h0M636.9 840h0M637.4 840.8h0M638 841.7h0M638.5 842.5h0M639.1 843.3h0M639.6 844.2h0M640.2 845h0M640.7 845.8h0M641.3 846.7h0M641.8 847.5h0M642.4 848.3h0M642.9 849.1h0M643.5 849.9h0M644 850.8h0M644.6 851.6h0M645.2 852.4h0M645.7 853.2h0M646.3 854h0M646.9 854.9h0M647.5 855.7h0M648 856.5h0M648.6 857.3h0M649.2 858.1h0M649.8 858.9h0M650.3 859.7h0M650.9 860.5h0M651.5 861.3h0M652.1 862.1h0M652.7 862.9h0M653.3 863.7h0M653.8 864.5h0M654.4 865.3h0M655 866.1h0M655.6 866.9h0M656.2 867.7h0M656.8 868.5h0M657.4 869.3h0M658 870.1h0M658.6 870.8h0M659.2 871.6h0M659.8 872.4h0M660.4 873.2h0M661.1 874h0M661.7 874.7h0M662.3 875.5h0M662.9 876.3h0M663.5 877.1h0M664.1 877.8h0M664.8 878.6h0M665.4 879.4h0M666 880.2h0M666.6 880.9h0M667.3 881.7h0M667.9 882.4h0M668.5 883.2h0M669.1 884h0M669.8 884.7h0M670.4 885.5h0M671.1 886.2h0M671.7 887h0M672.3 887.7h0M673 888.5h0M673.6 889.2h0M674.3 890h0M674.9 890.7h0M675.6 891.5h0M676.2 892.2h0M676.9 892.9h0M677.6 893.7h0M678.2 894.4h0M678.9 895.2h0M679.5 895.9h0M680.2 896.6h0M680.9 897.3h0M681.5 898.1h0M682.2 898.8h0M682.9 899.5h0M683.6 900.2h0M684.2 901h0M684.9 901.7h0M685.6 902.4h0M686.3 903.1h0M687 903.8h0M687.7 904.5h0M688.4 905.2h0M689 905.9h0M689.7 906.7h0M690.4 907.4h0M691.1 908.1h0M691.8 908.8h0M692.5 909.5h0M693.2 910.1h0M693.9 910.8h0M694.7 911.5h0M695.4 912.2h0M696.1 912.9h0M696.8 913.6h0M697.5 914.3h0M698.2 915h0M698.9 915.6h0M699.7 916.3h0M700.4 917h0M701.1 917.7h0M701.8 918.3h0M702.6 919h0M703.3 919.7h0M704 920.3h0M704.8 921h0M705.5 921.7h0M706.3 922.3h0M707 923h0M707.8 923.6h0M708.5 924.3h0M709.3 924.9h0M710 925.6h0M710.8 926.2h0M711.5 926.9h0M712.3 927.5h0M713 928.2h0M713.8 928.8h0M714.6 929.4h0M715.3 930.1h0M716.1 930.7h0M716.9 931.3h0M717.6 932h0M718.4 932.6h0M719.2 933.2h0M720 933.8h0M720.8 934.5h0M721.5 935.1h0M722.3 935.7h0M723.1 936.3h0M723.9 936.9h0M724.7 937.5h0M725.5 938.2h0M726.3 938.8h0M727.1 939.4h0M727.9 940h0M728.7 940.6h0M729.5 941.2h0M730.3 941.8h0M731.1 942.4h0M731.9 943h0M732.7 943.6h0M733.5 944.2h0M734.3 944.8h0M735.1 945.4h0M735.9 945.9h0M736.7 946.5h0M737.6 947.1h0M738.4 947.7h0M739.2 948.3h0M740 948.9h0M740.8 949.5h0M741.6 950h0M742.5 950.6h0M743.3 951.2h0M744.1 951.8h0M744.9 952.4h0M745.8 952.9h0M746.6 953.5h0M747.4 954.1h0M748.2 954.7h0M749.1 955.2h0M749.9 955.8h0M750.7 956.4h0M751.6 956.9h0M752.4 957.5h0M753.2 958.1h0M754.1 958.6h0M754.9 959.2h0M755.7 959.8h0M756.6 960.3h0M757.4 960.9h0M758.2 961.5h0M759.1 962h0M759.9 962.6h0M760.7 963.1h0M761.6 963.7h0M762.4 964.3h0M763.2 964.8h0M764.1 965.4h0M764.9 965.9h0M765.8 966.5h0M766.6 967.1h0M767.4 967.6h0M768.3 968.2h0M769.1 968.7h0M770 969.3h0M770.8 969.8h0M771.6 970.4h0M772.5 971h0M773.3 971.5h0M774.2 972.1h0M775 972.6h0M775.8 973.2h0M776.7 973.7h0M777.5 974.3h0M778.3 974.8h0M779.2 975.4h0M780 976h0M780.9 976.5h0M781.7 977.1h0M782.5 977.6h0M783.4 978.2h0M784.2 978.7h0M785 979.3h0M785.9 979.8h0M786.7 980.4h0M787.5 981h0M788.4 981.5h0M789.2 982.1h0M790 982.6h0M790.9 983.2h0M791.7 983.7h0M792.5 984.3h0M793.4 984.8h0M794.2 985.4h0M795 985.9h0M795.9 986.5h0M796.7 987h0M797.5 987.6h0M798.4 988.1h0M799.2 988.7h0M800 989.2h0M800.9 989.8h0M801.7 990.3h0M802.5 990.9h0M803.4 991.4h0M804.2 992h0M805 992.5h0M805.9 993.1h0M806.7 993.6h0M807.5 994.2h0M808.4 994.7h0M809.2 995.3h0M810 995.8h0M810.9 996.3h0M811.7 996.9h0M812.5 997.4h0M813.4 998h0M814.2 998.5h0M815.1 999h0M815.9 999.6h0M816.7 1000.1h0M817.6 1000.6h0M818.4 1001.2h0M819.3 1001.7h0M820.1 1002.2h0M820.9 1002.8h0M821.8 1003.3h0M822.6 1003.8h0M823.5 1004.4h0M824.3 1004.9h0M825.1 1005.4h0M826 1005.9h0M826.8 1006.4h0M827.7 1007h0M828.5 1007.5h0M829.4 1008h0M830.2 1008.5h0M831.1 1009h0M831.9 1009.5h0M832.8 1010.1h0M833.6 1010.6h0M834.5 1011.1h0M835.3 1011.6h0M836.2 1012.1h0M837 1012.6h0M837.9 1013.1h0M838.7 1013.6h0M839.6 1014.1h0M840.5 1014.6h0M841.3 1015.1h0M842.2 1015.6h0M843 1016.1h0M843.9 1016.6h0M844.8 1017h0M845.6 1017.5h0M846.5 1018h0M847.4 1018.5h0M848.2 1019h0M849.1 1019.5h0M850 1019.9h0M850.9 1020.4h0M851.7 1020.9h0M852.6 1021.4h0M853.5 1021.8h0M854.4 1022.3h0M855.2 1022.8h0M856.1 1023.2h0M857 1023.7h0M857.9 1024.1h0M858.8 1024.6h0M859.6 1025.1h0M860.5 1025.5h0M861.4 1026h0M862.3 1026.4h0M863.2 1026.9h0M864.1 1027.3h0M865 1027.8h0M865.8 1028.2h0M866.7 1028.6h0M867.6 1029.1h0M868.5 1029.5h0M869.4 1030h0M870.3 1030.4h0M871.2 1030.8h0M872.1 1031.3h0M873 1031.7h0M873.9 1032.1h0M874.8 1032.5h0M875.7 1033h0M876.6 1033.4h0M877.5 1033.8h0M878.4 1034.2h0M879.3 1034.6h0M880.2 1035.1h0M881.1 1035.5h0M882 1035.9h0M883 1036.3h0M883.9 1036.7h0M884.8 1037.1h0M885.7 1037.5h0M886.6 1037.9h0M887.5 1038.3h0M888.4 1038.7h0M889.3 1039.1h0M890.3 1039.5h0M891.2 1039.9h0M892.1 1040.3h0M893 1040.7h0M893.9 1041.1h0M894.9 1041.5h0M895.8 1041.9h0M896.7 1042.2h0M897.6 1042.6h0M898.5 1043h0M899.5 1043.4h0M900.4 1043.8h0M901.3 1044.2h0M902.2 1044.5h0M903.2 1044.9h0M904.1 1045.3h0M905 1045.7h0M906 1046h0M906.9 1046.4h0M907.8 1046.8h0M908.7 1047.1h0M909.7 1047.5h0M910.6 1047.9h0M911.5 1048.2h0M912.5 1048.6h0M913.4 1048.9h0M914.3 1049.3h0M915.3 1049.6h0M916.2 1050h0M917.2 1050.4h0M918.1 1050.7h0M919 1051.1h0M920 1051.4h0M920.9 1051.8h0M921.8 1052.1h0M922.8 1052.4h0M923.7 1052.8h0M924.7 1053.1h0M925.6 1053.5h0M926.6 1053.8h0M927.5 1054.1h0M928.4 1054.5h0M929.4 1054.8h0M930.3 1055.1h0M931.3 1055.5h0M932.2 1055.8h0M933.2 1056.1h0M934.1 1056.5h0M935.1 1056.8h0M936 1057.1h0M937 1057.4h0M937.9 1057.8h0M938.9 1058.1h0M939.8 1058.4h0M940.8 1058.7h0M941.7 1059h0M942.7 1059.4h0M943.6 1059.7h0M944.6 1060h0M945.5 1060.3h0M946.5 1060.6h0M947.4 1060.9h0M948.4 1061.2h0M949.4 1061.5h0M950.3 1061.8h0M951.3 1062.2h0M952.2 1062.5h0M953.2 1062.8h0M954.1 1063.1h0M955.1 1063.4h0M956 1063.7h0M957 1064h0M958 1064.3h0M958.9 1064.6h0M959.9 1064.8h0M960.8 1065.1h0M961.8 1065.4h0M962.8 1065.7h0M963.7 1066h0M964.7 1066.3h0M965.6 1066.6h0M966.6 1066.9h0M967.6 1067.2h0M968.5 1067.4h0M969.5 1067.7h0M970.5 1068h0M971.4 1068.3h0M972.4 1068.6h0M973.3 1068.8h0M974.3 1069.1h0M975.3 1069.4h0M976.2 1069.7h0M977.2 1070h0M978.2 1070.2h0M979.1 1070.5h0M980.1 1070.8h0M981 1071h0M982 1071.3h0M983 1071.6h0M983.9 1071.8h0M984.9 1072.1h0M985.9 1072.4h0M986.8 1072.6h0M987.8 1072.9h0M988.8 1073.2h0M989.7 1073.4h0M990.7 1073.7h0M991.7 1073.9h0M992.6 1074.2h0M993.6 1074.5h0M994.6 1074.7h0M995.5 1075h0M996.5 1075.2h0M997.5 1075.5h0M998.4 1075.7h0M999.4 1076h0M1000.4 1076.2h0M1001.4 1076.5h0M1002.3 1076.7h0M1003.3 1077h0M1004.3 1077.2h0M1005.2 1077.5h0M1006.2 1077.7h0M1007.2 1078h0M1008.1 1078.2h0M1009.1 1078.4h0M1010.1 1078.7h0M1011 1078.9h0M1012 1079.2h0M1013 1079.4h0M1014 1079.6h0M1014.9 1079.9h0M1015.9 1080.1h0M1016.9 1080.3h0M1017.8 1080.6h0M1018.8 1080.8h0M1019.8 1081h0M1020.8 1081.3h0M1021.7 1081.5h0M1022.7 1081.7h0M1023.7 1081.9h0M1024.7 1082.2h0M1025.6 1082.4h0M1026.6 1082.6h0M1027.6 1082.8h0M1028.6 1083.1h0M1029.5 1083.3h0M1030.5 1083.5h0M1031.5 1083.7h0M1032.4 1083.9h0M1033.4 1084.2h0M1034.4 1084.4h0M1035.4 1084.6h0M1036.3 1084.8h0M1037.3 1085h0M1038.3 1085.2h0M1039.3 1085.5h0M1040.2 1085.7h0M1041.2 1085.9h0M1042.2 1086.1h0M1043.2 1086.3h0M1044.2 1086.5h0M1045.1 1086.7h0M1046.1 1086.9h0M1047.1 1087.1h0M1048.1 1087.3h0M1049 1087.5h0M1050 1087.7h0M1051 1087.9h0M1052 1088.1h0M1053 1088.3h0M1053.9 1088.5h0M1054.9 1088.7h0M1055.9 1088.9h0M1056.9 1089.1h0M1057.8 1089.3h0M1058.8 1089.5h0M1059.8 1089.7h0M1060.8 1089.9h0M1061.8 1090.1h0M1062.7 1090.3h0M1063.7 1090.5h0M1064.7 1090.7h0M1065.7 1090.9h0M1066.7 1091.1h0M1067.6 1091.2h0M1068.6 1091.4h0M1069.6 1091.6h0M1070.6 1091.8h0M1071.6 1092h0M1072.5 1092.2h0M1073.5 1092.4h0M1074.5 1092.5h0M1075.5 1092.7h0M1076.5 1092.9h0M1077.4 1093.1h0M1078.4 1093.3h0M1079.4 1093.4h0M1080.4 1093.6h0M1081.4 1093.8h0M1082.4 1094h0M1083.3 1094.1h0M1084.3 1094.3h0M1085.3 1094.5h0M1086.3 1094.7h0M1087.3 1094.8h0M1088.3 1095h0M1089.2 1095.2h0M1090.2 1095.4h0M1091.2 1095.5h0M1092.2 1095.7h0M1093.2 1095.9h0M1094.2 1096h0M1095.1 1096.2h0M1096.1 1096.4h0M1097.1 1096.5h0M1098.1 1096.7h0M1099.1 1096.9h0M1100.1 1097h0M1101 1097.2h0M1102 1097.3h0M1103 1097.5h0M1104 1097.7h0M1105 1097.8h0M1106 1098h0M1107 1098.1h0M1107.9 1098.3h0M1108.9 1098.4h0M1109.9 1098.6h0M1110.9 1098.8h0M1111.9 1098.9h0M1112.9 1099.1h0M1113.9 1099.2h0M1114.8 1099.4h0M1115.8 1099.5h0M1116.8 1099.7h0M1117.8 1099.8h0M1118.8 1100h0M1119.8 1100.1h0M1120.8 1100.3h0M1121.8 1100.4h0M1122.7 1100.6h0M1123.7 1100.7h0M1124.7 1100.9h0M1125.7 1101h0M1126.7 1101.1h0M1127.7 1101.3h0M1128.7 1101.4h0M1129.7 1101.6h0M1130.6 1101.7h0M1131.6 1101.9h0M1132.6 1102h0M1133.6 1102.1h0M1134.6 1102.3h0M1135.6 1102.4h0M1136.6 1102.5h0M1137.6 1102.7h0M1138.6 1102.8h0M1139.5 1103h0M1140.5 1103.1h0M1141.5 1103.2h0M1142.5 1103.4h0M1143.5 1103.5h0M1144.5 1103.6h0M1145.5 1103.8h0M1146.5 1103.9h0M1147.5 1104h0M1148.5 1104.1h0M1149.4 1104.3h0M1150.4 1104.4h0M1151.4 1104.5h0M1152.4 1104.7h0M1153.4 1104.8h0M1154.4 1104.9h0M1155.4 1105h0M1156.4 1105.2h0M1157.4 1105.3h0M1158.4 1105.4h0M1159.4 1105.5h0M1160.3 1105.7h0M1161.3 1105.8h0M1162.3 1105.9h0M1163.3 1106h0M1164.3 1106.1h0M1165.3 1106.3h0M1166.3 1106.4h0M1167.3 1106.5h0M1168.3 1106.6h0M1169.3 1106.7h0M1170.3 1106.9h0M1171.2 1107h0M1172.2 1107.1h0M1173.2 1107.2h0M1174.2 1107.3h0M1175.2 1107.4h0M1176.2 1107.6h0M1177.2 1107.7h0M1178.2 1107.8h0M1179.2 1107.9h0M1180.2 1108h0M1181.2 1108.1h0M1182.2 1108.2h0M1183.2 1108.3h0M1184.2 1108.5h0M1185.1 1108.6h0M1186.1 1108.7h0M1187.1 1108.8h0M1188.1 1108.9h0M1189.1 1109h0M1190.1 1109.1h0M1191.1 1109.2h0M1192.1 1109.3h0M1193.1 1109.4h0M1194.1 1109.5h0M1195.1 1109.6h0M1196.1 1109.7h0M1197.1 1109.8h0M1198.1 1109.9h0M1199.1 1110h0M1200.1 1110.1h0M1201 1110.2h0M1202 1110.3h0M1203 1110.4h0M1204 1110.5h0M1205 1110.6h0M1206 1110.7h0M1207 1110.8h0M1208 1110.9h0M1209 1111h0M1210 1111.1h0M1211 1111.2h0M1212 1111.3h0M1213 1111.4h0M1214 1111.5h0M1215 1111.6h0M1216 1111.7h0M1217 1111.8h0M1218 1111.9h0M1218.9 1112h0M1219.9 1112.1h0M1220.9 1112.2h0M1221.9 1112.3h0M1222.9 1112.4h0M1223.9 1112.5h0M1224.9 1112.6h0M1225.9 1112.6h0M1226.9 1112.7h0M1227.9 1112.8h0M1228.9 1112.9h0M1229.9 1113h0M1230.9 1113.1h0M1231.9 1113.2h0M1232.9 1113.3h0M1233.9 1113.4h0M1234.9 1113.4h0M1235.9 1113.5h0M1236.9 1113.6h0M1237.9 1113.7h0M1238.9 1113.8h0M1239.9 1113.9h0M1240.9 1114h0M1241.8 1114h0M1242.8 1114.1h0M1243.8 1114.2h0M1244.8 1114.3h0M1245.8 1114.4h0M1246.8 1114.5h0M1247.8 1114.6h0M1248.8 1114.6h0M1249.8 1114.7h0M1250.8 1114.8h0M1251.8 1114.9h0M1252.8 1115h0M1253.8 1115h0M1254.8 1115.1h0M1255.8 1115.2h0M1256.8 1115.3h0M1257.8 1115.4h0M1258.8 1115.4h0M1259.8 1115.5h0M1260.8 1115.6h0M1261.8 1115.7h0M1262.8 1115.8h0M1263.8 1115.8h0M1264.8 1115.9h0M1265.8 1116h0M1266.8 1116.1h0M1267.8 1116.1h0M1268.8 1116.2h0M1269.7 1116.3h0M1270.7 1116.4h0M1271.7 1116.4h0M1272.7 1116.5h0M1273.7 1116.6h0M1274.7 1116.7h0M1275.7 1116.7h0M1276.7 1116.8h0M1277.7 1116.9h0M1278.7 1117h0M1279.7 1117h0M1280.7 1117.1h0M1281.7 1117.2h0M1282.7 1117.2h0M1283.7 1117.3h0M1284.7 1117.4h0M1285.7 1117.5h0M1286.7 1117.5h0M1287.7 1117.6h0M1288.7 1117.7h0M1289.7 1117.7h0M1290.7 1117.8h0M1291.7 1117.9h0M1292.7 1118h0M1293.7 1118h0M1294.7 1118.1h0M1295.7 1118.2h0M1296.7 1118.2h0M1297.7 1118.3h0M1298.7 1118.4h0M1299.7 1118.4h0M1300.7 1118.5h0M1301.6 1118.6h0M1302.6 1118.6h0M1303.6 1118.7h0M1304.6 1118.8h0M1305.6 1118.8h0M1306.6 1118.9h0M1307.6 1119h0M1308.6 1119h0M1309.6 1119.1h0M1310.6 1119.2h0M1311.6 1119.2h0M1312.6 1119.3h0M1313.6 1119.3h0M1314.6 1119.4h0M1315.6 1119.5h0M1316.6 1119.5h0M1317.6 1119.6h0M1318.6 1119.7h0M1319.6 1119.7h0M1320.6 1119.8h0M1321.6 1119.9h0M1322.6 1119.9h0M1323.6 1120h0M1324.6 1120h0M1325.6 1120.1h0M1326.6 1120.2h0M1327.6 1120.2h0M1328.6 1120.3h0M1329.6 1120.3h0M1330.6 1120.4h0M1331.6 1120.5h0M1332.6 1120.5h0M1333.6 1120.6h0M1334.6 1120.6h0M1335.6 1120.7h0M1336.6 1120.8h0M1337.6 1120.8h0M1338.6 1120.9h0M1339.6 1120.9h0M1340.5 1121h0M1341.5 1121h0M1342.5 1121.1h0M1343.5 1121.2h0M1344.5 1121.2h0M1345.5 1121.3h0M1346.5 1121.3h0M1347.5 1121.4h0M1348.5 1121.4h0M1349.5 1121.5h0M1350.5 1121.6h0M1351.5 1121.6h0M1352.5 1121.7h0M1353.5 1121.7h0M1354.5 1121.8h0M1355.5 1121.8h0M1356.5 1121.9h0M1357.5 1121.9h0M1358.5 1122h0M1359.5 1122h0M1360.5 1122.1h0M1361.5 1122.2h0M1362.5 1122.2h0M1363.5 1122.3h0M1364.5 1122.3h0M1365.5 1122.4h0M1366.5 1122.4h0M1367.5 1122.5h0M1368.5 1122.5h0M1369.5 1122.6h0M1370.5 1122.6h0M1371.5 1122.7h0M1372.5 1122.7h0M1373.5 1122.8h0M1374.5 1122.8h0M1375.5 1122.9h0M1376.5 1122.9h0M1377.5 1123h0M1378.5 1123h0M1379.5 1123.1h0M1380.5 1123.1h0M1381.5 1123.2h0M1382.5 1123.2h0M1383.5 1123.3h0M1384.5 1123.3h0M1385.5 1123.4h0M1386.5 1123.4h0M1387.4 1123.5h0M1388.4 1123.5h0M1389.4 1123.6h0M1390.4 1123.6h0M1391.4 1123.7h0M1392.4 1123.7h0M1393.4 1123.8h0M1394.4 1123.8h0M1395.4 1123.9h0M1396.4 1123.9h0M1397.4 1124h0M1398.4 1124h0M1399.4 1124h0M1400.4 1124.1h0M1401.4 1124.1h0M1402.4 1124.2h0M1403.4 1124.2h0M1404.4 1124.3h0M1405.4 1124.3h0M1406.4 1124.4h0M1407.4 1124.4h0M1408.4 1124.5h0M1409.4 1124.5h0M1410.4 1124.5h0M1411.4 1124.6h0M1412.4 1124.6h0M1413.4 1124.7h0M1414.4 1124.7h0M1415.4 1124.8h0M1416.4 1124.8h0M1417.4 1124.9h0M1418.4 1124.9h0M1419.4 1124.9h0M1420.4 1125h0M1421.4 1125h0M1422.4 1125.1h0M1423.4 1125.1h0M1424.4 1125.2h0M1425.4 1125.2h0M1426.4 1125.2h0M1427.4 1125.3h0M1428.4 1125.3h0M1429.4 1125.4h0M1430.4 1125.4h0M1431.4 1125.5h0M1432.4 1125.5h0M1433.4 1125.5h0M1434.4 1125.6h0M1435.4 1125.6h0M1436.4 1125.7h0M1437.4 1125.7h0M1438.4 1125.7h0M1439.4 1125.8h0M1440.4 1125.8h0M1441.4 1125.9h0M1442.4 1125.9h0M1443.4 1126h0M1444.4 1126h0M1445.4 1126h0M1446.4 1126.1h0M1447.3 1126.1h0M1448.3 1126.2h0M1449.3 1126.2h0M1450.3 1126.2h0M1451.3 1126.3h0M1452.3 1126.3h0M1453.3 1126.4h0M1454.3 1126.4h0M1455.3 1126.4h0M1456.3 1126.5h0M1457.3 1126.5h0M1458.3 1126.5h0M1459.3 1126.6h0M1460.3 1126.6h0M1461.3 1126.7h0M1462.3 1126.7h0M1463.3 1126.7h0M1464.3 1126.8h0M1465.3 1126.8h0M1466.3 1126.9h0M1467.3 1126.9h0M1468.3 1126.9h0M1469.3 1127h0M1470.3 1127h0M1471.3 1127h0M1472.3 1127.1h0M1473.3 1127.1h0M1474.3 1127.2h0M1475.3 1127.2h0M1476.3 1127.2h0M1477.3 1127.3h0M1478.3 1127.3h0M1479.3 1127.3h0M1480.3 1127.4h0M1481.3 1127.4h0M1482.3 1127.5h0M1483.3 1127.5h0M1484.3 1127.5h0M1485.3 1127.6h0M1486.3 1127.6h0M1487.3 1127.6h0M1488.3 1127.7h0M1489.3 1127.7h0M1490.3 1127.7h0M1491.3 1127.8h0M1492.3 1127.8h0M1493.3 1127.9h0M1494.3 1127.9h0M1495.3 1127.9h0M1496.3 1128h0M1497.3 1128h0M1498.3 1128h0M1499.3 1128.1h0M1500.3 1128.1h0M1501.3 1128.1h0M1502.3 1128.2h0M1503.3 1128.2h0M1504.3 1128.2h0M1505.3 1128.3h0M1506.3 1128.3h0M1507.3 1128.3h0M1508.3 1128.4h0M1509.3 1128.4h0M1510.3 1128.5h0M1511.3 1128.5h0M1512.3 1128.5h0M1513.3 1128.6h0M1514.3 1128.6h0M1515.3 1128.6h0M1516.3 1128.7h0M1517.3 1128.7h0M1518.3 1128.7h0M1519.3 1128.8h0M1520.3 1128.8h0M1521.3 1128.8h0M1522.3 1128.9h0M1523.3 1128.9h0M1524.3 1128.9h0M1525.3 1129h0M1526.3 1129h0M1527.3 1129h0M1528.3 1129.1h0M1529.2 1129.1h0M1530.2 1129.1h0M1531.2 1129.2h0M1532.2 1129.2h0M1533.2 1129.2h0M1534.2 1129.3h0M1535.2 1129.3h0M1536.2 1129.3h0M1537.2 1129.4h0M1538.2 1129.4h0M1539.2 1129.5h0M1540.2 1129.5h0M1541.2 1129.5h0M1542.2 1129.6h0M1543.2 1129.6h0M1544.2 1129.6h0M1545.2 1129.7h0M1546.2 1129.7h0M1547.2 1129.7h0M1548.2 1129.8h0M1549.2 1129.8h0M1550.2 1129.8h0M1551.2 1129.9h0M1552.2 1129.9h0M1553.2 1129.9h0M1554.2 1130h0M1555.2 1130h0M1556.2 1130h0M1557.2 1130.1h0M1558.2 1130.1h0M1559.2 1130.1h0M1560.2 1130.2h0M1561.2 1130.2h0M1562.2 1130.2h0M1563.2 1130.3h0M1564.2 1130.3h0M1565.2 1130.3h0M1566.2 1130.4h0M1567.2 1130.4h0M1568.2 1130.4h0M1569.2 1130.5h0M1570.2 1130.5h0M1571.2 1130.5h0M1572.2 1130.6h0M1573.2 1130.6h0M1574.2 1130.6h0M1575.2 1130.7h0M1576.2 1130.7h0M1577.2 1130.7h0M1578.2 1130.8h0M1579.2 1130.8h0M1580.2 1130.8h0M1581.2 1130.9h0M1582.2 1130.9h0M1583.2 1130.9h0M1584.2 1131h0M1585.2 1131h0M1586.2 1131h0M1587.2 1131.1h0M1588.2 1131.1h0M1589.2 1131.1h0M1590.2 1131.2h0M1591.2 1131.2h0M1592.2 1131.2h0M1593.2 1131.3h0M1594.2 1131.3h0M1595.2 1131.3h0M1596.2 1131.4h0M1597.2 1131.4h0M1598.2 1131.5h0M1599.2 1131.5h0M1600.2 1131.5h0M1601.2 1131.6h0M1602.2 1131.6h0M1603.2 1131.6h0M1604.2 1131.7h0M1605.2 1131.7h0M1606.2 1131.7h0M1607.2 1131.8h0M1608.2 1131.8h0M1609.2 1131.8h0M1610.2 1131.9h0M1611.2 1131.9h0M1612.2 1131.9h0M1613.2 1132h0M1614.2 1132h0M1615.2 1132h0M1616.2 1132.1h0M1617.2 1132.1h0M1618.2 1132.2h0M1619.2 1132.2h0M1620.2 1132.2h0M1621.2 1132.3h0M1622.2 1132.3h0M1623.2 1132.3h0M1624.2 1132.4h0M1625.2 1132.4h0M1626.1 1132.4h0M1627.1 1132.5h0M1628.1 1132.5h0M1629.1 1132.5h0M1630.1 1132.6h0M1631.1 1132.6h0M1632.1 1132.7h0M1633.1 1132.7h0M1634.1 1132.7h0M1635.1 1132.8h0M1636.1 1132.8h0M1637.1 1132.8h0M1638.1 1132.9h0M1639.1 1132.9h0M1640.1 1132.9h0M1641.1 1133h0M1642.1 1133h0M1643.1 1133.1h0M1644.1 1133.1h0M1645.1 1133.1h0M1646.1 1133.2h0M1647.1 1133.2h0M1648.1 1133.2h0M1649.1 1133.3h0M1650.1 1133.3h0M1651.1 1133.4h0M1652.1 1133.4h0M1653.1 1133.4h0M1654.1 1133.5h0M1655.1 1133.5h0M1656.1 1133.5h0M1657.1 1133.6h0M1658.1 1133.6h0M1659.1 1133.7h0M1660.1 1133.7h0M1661.1 1133.7h0M1662.1 1133.8h0M1663.1 1133.8h0M1664.1 1133.9h0M1665.1 1133.9h0M1666.1 1133.9h0M1667.1 1134h0M1668.1 1134h0M1669.1 1134.1h0M1670.1 1134.1h0M1671.1 1134.1h0M1672.1 1134.2h0M1673.1 1134.2h0M1674.1 1134.3h0M1675.1 1134.3h0M1676.1 1134.3h0M1677.1 1134.4h0M1678.1 1134.4h0M1679.1 1134.5h0M1680.1 1134.5h0M1681.1 1134.5h0M1682.1 1134.6h0M1683.1 1134.6h0M1684.1 1134.7h0M1685.1 1134.7h0M1686.1 1134.7h0M1687.1 1134.8h0M1688.1 1134.8h0M1689.1 1134.9h0M1690.1 1134.9h0M1691.1 1135h0M1692.1 1135h0M1693.1 1135h0M1694.1 1135.1h0M1695.1 1135.1h0M1696.1 1135.2h0M1697.1 1135.2h0M1698.1 1135.3h0M1699.1 1135.3h0M1700.1 1135.3h0M1701.1 1135.4h0M1702.1 1135.4h0M1703.1 1135.5h0M1704.1 1135.5h0M1705.1 1135.6h0M1706.1 1135.6h0M1707.1 1135.6h0M1708.1 1135.7h0M1709.1 1135.7h0M1710 1135.8h0M1711 1135.8h0M1712 1135.9h0M1713 1135.9h0M1714 1136h0M1715 1136h0M1716 1136.1h0M1717 1136.1h0M1718 1136.1h0M1719 1136.2h0M1720 1136.2h0M1721 1136.3h0M1722 1136.3h0M1723 1136.4h0M1724 1136.4h0M1725 1136.5h0M1726 1136.5h0M1727 1136.6h0M1728 1136.6h0M1729 1136.7h0M1730 1136.7h0M1731 1136.8h0M1732 1136.8h0M1733 1136.9h0M1734 1136.9h0M1735 1137h0M1736 1137h0M1737 1137.1h0M1738 1137.1h0M1739 1137.2h0M1740 1137.2h0M1741 1137.3h0M1742 1137.3h0M1743 1137.4h0M1744 1137.4h0M1745 1137.5h0" stroke="#000000"/>
<path d="M365.1 758.7h0M374.4 654.2h0M374.4 653.1h0M374.4 652h0M374.4 651h0M374.4 649.9h0M374.4 648.8h0M374.4 647.8h0M374.5 646.7h0M374.5 645.7h0M374.5 644.6h0M374.5 643.6h0M374.6 642.6h0M374.6 641.5h0M374.6 640.5h0M374.7 639.5h0M374.7 638.4h0M374.8 637.4h0M374.8 636.4h0M374.9 635.4h0M374.9 634.4h0M375 633.4h0M375 632.4h0M375.1 631.4h0M375.2 630.4h0M375.2 629.4h0M375.3 628.4h0M375.4 627.4h0M375.4 626.4h0M375.5 625.4h0M375.6 624.4h0M375.7 623.4h0M375.7 622.4h0M375.8 621.5h0M375.9 620.5h0M376 619.5h0M376.1 618.5h0M376.2 617.6h0M376.3 616.6h0M376.4 615.6h0M376.5 614.7h0M376.6 613.7h0M376.7 612.7h0M376.8 611.8h0M376.9 610.8h0M377 609.8h0M377.1 608.9h0M377.2 607.9h0M377.3 606.9h0M377.4 606h0M377.6 605h0M377.7 604.1h0M377.8 603.1h0M377.9 602.1h0M378 601.2h0M378.2 600.2h0M378.3 599.3h0M378.4 598.3h0M378.6 597.4h0M378.7 596.4h0M378.8 595.4h0M378.9 594.5h0M379.1 593.5h0M379.2 592.6h0M379.4 591.6h0M379.5 590.6h0M379.6 589.7h0M379.8 588.7h0M379.9 587.7h0M380.1 586.8h0M380.2 585.8h0M380.3 584.8h0M380.5 583.9h0M380.6 582.9h0M380.8 581.9h0M380.9 580.9h0M381.1 580h0M381.2 579h0M381.4 578h0M381.5 577h0M381.7 576h0M381.8 575.1h0M382 574.1h0M382.2 573.1h0M382.3 572.1h0M382.5 571.1h0M382.6 570.1h0M382.8 569.1h0M382.9 568.1h0M383.1 567.1h0M383.3 566.1h0M383.4 565.1h0M383.6 564h0M383.8 563h0M383.9 562h0M384.1 561h0M384.3 560h0M384.4 559h0M384.6 557.9h0M384.8 556.9h0M385 555.9h0M385.2 554.9h0M385.4 553.9h0M385.6 552.8h0M385.8 551.8h0M386 550.8h0M386.2 549.8h0M386.4 548.8h0M386.6 547.8h0M386.9 546.7h0M387.1 545.7h0M387.3 544.7h0M387.6 543.7h0M387.8 542.7h0M388.1 541.7h0M388.4 540.7h0M388.6 539.7h0M388.9 538.7h0M389.2 537.7h0M389.5 536.7h0M389.8 535.7h0M390.1 534.7h0M390.4 533.7h0M390.8 532.7h0M391.1 531.8h0M391.5 530.8h0M391.8 529.8h0M392.2 528.9h0M392.6 527.9h0M393 526.9h0M393.4 526h0M393.8 525.1h0M394.2 524.1h0M394.6 523.2h0M395.1 522.3h0M395.5 521.3h0M396 520.4h0M396.5 519.5h0M397 518.6h0M397.5 517.7h0M398 516.8h0M398.5 515.9h0M399.1 515.1h0M399.6 514.2h0M400.2 513.4h0M400.8 512.6h0M401.4 511.8h0M402 511h0M402.6 510.2h0M403.2 509.4h0M403.9 508.7h0M404.5 508h0M405.2 507.3h0M405.9 506.7h0M406.5 506h0M407.3 505.4h0M408 504.9h0M408.7 504.3h0M409.4 503.8h0M410.2 503.3h0M411 502.9h0M411.7 502.5h0M412.5 502.1h0M413.3 501.7h0M414.1 501.4h0M415 501.2h0M415.8 501h0M416.7 500.8h0M417.5 500.6h0M418.4 500.5h0M419.2 500.4h0M420.1 500.4h0M421 500.4h0M421.8 500.4h0M422.7 500.5h0M423.5 500.6h0M424.4 500.7h0M425.2 500.9h0M426.1 501.1h0M426.9 501.3h0M427.7 501.6h0M428.5 501.9h0M429.3 502.2h0M430.1 502.5h0M430.9 502.9h0M431.7 503.3h0M432.5 503.8h0M433.3 504.2h0M434 504.7h0M434.8 505.2h0M435.5 505.7h0M436.3 506.3h0M437 506.9h0M437.8 507.5h0M438.5 508.1h0M439.2 508.7h0M439.9 509.4h0M440.7 510h0M441.4 510.7h0M442.1 511.4h0M442.8 512.2h0M443.5 512.9h0M444.2 513.7h0M444.8 514.4h0M445.5 515.2h0M446.2 516h0M446.9 516.8h0M447.5 517.6h0M448.2 518.5h0M448.9 519.3h0M449.5 520.2h0M450.2 521h0M450.8 521.9h0M451.5 522.8h0M452.1 523.6h0M452.8 524.5h0M453.4 525.4h0M454 526.3h0M454.7 527.2h0M455.3 528.1h0M455.9 529h0M456.6 529.9h0M457.2 530.8h0M457.8 531.7h0M458.4 532.6h0M459 533.5h0M459.7 534.4h0M460.3 535.3h0M460.9 536.2h0M461.5 537.1h0M462.1 538h0M462.7 538.9h0M463.3 539.8h0M463.9 540.6h0M464.6 541.5h0M465.2 542.4h0M465.8 543.3h0M466.4 544.2h0M467 545.1h0M467.6 545.9h0M468.2 546.8h0M468.8 547.7h0M469.3 548.6h0M469.9 549.4h0M470.5 550.3h0M471.1 551.2h0M471.7 552.1h0M472.3 552.9h0M472.9 553.8h0M473.5 554.7h0M474 555.5h0M474.6 556.4h0M475.2 557.3h0M475.8 558.1h0M476.4 559h0M476.9 559.9h0M477.5 560.7h0M478.1 561.6h0M478.7 562.4h0M479.2 563.3h0M479.8 564.1h0M480.4 565h0M480.9 565.9h0M481.5 566.7h0M482.1 567.6h0M482.6 568.4h0M483.2 569.3h0M483.7 570.1h0M484.3 571h0M484.8 571.8h0M485.4 572.7h0M486 573.5h0M486.5 574.4h0M487.1 575.2h0M487.6 576h0M488.2 576.9h0M488.7 577.7h0M489.3 578.6h0M489.8 579.4h0M490.3 580.3h0M490.9 581.1h0M491.4 582h0M492 582.8h0M492.5 583.6h0M493.1 584.5h0M493.6 585.3h0M494.1 586.2h0M494.7 587h0M495.2 587.8h0M495.7 588.7h0M496.3 589.5h0M496.8 590.3h0M497.3 591.2h0M497.8 592h0M498.4 592.8h0M498.9 593.7h0M499.4 594.5h0M500 595.4h0M500.5 596.2h0M501 597h0M501.5 597.9h0M502 598.7h0M502.6 599.5h0M503.1 600.4h0M503.6 601.2h0M504.1 602h0M504.6 602.9h0M505.1 603.7h0M505.6 604.5h0M506.2 605.4h0M506.7 606.2h0M507.2 607h0M507.7 607.9h0M508.2 608.7h0M508.7 609.5h0M509.2 610.4h0M509.7 611.2h0M510.2 612h0M510.7 612.9h0M511.2 613.7h0M511.7 614.5h0M512.2 615.4h0M512.7 616.2h0M513.2 617h0M513.7 617.9h0M514.2 618.7h0M514.7 619.5h0M515.2 620.4h0M515.7 621.2h0M516.2 622.1h0M516.7 622.9h0M517.2 623.7h0M517.7 624.6h0M518.2 625.4h0M518.7 626.2h0M519.2 627.1h0M519.6 627.9h0M520.1 628.8h0M520.6 629.6h0M521.1 630.4h0M521.6 631.3h0M522.1 632.1h0M522.6 633h0M523 633.8h0M523.5 634.6h0M524 635.5h0M524.5 636.3h0M525 637.2h0M525.5 638h0M525.9 638.9h0M526.4 639.7h0M526.9 640.6h0M527.4 641.4h0M527.8 642.3h0M528.3 643.1h0M528.8 644h0M529.3 644.8h0M529.8 645.7h0M530.2 646.5h0M530.7 647.4h0M531.2 648.2h0M531.6 649.1h0M532.1 649.9h0M532.6 650.8h0M533.1 651.7h0M533.5 652.5h0M534 653.4h0M534.5 654.2h0M534.9 655.1h0M535.4 656h0M535.9 656.8h0M536.3 657.7h0M536.8 658.6h0M537.3 659.4h0M537.7 660.3h0M538.2 661.2h0M538.7 662h0M539.1 662.9h0M539.6 663.8h0M540.1 664.6h0M540.5 665.5h0M541 666.4h0M541.4 667.3h0M541.9 668.1h0M542.4 669h0M542.8 669.9h0M543.3 670.8h0M543.8 671.6h0M544.2 672.5h0M544.7 673.4h0M545.1 674.3h0M545.6 675.1h0M546.1 676h0M546.5 676.9h0M547 677.8h0M547.4 678.7h0M547.9 679.6h0M548.3 680.4h0M548.8 681.3h0M549.3 682.2h0M549.7 683.1h0M550.2 684h0M550.6 684.9h0M551.1 685.7h0M551.6 686.6h0M552 687.5h0M552.5 688.4h0M552.9 689.3h0M553.4 690.2h0M553.8 691.1h0M554.3 692h0M554.8 692.8h0M555.2 693.7h0M555.7 694.6h0M556.1 695.5h0M556.6 696.4h0M557 697.3h0M557.5 698.2h0M558 699.1h0M558.4 700h0M558.9 700.9h0M559.3 701.8h0M559.8 702.7h0M560.3 703.5h0M560.7 704.4h0M561.2 705.3h0M561.6 706.2h0M562.1 707.1h0M562.6 708h0M563 708.9h0M563.5 709.8h0M563.9 710.7h0M564.4 711.6h0M564.9 712.5h0M565.3 713.4h0M565.8 714.3h0M566.2 715.2h0M566.7 716.1h0M567.2 717h0M567.6 717.9h0M568.1 718.7h0M568.5 719.6h0M569 720.5h0M569.5 721.4h0M569.9 722.3h0M570.4 723.2h0M570.9 724.1h0M571.3 725h0M571.8 725.9h0M572.3 726.8h0M572.7 727.7h0M573.2 728.6h0M573.7 729.5h0M574.1 730.4h0M574.6 731.3h0M575.1 732.2h0M575.5 733.1h0M576 733.9h0M576.5 734.8h0M577 735.7h0M577.4 736.6h0M577.9 737.5h0M578.4 738.4h0M578.8 739.3h0M579.3 740.2h0M579.8 741.1h0M580.3 742h0M580.8 742.9h0M581.2 743.8h0M581.7 744.6h0M582.2 745.5h0M582.7 746.4h0M583.1 747.3h0M583.6 748.2h0M584.1 749.1h0M584.6 750h0M585.1 750.9h0M585.6 751.7h0M586 752.6h0M586.5 753.5h0M587 754.4h0M587.5 755.3h0M588 756.2h0M588.5 757.1h0M589 757.9h0M589.5 758.8h0M589.9 759.7h0M590.4 760.6h0M590.9 761.5h0M591.4 762.3h0M591.9 763.2h0M592.4 764.1h0M592.9 765h0M593.4 765.9h0M593.9 766.7h0M594.4 767.6h0M594.9 768.5h0M595.4 769.4h0M595.9 770.2h0M596.4 771.1h0M596.9 772h0M597.4 772.9h0M597.9 773.7h0M598.4 774.6h0M598.9 775.5h0M599.5 776.3h0M600 777.2h0M600.5 778.1h0M601 778.9h0M601.5 779.8h0M602 780.7h0M602.5 781.5h0M603.1 782.4h0M603.6 783.2h0M604.1 784.1h0M604.6 785h0M605.1 785.8h0M605.7 786.7h0M606.2 787.5h0M606.7 788.4h0M607.2 789.3h0M607.8 790.1h0M608.3 791h0M608.8 791.8h0M609.4 792.7h0M609.9 793.5h0M610.4 794.4h0M611 795.2h0M611.5 796.1h0M612.1 796.9h0M612.6 797.7h0M613.1 798.6h0M613.7 799.4h0M614.2 800.3h0M614.8 801.1h0M615.3 802h0M615.9 802.8h0M616.4 803.6h0M617 804.5h0M617.5 805.3h0M618.1 806.1h0M618.6 807h0M619.2 807.8h0M619.8 808.6h0M620.3 809.5h0M620.9 810.3h0M621.4 811.1h0M622 811.9h0M622.6 812.8h0M623.1 813.6h0M623.7 814.4h0M624.3 815.2h0M624.8 816h0M625.4 816.9h0M626 817.7h0M626.6 818.5h0M627.1 819.3h0M627.7 820.1h0M628.3 820.9h0M628.9 821.8h0M629.5 822.6h0M630 823.4h0M630.6 824.2h0M631.2 825h0M631.8 825.8h0M632.4 826.6h0M633 827.4h0M633.6 828.2h0M634.2 829h0M634.7 829.8h0M635.3 830.6h0M635.9 831.4h0M636.5 832.2h0M637.1 833h0M637.7 833.8h0M638.3 834.6h0M638.9 835.4h0M639.5 836.2h0M640.1 837h0M640.7 837.8h0M641.4 838.6h0M642 839.4h0M642.6 840.2h0M643.2 840.9h0M643.8 841.7h0M644.4 842.5h0M645 843.3h0M645.6 844.1h0M646.2 844.9h0M646.9 845.6h0M647.5 846.4h0M648.1 847.2h0M648.7 848h0M649.4 848.8h0M650 849.5h0M650.6 850.3h0M651.2 851.1h0M651.9 851.8h0M652.5 852.6h0M653.1 853.4h0M653.7 854.2h0M654.4 854.9h0M655 855.7h0M655.6 856.5h0M656.3 857.2h0M656.9 858h0M657.6 858.7h0M658.2 859.5h0M658.8 860.3h0M659.5 861h0M660.1 861.8h0M660.8 862.5h0M661.4 863.3h0M662.1 864h0M662.7 864.8h0M663.4 865.5h0M664 866.3h0M664.7 867.1h0M665.3 867.8h0M666 868.5h0M666.6 869.3h0M667.3 870h0M667.9 870.8h0M668.6 871.5h0M669.2 872.3h0M669.9 873h0M670.6 873.8h0M671.2 874.5h0M671.9 875.2h0M672.6 876h0M673.2 876.7h0M673.9 877.4h0M674.6 878.2h0M675.2 878.9h0M675.9 879.6h0M676.6 880.4h0M677.3 881.1h0M677.9 881.8h0M678.6 882.6h0M679.3 883.3h0M680 884h0M680.6 884.7h0M681.3 885.5h0M682 886.2h0M682.7 886.9h0M683.4 887.6h0M684 888.3h0M684.7 889.1h0M685.4 889.8h0M686.1 890.5h0M686.8 891.2h0M687.5 891.9h0M688.2 892.6h0M688.9 893.3h0M689.6 894h0M690.3 894.8h0M690.9 895.5h0M691.6 896.2h0M692.3 896.9h0M693 897.6h0M693.7 898.3h0M694.4 899h0M695.1 899.7h0M695.8 900.4h0M696.5 901.1h0M697.3 901.8h0M698 902.5h0M698.7 903.2h0M699.4 903.9h0M700.1 904.6h0M700.8 905.3h0M701.5 906h0M702.2 906.6h0" stroke="#a00000" stroke-width="24.5"/>
<path d="M702.9 907.3h0M703.6 908h0M704.4 908.7h0M705.1 909.4h0M705.8 910.1h0M706.5 910.8h0M707.2 911.5h0M708 912.1h0M708.7 912.8h0M709.4 913.5h0M710.1 914.2h0M710.8 914.9h0M711.6 915.5h0M712.3 916.2h0M713 916.9h0M713.8 917.6h0M714.5 918.2h0M715.2 918.9h0M716 919.6h0M716.7 920.2h0M717.4 920.9h0" stroke="#a00000"/>
<path d="M718.2 921.6h0M718.9 922.2h0M719.6 922.9h0M720.4 923.6h0M721.1 924.2h0M721.8 924.9h0M722.6 925.6h0M723.3 926.2h0" stroke="#a00000" stroke-width="23.5"/>
<path d="M724.1 926.9h0M724.8 927.5h0M725.6 928.2h0M726.3 928.8h0M727.1 929.5h0M727.8 930.2h0M728.5 930.8h0M729.3 931.5h0" stroke="#a00000" stroke-width="23"/>
<path d="M730 932.1h0M730.8 932.8h0M731.6 933.4h0M732.3 934.1h0M733.1 934.7h0M733.8 935.3h0M734.6 936h0M735.3 936.6h0" stroke="#a00000" stroke-width="22.5"/>
<path d="M736.1 937.3h0M736.8 937.9h0M737.6 938.5h0M738.4 939.2h0M739.1 939.8h0M739.9 940.5h0M740.7 941.1h0M741.4 941.7h0" stroke="#a00000" stroke-width="22"/>
<path d="M742.2 942.4h0M743 943h0M743.7 943.6h0M744.5 944.3h0M745.3 944.9h0M746 945.5h0M746.8 946.1h0M747.6 946.8h0M748.4 947.4h0M749.1 948h0" stroke="#a00000" stroke-width="21.5"/>
<path d="M749.9 948.6h0M750.7 949.3h0M751.5 949.9h0M752.2 950.5h0M753 951.1h0M753.8 951.7h0M754.6 952.3h0M755.4 953h0M756.1 953.6h0M756.9 954.2h0" stroke="#a00000" stroke-width="21"/>
<path d="M757.7 954.8h0M758.5 955.4h0M759.3 956h0M760.1 956.6h0M760.8 957.2h0M761.6 957.8h0M762.4 958.4h0M763.2 959.1h0M764 959.7h0M764.8 960.3h0M765.6 960.9h0" stroke="#a00000" stroke-width="20.5"/>
<path d="M766.4 961.5h0M767.2 962.1h0M768 962.7h0M768.8 963.3h0M769.6 963.8h0M770.4 964.4h0M771.2 965h0M772 965.6h0M772.8 966.2h0M773.6 966.8h0M774.4 967.4h0M775.2 968h0M776 968.6h0M776.8 969.2h0" stroke="#a00000" stroke-width="20"/>
<path d="M777.6 969.7h0M778.4 970.3h0M779.2 970.9h0M780 971.5h0M780.8 972.1h0M781.6 972.7h0M782.4 973.2h0M783.3 973.8h0M784.1 974.4h0M784.9 975h0M785.7 975.5h0M786.5 976.1h0M787.3 976.7h0M788.1 977.3h0M789 977.8h0M789.8 978.4h0M790.6 979h0M791.4 979.5h0M792.2 980.1h0" stroke="#a00000" stroke-width="19.5"/>
<path d="M793.1 980.7h0M793.9 981.2h0M794.7 981.8h0M795.5 982.4h0M796.3 982.9h0M797.2 983.5h0M798 984h0M798.8 984.6h0M799.6 985.1h0M800.5 985.7h0M801.3 986.3h0M802.1 986.8h0M803 987.4h0M803.8 987.9h0M804.6 988.5h0M805.5 989h0" stroke="#a00000" stroke-width="19"/>
<path d="M806.3 989.6h0M807.1 990.1h0M808 990.7h0M808.8 991.2h0M809.6 991.7h0M810.5 992.3h0M811.3 992.8h0M812.2 993.4h0M813 993.9h0M813.8 994.4h0M814.7 995h0M815.5 995.5h0M816.4 996.1h0M817.2 996.6h0M818 997.1h0" stroke="#a00000" stroke-width="18.5"/>
<path d="M818.9 997.7h0M819.7 998.2h0M820.6 998.7h0M821.4 999.2h0M822.3 999.8h0M823.1 1000.3h0M824 1000.8h0M824.8 1001.3h0M825.7 1001.9h0M826.5 1002.4h0M827.4 1002.9h0M828.2 1003.4h0M829.1 1004h0M829.9 1004.5h0M830.8 1005h0M831.6 1005.5h0M832.5 1006h0M833.4 1006.5h0M834.2 1007h0M835.1 1007.6h0M835.9 1008.1h0M836.8 1008.6h0M837.7 1009.1h0M838.5 1009.6h0M839.4 1010.1h0M840.2 1010.6h0M841.1 1011.1h0M842 1011.6h0M842.8 1012.1h0M843.7 1012.6h0M844.6 1013.1h0M845.4 1013.6h0M846.3 1014.1h0M847.2 1014.6h0M848 1015.1h0M848.9 1015.6h0M849.8 1016.1h0M850.6 1016.6h0M851.5 1017.1h0M852.4 1017.6h0M853.2 1018.1h0M854.1 1018.6h0M855 1019h0M855.9 1019.5h0M856.7 1020h0M857.6 1020.5h0M858.5 1021h0M859.4 1021.5h0M860.2 1021.9h0M861.1 1022.4h0M862 1022.9h0M862.9 1023.4h0M863.8 1023.9h0M864.6 1024.3h0M865.5 1024.8h0M866.4 1025.3h0M867.3 1025.8h0M868.2 1026.2h0M869 1026.7h0M869.9 1027.2h0M870.8 1027.6h0M871.7 1028.1h0M872.6 1028.6h0M873.5 1029h0M874.4 1029.5h0M875.2 1030h0M876.1 1030.4h0M877 1030.9h0M877.9 1031.4h0M878.8 1031.8h0M879.7 1032.3h0M880.6 1032.7h0M881.5 1033.2h0M882.4 1033.6h0M883.3 1034.1h0M884.2 1034.5h0M885 1035h0M885.9 1035.5h0M886.8 1035.9h0M887.7 1036.3h0M888.6 1036.8h0M889.5 1037.2h0M890.4 1037.7h0M891.3 1038.1h0M892.2 1038.6h0M893.1 1039h0M894 1039.5h0M894.9 1039.9h0M895.8 1040.3h0M896.7 1040.8h0M897.6 1041.2h0M898.5 1041.7h0M899.4 1042.1h0M900.3 1042.5h0M901.2 1043h0M902.1 1043.4h0M903 1043.8h0M903.9 1044.2h0M904.8 1044.7h0M905.7 1045.1h0M906.7 1045.5h0M907.6 1046h0M908.5 1046.4h0" stroke="#a00000" stroke-width="18"/>
<path d="M909.4 1046.8h0M910.3 1047.2h0M911.2 1047.6h0M912.1 1048.1h0" stroke="#a00000" stroke-width="18.5"/>
<path d="M913 1048.5h0M913.9 1048.9h0M914.8 1049.3h0M915.7 1049.7h0M916.7 1050.2h0" stroke="#a00000" stroke-width="19"/>
<path d="M917.6 1050.6h0M918.5 1051h0M919.4 1051.4h0M920.3 1051.8h0" stroke="#a00000" stroke-width="19.5"/>
<path d="M921.2 1052.2h0M922.1 1052.6h0M923.1 1053h0M924 1053.4h0" stroke="#a00000" stroke-width="20"/>
<path d="M924.9 1053.8h0M925.8 1054.3h0M926.7 1054.7h0M927.6 1055.1h0M928.6 1055.5h0" stroke="#a00000" stroke-width="20.5"/>
<path d="M929.5 1055.9h0M930.4 1056.3h0M931.3 1056.7h0M932.2 1057.1h0" stroke="#a00000" stroke-width="21"/>
<path d="M933.1 1057.5h0M934.1 1057.8h0M935 1058.2h0M935.9 1058.6h0M936.8 1059h0M937.8 1059.4h0M938.7 1059.8h0M939.6 1060.2h0M940.5 1060.6h0M941.5 1061h0M942.4 1061.4h0M943.3 1061.7h0M944.2 1062.1h0M945.2 1062.5h0M946.1 1062.9h0M947 1063.3h0M947.9 1063.7h0M948.9 1064h0M949.8 1064.4h0M950.7 1064.8h0" stroke="#a00000" stroke-width="21.5"/>
<path d="M951.6 1065.2h0M952.6 1065.5h0M953.5 1065.9h0M954.4 1066.3h0M955.4 1066.7h0M956.3 1067h0M957.2 1067.4h0M958.2 1067.8h0M959.1 1068.1h0M960 1068.5h0M961 1068.9h0M961.9 1069.2h0M962.8 1069.6h0M963.8 1069.9h0M964.7 1070.3h0M965.6 1070.7h0M966.6 1071h0M967.5 1071.4h0M968.4 1071.7h0M969.4 1072.1h0M970.3 1072.5h0M971.2 1072.8h0M972.2 1073.2h0M973.1 1073.5h0M974 1073.9h0M975 1074.2h0M975.9 1074.6h0M976.9 1074.9h0M977.8 1075.3h0M978.7 1075.6h0M979.7 1075.9h0M980.6 1076.3h0M981.6 1076.6h0M982.5 1077h0M983.4 1077.3h0" stroke="#a00000" stroke-width="22"/>
<path d="M984.4 1077.6h0M985.3 1078h0M986.3 1078.3h0M987.2 1078.7h0M988.2 1079h0M989.1 1079.3h0M990 1079.7h0M991 1080h0M991.9 1080.3h0M992.9 1080.7h0M993.8 1081h0M994.8 1081.3h0M995.7 1081.6h0M996.6 1082h0M997.6 1082.3h0M998.5 1082.6h0M999.5 1082.9h0M1000.4 1083.3h0M1001.4 1083.6h0M1002.3 1083.9h0M1003.3 1084.2h0M1004.2 1084.5h0M1005.2 1084.8h0M1006.1 1085.2h0M1007.1 1085.5h0M1008 1085.8h0M1009 1086.1h0M1009.9 1086.4h0M1010.9 1086.7h0M1011.8 1087h0M1012.8 1087.3h0M1013.7 1087.6h0M1014.7 1087.9h0M1015.6 1088.3h0M1016.6 1088.6h0M1017.5 1088.9h0M1018.5 1089.2h0M1019.4 1089.5h0M1020.4 1089.8h0M1021.3 1090.1h0M1022.3 1090.4h0M1023.2 1090.7h0M1024.2 1090.9h0" stroke="#a00000" stroke-width="22.5"/>
<path d="M1025.1 1091.2h0M1026.1 1091.5h0M1027 1091.8h0M1028 1092.1h0M1029 1092.4h0M1029.9 1092.7h0M1030.9 1093h0M1031.8 1093.3h0M1032.8 1093.6h0M1033.7 1093.8h0M1034.7 1094.1h0M1035.6 1094.4h0M1036.6 1094.7h0M1037.6 1095h0M1038.5 1095.3h0M1039.5 1095.5h0M1040.4 1095.8h0M1041.4 1096.1h0M1042.3 1096.4h0M1043.3 1096.6h0M1044.3 1096.9h0M1045.2 1097.2h0M1046.2 1097.5h0M1047.1 1097.7h0M1048.1 1098h0M1049 1098.3h0M1050 1098.5h0M1051 1098.8h0M1051.9 1099.1h0M1052.9 1099.3h0M1053.8 1099.6h0M1054.8 1099.9h0M1055.8 1100.1h0M1056.7 1100.4h0M1057.7 1100.6h0M1058.6 1100.9h0M1059.6 1101.2h0M1060.6 1101.4h0M1061.5 1101.7h0M1062.5 1101.9h0M1063.4 1102.2h0M1064.4 1102.4h0M1065.4 1102.7h0M1066.3 1102.9h0M1067.3 1103.2h0M1068.3 1103.4h0M1069.2 1103.7h0M1070.2 1103.9h0M1071.2 1104.2h0M1072.1 1104.4h0M1073.1 1104.7h0M1074 1104.9h0" stroke="#a00000" stroke-width="23"/>
<path d="M1075 1105.2h0M1076 1105.4h0M1076.9 1105.6h0M1077.9 1105.9h0M1078.9 1106.1h0M1079.8 1106.4h0M1080.8 1106.6h0M1081.8 1106.8h0M1082.7 1107.1h0M1083.7 1107.3h0M1084.7 1107.5h0M1085.6 1107.8h0M1086.6 1108h0M1087.6 1108.2h0M1088.5 1108.5h0M1089.5 1108.7h0M1090.5 1108.9h0M1091.4 1109.1h0M1092.4 1109.4h0M1093.4 1109.6h0M1094.3 1109.8h0M1095.3 1110h0M1096.3 1110.3h0M1097.2 1110.5h0M1098.2 1110.7h0M1099.2 1110.9h0M1100.1 1111.1h0M1101.1 1111.4h0M1102.1 1111.6h0M1103 1111.8h0M1104 1112h0M1105 1112.2h0M1106 1112.4h0M1106.9 1112.6h0M1107.9 1112.9h0M1108.9 1113.1h0M1109.8 1113.3h0M1110.8 1113.5h0M1111.8 1113.7h0M1112.8 1113.9h0M1113.7 1114.1h0M1114.7 1114.3h0M1115.7 1114.5h0M1116.6 1114.7h0M1117.6 1114.9h0M1118.6 1115.1h0M1119.6 1115.3h0M1120.5 1115.5h0M1121.5 1115.7h0M1122.5 1115.9h0M1123.5 1116.1h0M1124.4 1116.3h0M1125.4 1116.5h0M1126.4 1116.7h0M1127.3 1116.9h0M1128.3 1117.1h0M1129.3 1117.3h0M1130.3 1117.5h0M1131.2 1117.7h0M1132.2 1117.9h0M1133.2 1118h0M1134.2 1118.2h0M1135.1 1118.4h0M1136.1 1118.6h0M1137.1 1118.8h0M1138.1 1119h0M1139 1119.2h0M1140 1119.3h0M1141 1119.5h0M1142 1119.7h0M1143 1119.9h0M1143.9 1120.1h0M1144.9 1120.2h0M1145.9 1120.4h0M1146.9 1120.6h0M1147.8 1120.8h0M1148.8 1121h0M1149.8 1121.1h0M1150.8 1121.3h0M1151.7 1121.5h0M1152.7 1121.6h0M1153.7 1121.8h0M1154.7 1122h0M1155.7 1122.2h0M1156.6 1122.3h0M1157.6 1122.5h0M1158.6 1122.7h0M1159.6 1122.8h0M1160.6 1123h0M1161.5 1123.2h0M1162.5 1123.3h0M1163.5 1123.5h0M1164.5 1123.7h0M1165.5 1123.8h0M1166.4 1124h0M1167.4 1124.1h0M1168.4 1124.3h0M1169.4 1124.5h0M1170.4 1124.6h0M1171.3 1124.8h0M1172.3 1124.9h0M1173.3 1125.1h0M1174.3 1125.2h0M1175.3 1125.4h0M1176.2 1125.6h0M1177.2 1125.7h0M1178.2 1125.9h0M1179.2 1126h0M1180.2 1126.2h0M1181.2 1126.3h0M1182.1 1126.5h0M1183.1 1126.6h0M1184.1 1126.8h0M1185.1 1126.9h0M1186.1 1127.1h0M1187.1 1127.2h0M1188 1127.3h0M1189 1127.5h0M1190 1127.6h0M1191 1127.8h0M1192 1127.9h0M1193 1128.1h0M1193.9 1128.2h0M1194.9 1128.3h0M1195.9 1128.5h0M1196.9 1128.6h0M1197.9 1128.8h0M1198.9 1128.9h0M1199.9 1129h0M1200.8 1129.2h0M1201.8 1129.3h0M1202.8 1129.4h0M1203.8 1129.6h0M1204.8 1129.7h0M1205.8 1129.8h0M1206.8 1130h0M1207.7 1130.1h0M1208.7 1130.2h0M1209.7 1130.4h0M1210.7 1130.5h0M1211.7 1130.6h0M1212.7 1130.7h0M1213.7 1130.9h0M1214.6 1131h0M1215.6 1131.1h0M1216.6 1131.2h0M1217.6 1131.4h0M1218.6 1131.5h0M1219.6 1131.6h0M1220.6 1131.7h0M1221.6 1131.9h0M1222.5 1132h0M1223.5 1132.1h0M1224.5 1132.2h0M1225.5 1132.3h0M1226.5 1132.4h0M1227.5 1132.6h0M1228.5 1132.7h0M1229.5 1132.8h0M1230.5 1132.9h0M1231.4 1133h0M1232.4 1133.1h0M1233.4 1133.3h0M1234.4 1133.4h0M1235.4 1133.5h0M1236.4 1133.6h0M1237.4 1133.7h0M1238.4 1133.8h0M1239.4 1133.9h0M1240.4 1134h0M1241.3 1134.1h0M1242.3 1134.2h0M1243.3 1134.4h0M1244.3 1134.5h0M1245.3 1134.6h0M1246.3 1134.7h0M1247.3 1134.8h0M1248.3 1134.9h0M1249.3 1135h0M1250.3 1135.1h0M1251.2 1135.2h0M1252.2 1135.3h0M1253.2 1135.4h0M1254.2 1135.5h0M1255.2 1135.6h0M1256.2 1135.7h0M1257.2 1135.8h0M1258.2 1135.9h0M1259.2 1136h0M1260.2 1136.1h0M1261.2 1136.2h0M1262.2 1136.3h0M1263.2 1136.4h0M1264.1 1136.5h0M1265.1 1136.6h0M1266.1 1136.7h0M1267.1 1136.7h0M1268.1 1136.8h0M1269.1 1136.9h0M1270.1 1137h0M1271.1 1137.1h0M1272.1 1137.2h0M1273.1 1137.3h0M1274.1 1137.4h0M1275.1 1137.5h0M1276.1 1137.6h0M1277.1 1137.6h0M1278.1 1137.7h0M1279.1 1137.8h0M1280 1137.9h0M1281 1138h0M1282 1138.1h0M1283 1138.2h0M1284 1138.2h0M1285 1138.3h0M1286 1138.4h0M1287 1138.5h0M1288 1138.6h0M1289 1138.6h0M1290 1138.7h0M1291 1138.8h0M1292 1138.9h0M1293 1139h0M1294 1139h0M1295 1139.1h0M1296 1139.2h0M1297 1139.3h0M1298 1139.3h0M1299 1139.4h0M1300 1139.5h0M1300.9 1139.6h0M1301.9 1139.6h0M1302.9 1139.7h0M1303.9 1139.8h0M1304.9 1139.9h0M1305.9 1139.9h0M1306.9 1140h0M1307.9 1140.1h0M1308.9 1140.1h0M1309.9 1140.2h0M1310.9 1140.3h0M1311.9 1140.3h0M1312.9 1140.4h0M1313.9 1140.5h0M1314.9 1140.5h0M1315.9 1140.6h0M1316.9 1140.7h0M1317.9 1140.7h0M1318.9 1140.8h0M1319.9 1140.9h0M1320.9 1140.9h0M1321.9 1141h0M1322.9 1141.1h0M1323.9 1141.1h0M1324.9 1141.2h0M1325.9 1141.3h0M1326.9 1141.3h0M1327.9 1141.4h0M1328.9 1141.4h0M1329.9 1141.5h0M1330.9 1141.6h0M1331.9 1141.6h0M1332.9 1141.7h0M1333.9 1141.7h0M1334.9 1141.8h0M1335.9 1141.8h0M1336.9 1141.9h0M1337.9 1142h0M1338.9 1142h0M1339.9 1142.1h0M1340.9 1142.1h0M1341.9 1142.2h0M1342.9 1142.2h0M1343.9 1142.3h0M1344.9 1142.3h0M1345.9 1142.4h0M1346.9 1142.4h0M1347.9 1142.5h0M1348.9 1142.6h0M1349.9 1142.6h0M1350.9 1142.7h0M1351.9 1142.7h0M1352.9 1142.8h0M1353.9 1142.8h0M1354.9 1142.9h0M1355.9 1142.9h0M1356.9 1143h0M1357.9 1143h0M1358.9 1143h0M1359.9 1143.1h0M1360.9 1143.1h0M1361.9 1143.2h0M1362.9 1143.2h0M1363.9 1143.3h0M1364.9 1143.3h0M1365.9 1143.4h0M1366.9 1143.4h0M1367.9 1143.5h0M1368.9 1143.5h0M1369.9 1143.5h0M1370.9 1143.6h0M1371.9 1143.6h0M1372.9 1143.7h0M1373.9 1143.7h0M1374.9 1143.8h0M1375.9 1143.8h0M1376.9 1143.8h0M1377.9 1143.9h0M1378.9 1143.9h0M1379.9 1144h0M1380.9 1144h0M1381.9 1144h0M1382.9 1144.1h0M1383.9 1144.1h0M1384.9 1144.1h0M1385.9 1144.2h0M1386.9 1144.2h0M1387.9 1144.3h0M1388.9 1144.3h0M1389.9 1144.3h0M1390.9 1144.4h0M1391.9 1144.4h0M1392.9 1144.4h0M1393.9 1144.5h0M1394.9 1144.5h0M1395.9 1144.5h0M1396.9 1144.6h0M1397.9 1144.6h0M1398.9 1144.6h0M1399.9 1144.7h0M1400.9 1144.7h0M1401.9 1144.7h0M1402.9 1144.8h0M1403.9 1144.8h0M1404.9 1144.8h0M1405.9 1144.9h0M1406.9 1144.9h0M1407.9 1144.9h0M1408.9 1144.9h0M1409.9 1145h0M1410.9 1145h0M1411.9 1145h0M1413 1145.1h0M1414 1145.1h0M1415 1145.1h0M1416 1145.1h0M1417 1145.2h0M1418 1145.2h0M1419 1145.2h0M1420 1145.2h0M1421 1145.3h0M1422 1145.3h0M1423 1145.3h0M1424 1145.4h0M1425 1145.4h0M1426 1145.4h0M1427 1145.4h0M1428 1145.4h0M1429 1145.5h0M1430 1145.5h0M1431 1145.5h0M1432 1145.5h0M1433 1145.6h0M1434 1145.6h0M1435 1145.6h0M1436 1145.6h0M1437 1145.7h0M1438 1145.7h0M1439 1145.7h0M1440 1145.7h0M1441 1145.7h0M1442 1145.8h0M1443 1145.8h0M1444.1 1145.8h0M1445.1 1145.8h0M1446.1 1145.8h0M1447.1 1145.9h0M1448.1 1145.9h0M1449.1 1145.9h0M1450.1 1145.9h0M1451.1 1145.9h0M1452.1 1145.9h0M1453.1 1146h0M1454.1 1146h0M1455.1 1146h0M1456.1 1146h0M1457.1 1146h0M1458.1 1146.1h0M1459.1 1146.1h0M1460.1 1146.1h0M1461.1 1146.1h0M1462.1 1146.1h0M1463.1 1146.1h0M1464.1 1146.1h0M1465.1 1146.2h0M1466.1 1146.2h0M1467.1 1146.2h0M1468.1 1146.2h0M1469.1 1146.2h0M1470.1 1146.2h0M1471.1 1146.2h0M1472.2 1146.3h0M1473.2 1146.3h0M1474.2 1146.3h0M1475.2 1146.3h0M1476.2 1146.3h0M1477.2 1146.3h0M1478.2 1146.3h0M1479.2 1146.4h0M1480.2 1146.4h0M1481.2 1146.4h0M1482.2 1146.4h0M1483.2 1146.4h0M1484.2 1146.4h0M1485.2 1146.4h0M1486.2 1146.4h0M1487.2 1146.4h0M1488.2 1146.5h0M1489.2 1146.5h0M1490.2 1146.5h0M1491.2 1146.5h0M1492.2 1146.5h0M1493.2 1146.5h0M1494.2 1146.5h0M1495.2 1146.5h0M1496.2 1146.5h0M1497.2 1146.6h0M1498.3 1146.6h0M1499.3 1146.6h0M1500.3 1146.6h0M1501.3 1146.6h0M1502.3 1146.6h0M1503.3 1146.6h0M1504.3 1146.6h0M1505.3 1146.6h0M1506.3 1146.6h0M1507.3 1146.6h0M1508.3 1146.6h0M1509.3 1146.7h0M1510.3 1146.7h0M1511.3 1146.7h0M1512.3 1146.7h0M1513.3 1146.7h0M1514.3 1146.7h0M1515.3 1146.7h0M1516.3 1146.7h0M1517.3 1146.7h0M1518.3 1146.7h0M1519.3 1146.7h0M1520.3 1146.7h0M1521.3 1146.7h0M1522.3 1146.8h0M1523.3 1146.8h0M1524.3 1146.8h0M1525.3 1146.8h0M1526.4 1146.8h0M1527.4 1146.8h0M1528.4 1146.8h0M1529.4 1146.8h0M1530.4 1146.8h0M1531.4 1146.8h0M1532.4 1146.8h0M1533.4 1146.8h0M1534.4 1146.8h0M1535.4 1146.8h0M1536.4 1146.8h0M1537.4 1146.8h0M1538.4 1146.8h0M1539.4 1146.9h0M1540.4 1146.9h0M1541.4 1146.9h0M1542.4 1146.9h0M1543.4 1146.9h0M1544.4 1146.9h0M1545.4 1146.9h0M1546.4 1146.9h0M1547.4 1146.9h0M1548.4 1146.9h0M1549.4 1146.9h0M1550.4 1146.9h0M1551.4 1146.9h0M1552.4 1146.9h0M1553.4 1146.9h0M1554.4 1146.9h0M1555.4 1146.9h0M1556.4 1146.9h0M1557.4 1146.9h0M1558.4 1146.9h0M1559.4 1146.9h0M1560.4 1147h0M1561.4 1147h0M1562.4 1147h0M1563.5 1147h0M1564.5 1147h0M1565.5 1147h0M1566.5 1147h0M1567.5 1147h0M1568.5 1147h0M1569.5 1147h0M1570.5 1147h0M1571.5 1147h0M1572.5 1147h0M1573.5 1147h0M1574.5 1147h0M1575.5 1147h0M1576.5 1147h0M1577.5 1147h0M1578.5 1147h0M1579.5 1147h0M1580.5 1147h0M1581.5 1147h0M1582.5 1147h0M1583.5 1147h0M1584.5 1147.1h0M1585.5 1147.1h0M1586.5 1147.1h0M1587.5 1147.1h0M1588.5 1147.1h0M1589.5 1147.1h0M1590.5 1147.1h0M1591.5 1147.1h0M1592.5 1147.1h0M1593.5 1147.1h0M1594.5 1147.1h0M1595.5 1147.1h0M1596.5 1147.1h0M1597.5 1147.1h0M1598.5 1147.1h0M1599.5 1147.1h0M1600.5 1147.1h0M1601.5 1147.1h0M1602.5 1147.1h0M1603.5 1147.1h0M1604.5 1147.1h0M1605.5 1147.2h0M1606.5 1147.2h0M1607.5 1147.2h0M1608.5 1147.2h0M1609.5 1147.2h0M1610.5 1147.2h0M1611.5 1147.2h0M1612.5 1147.2h0M1613.5 1147.2h0M1614.5 1147.2h0M1615.5 1147.2h0M1616.5 1147.2h0M1617.5 1147.2h0M1618.5 1147.2h0M1619.5 1147.2h0M1620.5 1147.2h0M1621.5 1147.2h0M1622.5 1147.3h0M1623.5 1147.3h0M1624.5 1147.3h0M1625.5 1147.3h0M1626.5 1147.3h0M1627.5 1147.3h0M1628.5 1147.3h0M1629.5 1147.3h0M1630.5 1147.3h0M1631.5 1147.3h0M1632.5 1147.3h0M1633.5 1147.3h0M1634.5 1147.3h0M1635.5 1147.3h0M1636.5 1147.4h0M1637.5 1147.4h0M1638.5 1147.4h0M1639.5 1147.4h0M1640.5 1147.4h0M1641.5 1147.4h0M1642.5 1147.4h0M1643.5 1147.4h0M1644.4 1147.4h0M1645.4 1147.4h0M1646.4 1147.4h0M1647.4 1147.5h0M1648.4 1147.5h0M1649.4 1147.5h0M1650.4 1147.5h0M1651.4 1147.5h0M1652.4 1147.5h0M1653.4 1147.5h0M1654.4 1147.5h0M1655.4 1147.5h0M1656.4 1147.5h0M1657.4 1147.6h0M1658.4 1147.6h0M1659.4 1147.6h0M1660.4 1147.6h0M1661.4 1147.6h0M1662.4 1147.6h0M1663.4 1147.6h0M1664.4 1147.6h0M1665.4 1147.6h0M1666.4 1147.7h0M1667.4 1147.7h0M1668.4 1147.7h0M1669.4 1147.7h0M1670.3 1147.7h0M1671.3 1147.7h0M1672.3 1147.7h0M1673.3 1147.8h0M1674.3 1147.8h0M1675.3 1147.8h0M1676.3 1147.8h0M1677.3 1147.8h0M1678.3 1147.8h0M1679.3 1147.8h0M1680.3 1147.9h0M1681.3 1147.9h0M1682.3 1147.9h0M1683.3 1147.9h0M1684.3 1147.9h0M1685.3 1147.9h0M1686.3 1147.9h0M1687.3 1148h0M1688.2 1148h0M1689.2 1148h0M1690.2 1148h0M1691.2 1148h0M1692.2 1148.1h0M1693.2 1148.1h0M1694.2 1148.1h0M1695.2 1148.1h0M1696.2 1148.1h0M1697.2 1148.1h0M1698.2 1148.2h0M1699.2 1148.2h0M1700.2 1148.2h0M1701.2 1148.2h0M1702.1 1148.2h0M1703.1 1148.3h0M1704.1 1148.3h0M1705.1 1148.3h0M1706.1 1148.3h0M1707.1 1148.3h0M1708.1 1148.4h0M1709.1 1148.4h0M1710.1 1148.4h0M1711.1 1148.4h0M1712.1 1148.5h0M1713 1148.5h0M1714 1148.5h0M1715 1148.5h0M1716 1148.5h0M1717 1148.6h0M1718 1148.6h0M1719 1148.6h0M1720 1148.6h0M1721 1148.7h0M1722 1148.7h0M1722.9 1148.7h0M1723.9 1148.7h0M1724.9 1148.8h0M1725.9 1148.8h0M1726.9 1148.8h0M1727.9 1148.9h0M1728.9 1148.9h0M1729.9 1148.9h0M1730.9 1148.9h0M1731.9 1149h0M1732.8 1149h0M1733.8 1149h0M1734.8 1149.1h0M1735.8 1149.1h0M1736.8 1149.1h0M1737.8 1149.1h0M1738.8 1149.2h0M1739.8 1149.2h0M1740.7 1149.2h0M1741.7 1149.3h0M1742.7 1149.3h0M1743.7 1149.3h0M1744.7 1149.4h0" stroke="#a00000" stroke-width="23.5"/>
</g>
<g font-size="56">
<text transform="translate(328 1173.8) scale(0.955 1)" text-anchor="end">0.00000</text><text transform="translate(328 1064.4) scale(0.955 1)" text-anchor="end">0.00005</text><text transform="translate(328 954.9) scale(0.955 1)" text-anchor="end">0.00010</text><text transform="translate(328 845.5) scale(0.955 1)" text-anchor="end">0.00015</text><text transform="translate(328 736.0) scale(0.955 1)" text-anchor="end">0.00020</text><text transform="translate(328 626.6) scale(0.955 1)" text-anchor="end">0.00025</text><text transform="translate(328 517.2) scale(0.955 1)" text-anchor="end">0.00030</text><text transform="translate(328 407.7) scale(0.955 1)" text-anchor="end">0.00035</text><text transform="translate(328 298.3) scale(0.955 1)" text-anchor="end">0.00040</text><text transform="translate(328 188.8) scale(0.955 1)" text-anchor="end">0.00045</text><text transform="translate(328 79.4) scale(0.955 1)" text-anchor="end">0.00050</text>
<text transform="translate(366.0 1237) scale(0.955 1)" text-anchor="middle">0</text><text transform="translate(526.2 1237) scale(0.955 1)" text-anchor="middle">20</text><text transform="translate(686.4 1237) scale(0.955 1)" text-anchor="middle">40</text><text transform="translate(846.5 1237) scale(0.955 1)" text-anchor="middle">60</text><text transform="translate(1006.7 1237) scale(0.955 1)" text-anchor="middle">80</text><text transform="translate(1166.9 1237) scale(0.955 1)" text-anchor="middle">100</text><text transform="translate(1327.1 1237) scale(0.955 1)" text-anchor="middle">120</text><text transform="translate(1487.2 1237) scale(0.955 1)" text-anchor="middle">140</text><text transform="translate(1647.4 1237) scale(0.955 1)" text-anchor="middle">160</text>
</g>
<g font-size="62">
<rect x="1082.5" y="161.2" width="25" height="25" fill="#000000"/><text transform="translate(1169.5 192.9)" font-size="62.5">Epoxy_oCB-3</text><rect x="1082.5" y="237.7" width="25" height="25" fill="#a00000"/><text transform="translate(1172.5 269.4)" font-size="62.5">Epoxy_oCB-2</text><rect x="1082.5" y="314.2" width="25" height="25" fill="#ff8000"/><text transform="translate(1172.5 345.9)" font-size="62.5">Epoxy_eGO</text><rect x="1082.5" y="390.7" width="25" height="25" fill="#0000a8"/><text transform="translate(1172.5 422.4)" font-size="62.5">Epoxy_oCB-1</text><rect x="1082.5" y="467.2" width="25" height="25" fill="#008000"/><text transform="translate(1172.5 498.9)" font-size="62.5">Epoxy</text>
<text x="906.5" y="1336" font-size="63.2">time (min)</text>
<text transform="translate(92.5,807.5) rotate(-90)" font-size="64">d<tspan font-family="Liberation Serif" stroke-width="0.6">α</tspan>/dt (s<tspan dy="-30">-1</tspan><tspan dy="30">)</tspan></text>
</g>
<rect x="0" y="1348.5" width="1755" height="20" fill="#fff"/>
</svg>
</body></html>
